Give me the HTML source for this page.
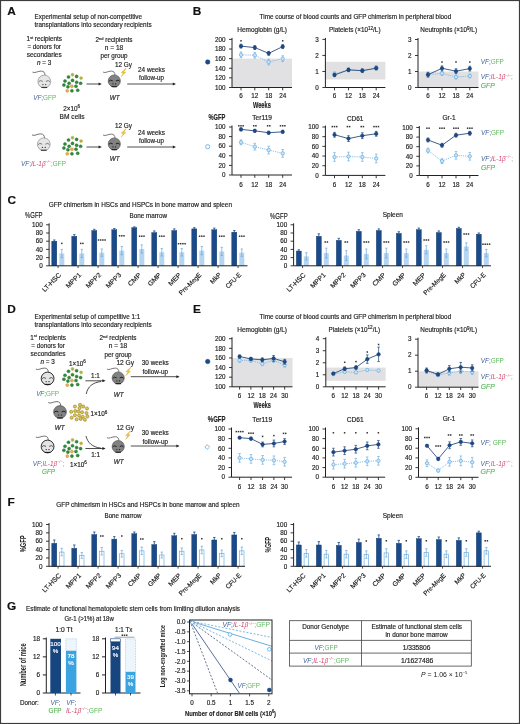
<!DOCTYPE html>
<html><head><meta charset="utf-8"><title>Figure</title>
<style>
html,body{margin:0;padding:0;background:#fff;}
body{width:520px;height:724px;overflow:hidden;}
svg{display:block;will-change:transform;}
text{font-family:"Liberation Sans", sans-serif;paint-order:stroke;stroke-width:0.16px;stroke-linejoin:round;}
</style></head>
<body>
<svg width="520" height="724" viewBox="0 0 520 724" font-family='"Liberation Sans", sans-serif'>
<rect x="0" y="0" width="520" height="724" fill="#fff"/>
<text x="7.20" y="15.40" font-size="10.6" fill="#111" stroke="#111" font-weight="bold" transform="translate(7.20,15.40) scale(1.12,1) translate(-7.20,-15.40)" >A</text>
<text x="192.80" y="15.40" font-size="10.6" fill="#111" stroke="#111" font-weight="bold" transform="translate(192.80,15.40) scale(1.12,1) translate(-192.80,-15.40)" >B</text>
<text x="7.40" y="204.40" font-size="10.6" fill="#111" stroke="#111" font-weight="bold" transform="translate(7.40,204.40) scale(1.12,1) translate(-7.40,-204.40)" >C</text>
<text x="7.20" y="313.00" font-size="10.6" fill="#111" stroke="#111" font-weight="bold" transform="translate(7.20,313.00) scale(1.12,1) translate(-7.20,-313.00)" >D</text>
<text x="193.00" y="313.40" font-size="10.6" fill="#111" stroke="#111" font-weight="bold" transform="translate(193.00,313.40) scale(1.12,1) translate(-193.00,-313.40)" >E</text>
<text x="7.40" y="506.30" font-size="10.6" fill="#111" stroke="#111" font-weight="bold" transform="translate(7.40,506.30) scale(1.12,1) translate(-7.40,-506.30)" >F</text>
<text x="7.00" y="610.00" font-size="10.6" fill="#111" stroke="#111" font-weight="bold" transform="translate(7.00,610.00) scale(1.12,1) translate(-7.00,-610.00)" >G</text>
<text x="34.60" y="19.40" font-size="6.35" fill="#222" stroke="#222" textLength="107.40" lengthAdjust="spacingAndGlyphs" >Experimental setup of non-competitive</text>
<text x="34.60" y="27.30" font-size="6.35" fill="#222" stroke="#222" textLength="117.00" lengthAdjust="spacingAndGlyphs" >transplantations into secondary recipients</text>
<text x="44.20" y="41.40" font-size="6.35" fill="#222" stroke="#222" text-anchor="middle" >1<tspan font-size="4" dy="-2.2">st</tspan><tspan dy="2.2"> recipients</tspan></text>
<text x="44.20" y="49.40" font-size="6.35" fill="#222" stroke="#222" text-anchor="middle" textLength="33.50" lengthAdjust="spacingAndGlyphs" >= donors for</text>
<text x="44.20" y="57.40" font-size="6.35" fill="#222" stroke="#222" text-anchor="middle" textLength="35.00" lengthAdjust="spacingAndGlyphs" >secondaries</text>
<text x="44.20" y="65.40" font-size="6.35" fill="#222" stroke="#222" text-anchor="middle" ><tspan font-style="italic">n</tspan> = 3</text>
<text x="114.00" y="42.00" font-size="6.35" fill="#222" stroke="#222" text-anchor="middle" >2<tspan font-size="4" dy="-2.2">nd</tspan><tspan dy="2.2"> recipients</tspan></text>
<text x="114.00" y="50.00" font-size="6.35" fill="#222" stroke="#222" text-anchor="middle" textLength="18.60" lengthAdjust="spacingAndGlyphs" >n = 18</text>
<text x="114.00" y="58.00" font-size="6.35" fill="#222" stroke="#222" text-anchor="middle" textLength="27.00" lengthAdjust="spacingAndGlyphs" >per group</text>
<text x="115.00" y="67.30" font-size="6.35" fill="#222" stroke="#222" textLength="17.00" lengthAdjust="spacingAndGlyphs" >12 Gy</text>
<text x="151.50" y="71.50" font-size="6.35" fill="#222" stroke="#222" text-anchor="middle" textLength="27.00" lengthAdjust="spacingAndGlyphs" >24 weeks</text>
<text x="151.50" y="80.00" font-size="6.35" fill="#222" stroke="#222" text-anchor="middle" textLength="25.00" lengthAdjust="spacingAndGlyphs" >follow-up</text>
<line x1="86.50" y1="84.00" x2="99.30" y2="84.00" stroke="#222" stroke-width="0.8" />
<path d="M101.80,84.00 L98.60,82.50 L98.60,85.50 Z" fill="#222"/>
<line x1="127.20" y1="84.00" x2="173.50" y2="84.00" stroke="#222" stroke-width="0.8" />
<path d="M176.00,84.00 L172.80,82.50 L172.80,85.50 Z" fill="#222"/>
<path d="M125.80,68.30 l-4.6,4.4 l2.2,0.2 l-2.2,3.8 l4.6,-4.6 l-2.1,-0.2 l2.6,-3.6 z" fill="#f3c53a" stroke="#c9961c" stroke-width="0.3"/>
<g transform="translate(114.30,81.00) scale(0.95)"><path d="M-11.8,-9.4 C-9.5,-7.8 -6.5,-10.6 -3,-10.4 C-0.6,-10.3 0.6,-9 0.7,-6.4" fill="none" stroke="#444" stroke-width="0.75"/><circle cx="0" cy="0" r="6.4" fill="#828282" stroke="#3c3c3c" stroke-width="0.6"/><path d="M-5.7,0.3 Q-4.3,-1.9 -1.6,-0.1 M5.7,0.3 Q4.3,-1.9 1.6,-0.1" fill="none" stroke="#1e1e1e" stroke-width="1.0"/><circle cx="-1.4" cy="3.1" r="0.65" fill="#1e1e1e"/><circle cx="1.4" cy="3.1" r="0.65" fill="#1e1e1e"/><path d="M-2.9,5.9 L2.9,5.9" stroke="#1e1e1e" stroke-width="1.1"/></g>
<text x="114.60" y="99.60" font-size="6.35" fill="#222" stroke="#222" text-anchor="middle" font-style="italic" >WT</text>
<circle cx="72.50" cy="74.70" r="1.45" fill="#9bb84a" stroke="#d2aa3c" stroke-width="0.6"/><circle cx="68.50" cy="77.00" r="1.55" fill="#2f8a3a" stroke="#256e2e" stroke-width="0.4"/><circle cx="76.60" cy="76.40" r="1.55" fill="#2f8a3a" stroke="#256e2e" stroke-width="0.4"/><circle cx="81.10" cy="78.10" r="1.45" fill="#9bb84a" stroke="#d2aa3c" stroke-width="0.6"/><circle cx="65.00" cy="81.00" r="1.55" fill="#2f8a3a" stroke="#256e2e" stroke-width="0.4"/><circle cx="72.50" cy="80.40" r="1.55" fill="#2f8a3a" stroke="#256e2e" stroke-width="0.4"/><circle cx="76.60" cy="82.20" r="1.55" fill="#2f8a3a" stroke="#256e2e" stroke-width="0.4"/><circle cx="80.60" cy="83.30" r="1.55" fill="#2f8a3a" stroke="#256e2e" stroke-width="0.4"/><circle cx="69.10" cy="83.30" r="1.55" fill="#2f8a3a" stroke="#256e2e" stroke-width="0.4"/><circle cx="63.90" cy="85.00" r="1.55" fill="#2f8a3a" stroke="#256e2e" stroke-width="0.4"/><circle cx="71.90" cy="86.20" r="1.55" fill="#e3ad55" stroke="#c98d2e" stroke-width="0.4"/><circle cx="67.90" cy="86.80" r="1.55" fill="#2f8a3a" stroke="#256e2e" stroke-width="0.4"/><circle cx="76.00" cy="86.20" r="1.55" fill="#2f8a3a" stroke="#256e2e" stroke-width="0.4"/><circle cx="67.30" cy="90.80" r="1.55" fill="#e3ad55" stroke="#c98d2e" stroke-width="0.4"/><circle cx="71.90" cy="90.80" r="1.55" fill="#2f8a3a" stroke="#256e2e" stroke-width="0.4"/><circle cx="77.70" cy="90.20" r="1.55" fill="#2f8a3a" stroke="#256e2e" stroke-width="0.4"/>
<text x="115.00" y="127.50" font-size="6.35" fill="#222" stroke="#222" textLength="17.00" lengthAdjust="spacingAndGlyphs" >12 Gy</text>
<text x="151.50" y="134.50" font-size="6.35" fill="#222" stroke="#222" text-anchor="middle" textLength="27.00" lengthAdjust="spacingAndGlyphs" >24 weeks</text>
<text x="151.50" y="143.00" font-size="6.35" fill="#222" stroke="#222" text-anchor="middle" textLength="25.00" lengthAdjust="spacingAndGlyphs" >follow-up</text>
<line x1="86.50" y1="147.00" x2="99.30" y2="147.00" stroke="#222" stroke-width="0.8" />
<path d="M101.80,147.00 L98.60,145.50 L98.60,148.50 Z" fill="#222"/>
<line x1="127.20" y1="147.00" x2="173.50" y2="147.00" stroke="#222" stroke-width="0.8" />
<path d="M176.00,147.00 L172.80,145.50 L172.80,148.50 Z" fill="#222"/>
<path d="M125.80,128.80 l-4.6,4.4 l2.2,0.2 l-2.2,3.8 l4.6,-4.6 l-2.1,-0.2 l2.6,-3.6 z" fill="#f3c53a" stroke="#c9961c" stroke-width="0.3"/>
<g transform="translate(114.30,144.00) scale(0.95)"><path d="M-11.8,-9.4 C-9.5,-7.8 -6.5,-10.6 -3,-10.4 C-0.6,-10.3 0.6,-9 0.7,-6.4" fill="none" stroke="#444" stroke-width="0.75"/><circle cx="0" cy="0" r="6.4" fill="#828282" stroke="#3c3c3c" stroke-width="0.6"/><path d="M-5.7,0.3 Q-4.3,-1.9 -1.6,-0.1 M5.7,0.3 Q4.3,-1.9 1.6,-0.1" fill="none" stroke="#1e1e1e" stroke-width="1.0"/><circle cx="-1.4" cy="3.1" r="0.65" fill="#1e1e1e"/><circle cx="1.4" cy="3.1" r="0.65" fill="#1e1e1e"/><path d="M-2.9,5.9 L2.9,5.9" stroke="#1e1e1e" stroke-width="1.1"/></g>
<text x="114.60" y="160.60" font-size="6.35" fill="#222" stroke="#222" text-anchor="middle" font-style="italic" >WT</text>
<circle cx="72.50" cy="137.70" r="1.45" fill="#9bb84a" stroke="#d2aa3c" stroke-width="0.6"/><circle cx="68.50" cy="140.00" r="1.55" fill="#2f8a3a" stroke="#256e2e" stroke-width="0.4"/><circle cx="76.60" cy="139.40" r="1.55" fill="#2f8a3a" stroke="#256e2e" stroke-width="0.4"/><circle cx="81.10" cy="141.10" r="1.45" fill="#9bb84a" stroke="#d2aa3c" stroke-width="0.6"/><circle cx="65.00" cy="144.00" r="1.55" fill="#2f8a3a" stroke="#256e2e" stroke-width="0.4"/><circle cx="72.50" cy="143.40" r="1.55" fill="#2f8a3a" stroke="#256e2e" stroke-width="0.4"/><circle cx="76.60" cy="145.20" r="1.55" fill="#2f8a3a" stroke="#256e2e" stroke-width="0.4"/><circle cx="80.60" cy="146.30" r="1.55" fill="#2f8a3a" stroke="#256e2e" stroke-width="0.4"/><circle cx="69.10" cy="146.30" r="1.55" fill="#2f8a3a" stroke="#256e2e" stroke-width="0.4"/><circle cx="63.90" cy="148.00" r="1.55" fill="#2f8a3a" stroke="#256e2e" stroke-width="0.4"/><circle cx="71.90" cy="149.20" r="1.55" fill="#e3ad55" stroke="#c98d2e" stroke-width="0.4"/><circle cx="67.90" cy="149.80" r="1.55" fill="#2f8a3a" stroke="#256e2e" stroke-width="0.4"/><circle cx="76.00" cy="149.20" r="1.55" fill="#2f8a3a" stroke="#256e2e" stroke-width="0.4"/><circle cx="67.30" cy="153.80" r="1.55" fill="#e3ad55" stroke="#c98d2e" stroke-width="0.4"/><circle cx="71.90" cy="153.80" r="1.55" fill="#2f8a3a" stroke="#256e2e" stroke-width="0.4"/><circle cx="77.70" cy="153.20" r="1.55" fill="#2f8a3a" stroke="#256e2e" stroke-width="0.4"/>
<g transform="translate(44.30,81.50) scale(1.0)"><path d="M-11.8,-9.4 C-9.5,-7.8 -6.5,-10.6 -3,-10.4 C-0.6,-10.3 0.6,-9 0.7,-6.4" fill="none" stroke="#444" stroke-width="0.75"/><circle cx="0" cy="0" r="6.4" fill="#e6e6e6" stroke="#7a7a7a" stroke-width="0.6"/><path d="M-5.7,0.3 Q-4.3,-1.9 -1.6,-0.1 M5.7,0.3 Q4.3,-1.9 1.6,-0.1" fill="none" stroke="#7a7a7a" stroke-width="1.0"/><circle cx="-1.4" cy="3.1" r="0.65" fill="#333"/><circle cx="1.4" cy="3.1" r="0.65" fill="#333"/><path d="M-2.9,5.9 L2.9,5.9" stroke="#333" stroke-width="1.1"/></g>
<g transform="translate(43.80,144.30) scale(1.0)"><path d="M-11.8,-9.4 C-9.5,-7.8 -6.5,-10.6 -3,-10.4 C-0.6,-10.3 0.6,-9 0.7,-6.4" fill="none" stroke="#444" stroke-width="0.75"/><circle cx="0" cy="0" r="6.4" fill="#e6e6e6" stroke="#7a7a7a" stroke-width="0.6"/><path d="M-5.7,0.3 Q-4.3,-1.9 -1.6,-0.1 M5.7,0.3 Q4.3,-1.9 1.6,-0.1" fill="none" stroke="#7a7a7a" stroke-width="1.0"/><circle cx="-1.4" cy="3.1" r="0.65" fill="#333"/><circle cx="1.4" cy="3.1" r="0.65" fill="#333"/><path d="M-2.9,5.9 L2.9,5.9" stroke="#333" stroke-width="1.1"/></g>
<text x="44.70" y="99.50" font-size="6.35" text-anchor="middle"><tspan fill="#3e5f98" font-style="italic">VF</tspan><tspan fill="#3e5f98">;</tspan><tspan fill="#5cb85c">GFP</tspan></text>
<text x="71.60" y="111.00" font-size="6.35" fill="#222" stroke="#222" text-anchor="middle" >2×10<tspan font-size="4.6" dy="-2.6">6</tspan></text>
<text x="72.10" y="118.80" font-size="6.35" fill="#222" stroke="#222" text-anchor="middle" textLength="25.00" lengthAdjust="spacingAndGlyphs" >BM cells</text>
<text x="21.00" y="165.60" font-size="6.35" textLength="45.00" lengthAdjust="spacingAndGlyphs"><tspan fill="#3e5f98" font-style="italic">VF</tspan><tspan fill="#3e5f98">;</tspan><tspan fill="#d4466e" font-style="italic">IL-1β</tspan><tspan fill="#d4466e" font-style="italic"><tspan font-size="3.81" dy="-2.54">−/−</tspan></tspan><tspan fill="#5cb85c" dy="2.54">;GFP</tspan></text>
<text x="259.60" y="19.30" font-size="6.35" fill="#222" stroke="#222" textLength="191.60" lengthAdjust="spacingAndGlyphs" >Time course of blood counts and GFP chimerism in peripheral blood</text>
<text x="237.30" y="32.30" font-size="6.35" fill="#222" stroke="#222" textLength="49.70" lengthAdjust="spacingAndGlyphs" >Hemoglobin (g/L)</text>
<rect x="232.00" y="58.64" width="60.00" height="28.86" fill="#e1e1e3" stroke="none" stroke-width="0" />
<line x1="232.00" y1="37.90" x2="232.00" y2="87.50" stroke="#222" stroke-width="1.0" />
<line x1="232.00" y1="87.50" x2="292.00" y2="87.50" stroke="#222" stroke-width="1.0" />
<line x1="229.00" y1="87.50" x2="232.00" y2="87.50" stroke="#222" stroke-width="0.9" />
<text x="225.40" y="89.75" font-size="6.3" fill="#222" stroke="#222" text-anchor="end" >100</text>
<line x1="229.00" y1="77.88" x2="232.00" y2="77.88" stroke="#222" stroke-width="0.9" />
<text x="225.40" y="80.13" font-size="6.3" fill="#222" stroke="#222" text-anchor="end" >120</text>
<line x1="229.00" y1="68.26" x2="232.00" y2="68.26" stroke="#222" stroke-width="0.9" />
<text x="225.40" y="70.51" font-size="6.3" fill="#222" stroke="#222" text-anchor="end" >140</text>
<line x1="229.00" y1="58.64" x2="232.00" y2="58.64" stroke="#222" stroke-width="0.9" />
<text x="225.40" y="60.89" font-size="6.3" fill="#222" stroke="#222" text-anchor="end" >160</text>
<line x1="229.00" y1="49.02" x2="232.00" y2="49.02" stroke="#222" stroke-width="0.9" />
<text x="225.40" y="51.27" font-size="6.3" fill="#222" stroke="#222" text-anchor="end" >180</text>
<line x1="229.00" y1="39.40" x2="232.00" y2="39.40" stroke="#222" stroke-width="0.9" />
<text x="225.40" y="41.65" font-size="6.3" fill="#222" stroke="#222" text-anchor="end" >200</text>
<line x1="241.00" y1="87.50" x2="241.00" y2="90.30" stroke="#222" stroke-width="0.9" />
<line x1="254.80" y1="87.50" x2="254.80" y2="90.30" stroke="#222" stroke-width="0.9" />
<line x1="268.70" y1="87.50" x2="268.70" y2="90.30" stroke="#222" stroke-width="0.9" />
<line x1="282.70" y1="87.50" x2="282.70" y2="90.30" stroke="#222" stroke-width="0.9" />
<text x="241.00" y="98.40" font-size="6.3" fill="#222" stroke="#222" text-anchor="middle" >6</text>
<text x="254.80" y="98.40" font-size="6.3" fill="#222" stroke="#222" text-anchor="middle" >12</text>
<text x="268.70" y="98.40" font-size="6.3" fill="#222" stroke="#222" text-anchor="middle" >18</text>
<text x="282.70" y="98.40" font-size="6.3" fill="#222" stroke="#222" text-anchor="middle" >24</text>
<polyline points="241.00,54.79 254.80,55.27 268.70,62.01 282.70,58.64" fill="none" stroke="#6fb1e3" stroke-width="0.8" stroke-dasharray="1.2,1"/>
<line x1="241.00" y1="57.68" x2="241.00" y2="51.91" stroke="#6fb1e3" stroke-width="0.7" />
<line x1="239.70" y1="51.91" x2="242.30" y2="51.91" stroke="#6fb1e3" stroke-width="0.7" />
<line x1="239.70" y1="57.68" x2="242.30" y2="57.68" stroke="#6fb1e3" stroke-width="0.7" />
<circle cx="241.00" cy="54.79" r="1.7" fill="#cfe6f7" stroke="#6fb1e3" stroke-width="0.8"/>
<line x1="254.80" y1="58.16" x2="254.80" y2="52.39" stroke="#6fb1e3" stroke-width="0.7" />
<line x1="253.50" y1="52.39" x2="256.10" y2="52.39" stroke="#6fb1e3" stroke-width="0.7" />
<line x1="253.50" y1="58.16" x2="256.10" y2="58.16" stroke="#6fb1e3" stroke-width="0.7" />
<circle cx="254.80" cy="55.27" r="1.7" fill="#cfe6f7" stroke="#6fb1e3" stroke-width="0.8"/>
<line x1="268.70" y1="64.89" x2="268.70" y2="59.12" stroke="#6fb1e3" stroke-width="0.7" />
<line x1="267.40" y1="59.12" x2="270.00" y2="59.12" stroke="#6fb1e3" stroke-width="0.7" />
<line x1="267.40" y1="64.89" x2="270.00" y2="64.89" stroke="#6fb1e3" stroke-width="0.7" />
<circle cx="268.70" cy="62.01" r="1.7" fill="#cfe6f7" stroke="#6fb1e3" stroke-width="0.8"/>
<line x1="282.70" y1="61.53" x2="282.70" y2="55.75" stroke="#6fb1e3" stroke-width="0.7" />
<line x1="281.40" y1="55.75" x2="284.00" y2="55.75" stroke="#6fb1e3" stroke-width="0.7" />
<line x1="281.40" y1="61.53" x2="284.00" y2="61.53" stroke="#6fb1e3" stroke-width="0.7" />
<circle cx="282.70" cy="58.64" r="1.7" fill="#cfe6f7" stroke="#6fb1e3" stroke-width="0.8"/>
<polyline points="241.00,46.13 254.80,47.58 268.70,53.35 282.70,46.62" fill="none" stroke="#1f4275" stroke-width="0.85"/>
<line x1="241.00" y1="48.06" x2="241.00" y2="44.21" stroke="#1f4275" stroke-width="0.7" />
<line x1="239.70" y1="44.21" x2="242.30" y2="44.21" stroke="#1f4275" stroke-width="0.7" />
<line x1="239.70" y1="48.06" x2="242.30" y2="48.06" stroke="#1f4275" stroke-width="0.7" />
<circle cx="241.00" cy="46.13" r="1.8" fill="#1a4a88" stroke="#12386a" stroke-width="0.4"/>
<line x1="254.80" y1="49.50" x2="254.80" y2="45.65" stroke="#1f4275" stroke-width="0.7" />
<line x1="253.50" y1="45.65" x2="256.10" y2="45.65" stroke="#1f4275" stroke-width="0.7" />
<line x1="253.50" y1="49.50" x2="256.10" y2="49.50" stroke="#1f4275" stroke-width="0.7" />
<circle cx="254.80" cy="47.58" r="1.8" fill="#1a4a88" stroke="#12386a" stroke-width="0.4"/>
<line x1="268.70" y1="55.27" x2="268.70" y2="51.42" stroke="#1f4275" stroke-width="0.7" />
<line x1="267.40" y1="51.42" x2="270.00" y2="51.42" stroke="#1f4275" stroke-width="0.7" />
<line x1="267.40" y1="55.27" x2="270.00" y2="55.27" stroke="#1f4275" stroke-width="0.7" />
<circle cx="268.70" cy="53.35" r="1.8" fill="#1a4a88" stroke="#12386a" stroke-width="0.4"/>
<line x1="282.70" y1="48.54" x2="282.70" y2="44.69" stroke="#1f4275" stroke-width="0.7" />
<line x1="281.40" y1="44.69" x2="284.00" y2="44.69" stroke="#1f4275" stroke-width="0.7" />
<line x1="281.40" y1="48.54" x2="284.00" y2="48.54" stroke="#1f4275" stroke-width="0.7" />
<circle cx="282.70" cy="46.62" r="1.8" fill="#1a4a88" stroke="#12386a" stroke-width="0.4"/>
<rect x="240.25" y="40.05" width="1.5" height="1.5" fill="#333"/>
<rect x="281.95" y="40.05" width="1.5" height="1.5" fill="#333"/>
<text x="329.00" y="32.30" font-size="6.35" fill="#222" stroke="#222" >Platelets (×10<tspan font-size="4.6" dy="-2.5">12</tspan><tspan dy="2.5">/L)</tspan></text>
<rect x="325.40" y="61.85" width="60.00" height="17.64" fill="#e1e1e3" stroke="none" stroke-width="0" />
<line x1="325.40" y1="37.90" x2="325.40" y2="87.50" stroke="#222" stroke-width="1.0" />
<line x1="325.40" y1="87.50" x2="385.40" y2="87.50" stroke="#222" stroke-width="1.0" />
<line x1="322.40" y1="87.50" x2="325.40" y2="87.50" stroke="#222" stroke-width="0.9" />
<text x="318.80" y="89.75" font-size="6.3" fill="#222" stroke="#222" text-anchor="end" >0</text>
<line x1="322.40" y1="71.47" x2="325.40" y2="71.47" stroke="#222" stroke-width="0.9" />
<text x="318.80" y="73.72" font-size="6.3" fill="#222" stroke="#222" text-anchor="end" >1</text>
<line x1="322.40" y1="55.43" x2="325.40" y2="55.43" stroke="#222" stroke-width="0.9" />
<text x="318.80" y="57.68" font-size="6.3" fill="#222" stroke="#222" text-anchor="end" >2</text>
<line x1="322.40" y1="39.40" x2="325.40" y2="39.40" stroke="#222" stroke-width="0.9" />
<text x="318.80" y="41.65" font-size="6.3" fill="#222" stroke="#222" text-anchor="end" >3</text>
<line x1="334.50" y1="87.50" x2="334.50" y2="90.30" stroke="#222" stroke-width="0.9" />
<line x1="348.50" y1="87.50" x2="348.50" y2="90.30" stroke="#222" stroke-width="0.9" />
<line x1="362.30" y1="87.50" x2="362.30" y2="90.30" stroke="#222" stroke-width="0.9" />
<line x1="376.20" y1="87.50" x2="376.20" y2="90.30" stroke="#222" stroke-width="0.9" />
<text x="334.50" y="98.40" font-size="6.3" fill="#222" stroke="#222" text-anchor="middle" >6</text>
<text x="348.50" y="98.40" font-size="6.3" fill="#222" stroke="#222" text-anchor="middle" >12</text>
<text x="362.30" y="98.40" font-size="6.3" fill="#222" stroke="#222" text-anchor="middle" >18</text>
<text x="376.20" y="98.40" font-size="6.3" fill="#222" stroke="#222" text-anchor="middle" >24</text>
<polyline points="334.50,73.87 348.50,69.86 362.30,70.66 376.20,67.46" fill="none" stroke="#6fb1e3" stroke-width="0.8" stroke-dasharray="1.2,1"/>
<line x1="334.50" y1="75.80" x2="334.50" y2="71.95" stroke="#6fb1e3" stroke-width="0.7" />
<line x1="333.20" y1="71.95" x2="335.80" y2="71.95" stroke="#6fb1e3" stroke-width="0.7" />
<line x1="333.20" y1="75.80" x2="335.80" y2="75.80" stroke="#6fb1e3" stroke-width="0.7" />
<circle cx="334.50" cy="73.87" r="1.7" fill="#cfe6f7" stroke="#6fb1e3" stroke-width="0.8"/>
<line x1="348.50" y1="71.79" x2="348.50" y2="67.94" stroke="#6fb1e3" stroke-width="0.7" />
<line x1="347.20" y1="67.94" x2="349.80" y2="67.94" stroke="#6fb1e3" stroke-width="0.7" />
<line x1="347.20" y1="71.79" x2="349.80" y2="71.79" stroke="#6fb1e3" stroke-width="0.7" />
<circle cx="348.50" cy="69.86" r="1.7" fill="#cfe6f7" stroke="#6fb1e3" stroke-width="0.8"/>
<line x1="362.30" y1="72.59" x2="362.30" y2="68.74" stroke="#6fb1e3" stroke-width="0.7" />
<line x1="361.00" y1="68.74" x2="363.60" y2="68.74" stroke="#6fb1e3" stroke-width="0.7" />
<line x1="361.00" y1="72.59" x2="363.60" y2="72.59" stroke="#6fb1e3" stroke-width="0.7" />
<circle cx="362.30" cy="70.66" r="1.7" fill="#cfe6f7" stroke="#6fb1e3" stroke-width="0.8"/>
<line x1="376.20" y1="69.38" x2="376.20" y2="65.53" stroke="#6fb1e3" stroke-width="0.7" />
<line x1="374.90" y1="65.53" x2="377.50" y2="65.53" stroke="#6fb1e3" stroke-width="0.7" />
<line x1="374.90" y1="69.38" x2="377.50" y2="69.38" stroke="#6fb1e3" stroke-width="0.7" />
<circle cx="376.20" cy="67.46" r="1.7" fill="#cfe6f7" stroke="#6fb1e3" stroke-width="0.8"/>
<polyline points="334.50,74.99 348.50,69.86 362.30,70.66 376.20,68.26" fill="none" stroke="#1f4275" stroke-width="0.85"/>
<line x1="334.50" y1="76.60" x2="334.50" y2="73.39" stroke="#1f4275" stroke-width="0.7" />
<line x1="333.20" y1="73.39" x2="335.80" y2="73.39" stroke="#1f4275" stroke-width="0.7" />
<line x1="333.20" y1="76.60" x2="335.80" y2="76.60" stroke="#1f4275" stroke-width="0.7" />
<circle cx="334.50" cy="74.99" r="1.8" fill="#1a4a88" stroke="#12386a" stroke-width="0.4"/>
<line x1="348.50" y1="71.47" x2="348.50" y2="68.26" stroke="#1f4275" stroke-width="0.7" />
<line x1="347.20" y1="68.26" x2="349.80" y2="68.26" stroke="#1f4275" stroke-width="0.7" />
<line x1="347.20" y1="71.47" x2="349.80" y2="71.47" stroke="#1f4275" stroke-width="0.7" />
<circle cx="348.50" cy="69.86" r="1.8" fill="#1a4a88" stroke="#12386a" stroke-width="0.4"/>
<line x1="362.30" y1="72.27" x2="362.30" y2="69.06" stroke="#1f4275" stroke-width="0.7" />
<line x1="361.00" y1="69.06" x2="363.60" y2="69.06" stroke="#1f4275" stroke-width="0.7" />
<line x1="361.00" y1="72.27" x2="363.60" y2="72.27" stroke="#1f4275" stroke-width="0.7" />
<circle cx="362.30" cy="70.66" r="1.8" fill="#1a4a88" stroke="#12386a" stroke-width="0.4"/>
<line x1="376.20" y1="69.86" x2="376.20" y2="66.66" stroke="#1f4275" stroke-width="0.7" />
<line x1="374.90" y1="66.66" x2="377.50" y2="66.66" stroke="#1f4275" stroke-width="0.7" />
<line x1="374.90" y1="69.86" x2="377.50" y2="69.86" stroke="#1f4275" stroke-width="0.7" />
<circle cx="376.20" cy="68.26" r="1.8" fill="#1a4a88" stroke="#12386a" stroke-width="0.4"/>
<text x="420.30" y="32.30" font-size="6.35" fill="#222" stroke="#222" >Neutrophils (×10<tspan font-size="4.6" dy="-2.5">9</tspan><tspan dy="2.5">/L)</tspan></text>
<rect x="418.00" y="71.50" width="60.50" height="16.00" fill="#e1e1e3" stroke="none" stroke-width="0" />
<line x1="418.00" y1="38.00" x2="418.00" y2="87.50" stroke="#222" stroke-width="1.0" />
<line x1="418.00" y1="87.50" x2="478.50" y2="87.50" stroke="#222" stroke-width="1.0" />
<line x1="415.00" y1="87.50" x2="418.00" y2="87.50" stroke="#222" stroke-width="0.9" />
<text x="411.40" y="89.75" font-size="6.3" fill="#222" stroke="#222" text-anchor="end" >0</text>
<line x1="415.00" y1="71.50" x2="418.00" y2="71.50" stroke="#222" stroke-width="0.9" />
<text x="411.40" y="73.75" font-size="6.3" fill="#222" stroke="#222" text-anchor="end" >1</text>
<line x1="415.00" y1="55.50" x2="418.00" y2="55.50" stroke="#222" stroke-width="0.9" />
<text x="411.40" y="57.75" font-size="6.3" fill="#222" stroke="#222" text-anchor="end" >2</text>
<line x1="415.00" y1="39.50" x2="418.00" y2="39.50" stroke="#222" stroke-width="0.9" />
<text x="411.40" y="41.75" font-size="6.3" fill="#222" stroke="#222" text-anchor="end" >3</text>
<line x1="428.00" y1="87.50" x2="428.00" y2="90.30" stroke="#222" stroke-width="0.9" />
<line x1="442.00" y1="87.50" x2="442.00" y2="90.30" stroke="#222" stroke-width="0.9" />
<line x1="456.00" y1="87.50" x2="456.00" y2="90.30" stroke="#222" stroke-width="0.9" />
<line x1="469.80" y1="87.50" x2="469.80" y2="90.30" stroke="#222" stroke-width="0.9" />
<text x="428.00" y="98.40" font-size="6.3" fill="#222" stroke="#222" text-anchor="middle" >6</text>
<text x="442.00" y="98.40" font-size="6.3" fill="#222" stroke="#222" text-anchor="middle" >12</text>
<text x="456.00" y="98.40" font-size="6.3" fill="#222" stroke="#222" text-anchor="middle" >18</text>
<text x="469.80" y="98.40" font-size="6.3" fill="#222" stroke="#222" text-anchor="middle" >24</text>
<polyline points="428.00,74.70 442.00,73.42 456.00,77.10 469.80,75.98" fill="none" stroke="#6fb1e3" stroke-width="0.8" stroke-dasharray="1.2,1"/>
<line x1="428.00" y1="76.62" x2="428.00" y2="72.78" stroke="#6fb1e3" stroke-width="0.7" />
<line x1="426.70" y1="72.78" x2="429.30" y2="72.78" stroke="#6fb1e3" stroke-width="0.7" />
<line x1="426.70" y1="76.62" x2="429.30" y2="76.62" stroke="#6fb1e3" stroke-width="0.7" />
<circle cx="428.00" cy="74.70" r="1.7" fill="#cfe6f7" stroke="#6fb1e3" stroke-width="0.8"/>
<line x1="442.00" y1="75.34" x2="442.00" y2="71.50" stroke="#6fb1e3" stroke-width="0.7" />
<line x1="440.70" y1="71.50" x2="443.30" y2="71.50" stroke="#6fb1e3" stroke-width="0.7" />
<line x1="440.70" y1="75.34" x2="443.30" y2="75.34" stroke="#6fb1e3" stroke-width="0.7" />
<circle cx="442.00" cy="73.42" r="1.7" fill="#cfe6f7" stroke="#6fb1e3" stroke-width="0.8"/>
<line x1="456.00" y1="79.02" x2="456.00" y2="75.18" stroke="#6fb1e3" stroke-width="0.7" />
<line x1="454.70" y1="75.18" x2="457.30" y2="75.18" stroke="#6fb1e3" stroke-width="0.7" />
<line x1="454.70" y1="79.02" x2="457.30" y2="79.02" stroke="#6fb1e3" stroke-width="0.7" />
<circle cx="456.00" cy="77.10" r="1.7" fill="#cfe6f7" stroke="#6fb1e3" stroke-width="0.8"/>
<line x1="469.80" y1="77.90" x2="469.80" y2="74.06" stroke="#6fb1e3" stroke-width="0.7" />
<line x1="468.50" y1="74.06" x2="471.10" y2="74.06" stroke="#6fb1e3" stroke-width="0.7" />
<line x1="468.50" y1="77.90" x2="471.10" y2="77.90" stroke="#6fb1e3" stroke-width="0.7" />
<circle cx="469.80" cy="75.98" r="1.7" fill="#cfe6f7" stroke="#6fb1e3" stroke-width="0.8"/>
<polyline points="428.00,74.70 442.00,68.30 456.00,71.18 469.80,68.62" fill="none" stroke="#1f4275" stroke-width="0.85"/>
<line x1="428.00" y1="77.10" x2="428.00" y2="72.30" stroke="#1f4275" stroke-width="0.7" />
<line x1="426.70" y1="72.30" x2="429.30" y2="72.30" stroke="#1f4275" stroke-width="0.7" />
<line x1="426.70" y1="77.10" x2="429.30" y2="77.10" stroke="#1f4275" stroke-width="0.7" />
<circle cx="428.00" cy="74.70" r="1.8" fill="#1a4a88" stroke="#12386a" stroke-width="0.4"/>
<line x1="442.00" y1="70.70" x2="442.00" y2="65.90" stroke="#1f4275" stroke-width="0.7" />
<line x1="440.70" y1="65.90" x2="443.30" y2="65.90" stroke="#1f4275" stroke-width="0.7" />
<line x1="440.70" y1="70.70" x2="443.30" y2="70.70" stroke="#1f4275" stroke-width="0.7" />
<circle cx="442.00" cy="68.30" r="1.8" fill="#1a4a88" stroke="#12386a" stroke-width="0.4"/>
<line x1="456.00" y1="73.58" x2="456.00" y2="68.78" stroke="#1f4275" stroke-width="0.7" />
<line x1="454.70" y1="68.78" x2="457.30" y2="68.78" stroke="#1f4275" stroke-width="0.7" />
<line x1="454.70" y1="73.58" x2="457.30" y2="73.58" stroke="#1f4275" stroke-width="0.7" />
<circle cx="456.00" cy="71.18" r="1.8" fill="#1a4a88" stroke="#12386a" stroke-width="0.4"/>
<line x1="469.80" y1="71.02" x2="469.80" y2="66.22" stroke="#1f4275" stroke-width="0.7" />
<line x1="468.50" y1="66.22" x2="471.10" y2="66.22" stroke="#1f4275" stroke-width="0.7" />
<line x1="468.50" y1="71.02" x2="471.10" y2="71.02" stroke="#1f4275" stroke-width="0.7" />
<circle cx="469.80" cy="68.62" r="1.8" fill="#1a4a88" stroke="#12386a" stroke-width="0.4"/>
<rect x="441.25" y="61.25" width="1.5" height="1.5" fill="#333"/>
<rect x="455.25" y="61.25" width="1.5" height="1.5" fill="#333"/>
<rect x="469.05" y="61.25" width="1.5" height="1.5" fill="#333"/>
<text x="480.80" y="64.20" font-size="6.7" textLength="23.00" lengthAdjust="spacingAndGlyphs"><tspan fill="#3e5f98" font-style="italic">VF</tspan><tspan fill="#3e5f98">;</tspan><tspan fill="#5cb85c">GFP</tspan></text>
<text x="480.80" y="79.40" font-size="6.7" textLength="32.00" lengthAdjust="spacingAndGlyphs"><tspan fill="#3e5f98" font-style="italic">VF</tspan><tspan fill="#3e5f98">;</tspan><tspan fill="#d4466e" font-style="italic">IL-1β</tspan><tspan fill="#d4466e" font-style="italic"><tspan font-size="4.02" dy="-2.68">−/−</tspan></tspan><tspan fill="#5cb85c" dy="2.68">;</tspan></text>
<text x="480.80" y="88.20" font-size="6.7" fill="#5cb85c" stroke="#5cb85c" font-style="italic" textLength="14.00" lengthAdjust="spacingAndGlyphs" >GFP</text>
<circle cx="207.70" cy="62.00" r="2.3" fill="#1a4a88" stroke="#12386a" stroke-width="0.4"/>
<circle cx="207.70" cy="146.70" r="2.1" fill="#ffffff" stroke="#6fb1e3" stroke-width="0.9"/>
<text x="253.00" y="108.40" font-size="9.0" fill="#222" stroke="#222" font-weight="bold" textLength="17.80" lengthAdjust="spacingAndGlyphs" >Weeks</text>
<text x="208.50" y="119.90" font-size="9.0" fill="#222" stroke="#222" font-weight="bold" textLength="16.90" lengthAdjust="spacingAndGlyphs" >%GFP</text>
<text x="252.30" y="119.90" font-size="6.6" fill="#222" stroke="#222" textLength="19.70" lengthAdjust="spacingAndGlyphs" >Ter119</text>
<line x1="232.00" y1="125.50" x2="232.00" y2="175.00" stroke="#222" stroke-width="1.0" />
<line x1="232.00" y1="175.00" x2="292.00" y2="175.00" stroke="#222" stroke-width="1.0" />
<line x1="229.00" y1="175.00" x2="232.00" y2="175.00" stroke="#222" stroke-width="0.9" />
<text x="225.40" y="177.25" font-size="6.3" fill="#222" stroke="#222" text-anchor="end" >0</text>
<line x1="229.00" y1="165.40" x2="232.00" y2="165.40" stroke="#222" stroke-width="0.9" />
<text x="225.40" y="167.65" font-size="6.3" fill="#222" stroke="#222" text-anchor="end" >20</text>
<line x1="229.00" y1="155.80" x2="232.00" y2="155.80" stroke="#222" stroke-width="0.9" />
<text x="225.40" y="158.05" font-size="6.3" fill="#222" stroke="#222" text-anchor="end" >40</text>
<line x1="229.00" y1="146.20" x2="232.00" y2="146.20" stroke="#222" stroke-width="0.9" />
<text x="225.40" y="148.45" font-size="6.3" fill="#222" stroke="#222" text-anchor="end" >60</text>
<line x1="229.00" y1="136.60" x2="232.00" y2="136.60" stroke="#222" stroke-width="0.9" />
<text x="225.40" y="138.85" font-size="6.3" fill="#222" stroke="#222" text-anchor="end" >80</text>
<line x1="229.00" y1="127.00" x2="232.00" y2="127.00" stroke="#222" stroke-width="0.9" />
<text x="225.40" y="129.25" font-size="6.3" fill="#222" stroke="#222" text-anchor="end" >100</text>
<line x1="241.00" y1="175.00" x2="241.00" y2="177.80" stroke="#222" stroke-width="0.9" />
<line x1="254.80" y1="175.00" x2="254.80" y2="177.80" stroke="#222" stroke-width="0.9" />
<line x1="268.70" y1="175.00" x2="268.70" y2="177.80" stroke="#222" stroke-width="0.9" />
<line x1="282.70" y1="175.00" x2="282.70" y2="177.80" stroke="#222" stroke-width="0.9" />
<text x="241.00" y="186.70" font-size="6.3" fill="#222" stroke="#222" text-anchor="middle" >6</text>
<text x="254.80" y="186.70" font-size="6.3" fill="#222" stroke="#222" text-anchor="middle" >12</text>
<text x="268.70" y="186.70" font-size="6.3" fill="#222" stroke="#222" text-anchor="middle" >18</text>
<text x="282.70" y="186.70" font-size="6.3" fill="#222" stroke="#222" text-anchor="middle" >24</text>
<polyline points="241.00,142.36 254.80,146.68 268.70,150.04 282.70,153.40" fill="none" stroke="#6fb1e3" stroke-width="0.8" stroke-dasharray="1.2,1"/>
<line x1="241.00" y1="144.76" x2="241.00" y2="139.96" stroke="#6fb1e3" stroke-width="0.7" />
<line x1="239.70" y1="139.96" x2="242.30" y2="139.96" stroke="#6fb1e3" stroke-width="0.7" />
<line x1="239.70" y1="144.76" x2="242.30" y2="144.76" stroke="#6fb1e3" stroke-width="0.7" />
<circle cx="241.00" cy="142.36" r="1.7" fill="#cfe6f7" stroke="#6fb1e3" stroke-width="0.8"/>
<line x1="254.80" y1="150.04" x2="254.80" y2="143.32" stroke="#6fb1e3" stroke-width="0.7" />
<line x1="253.50" y1="143.32" x2="256.10" y2="143.32" stroke="#6fb1e3" stroke-width="0.7" />
<line x1="253.50" y1="150.04" x2="256.10" y2="150.04" stroke="#6fb1e3" stroke-width="0.7" />
<circle cx="254.80" cy="146.68" r="1.7" fill="#cfe6f7" stroke="#6fb1e3" stroke-width="0.8"/>
<line x1="268.70" y1="153.88" x2="268.70" y2="146.20" stroke="#6fb1e3" stroke-width="0.7" />
<line x1="267.40" y1="146.20" x2="270.00" y2="146.20" stroke="#6fb1e3" stroke-width="0.7" />
<line x1="267.40" y1="153.88" x2="270.00" y2="153.88" stroke="#6fb1e3" stroke-width="0.7" />
<circle cx="268.70" cy="150.04" r="1.7" fill="#cfe6f7" stroke="#6fb1e3" stroke-width="0.8"/>
<line x1="282.70" y1="157.24" x2="282.70" y2="149.56" stroke="#6fb1e3" stroke-width="0.7" />
<line x1="281.40" y1="149.56" x2="284.00" y2="149.56" stroke="#6fb1e3" stroke-width="0.7" />
<line x1="281.40" y1="157.24" x2="284.00" y2="157.24" stroke="#6fb1e3" stroke-width="0.7" />
<circle cx="282.70" cy="153.40" r="1.7" fill="#cfe6f7" stroke="#6fb1e3" stroke-width="0.8"/>
<polyline points="241.00,129.40 254.80,130.84 268.70,132.76 282.70,131.80" fill="none" stroke="#1f4275" stroke-width="0.85"/>
<line x1="241.00" y1="130.84" x2="241.00" y2="127.96" stroke="#1f4275" stroke-width="0.7" />
<line x1="239.70" y1="127.96" x2="242.30" y2="127.96" stroke="#1f4275" stroke-width="0.7" />
<line x1="239.70" y1="130.84" x2="242.30" y2="130.84" stroke="#1f4275" stroke-width="0.7" />
<circle cx="241.00" cy="129.40" r="1.8" fill="#1a4a88" stroke="#12386a" stroke-width="0.4"/>
<line x1="254.80" y1="132.28" x2="254.80" y2="129.40" stroke="#1f4275" stroke-width="0.7" />
<line x1="253.50" y1="129.40" x2="256.10" y2="129.40" stroke="#1f4275" stroke-width="0.7" />
<line x1="253.50" y1="132.28" x2="256.10" y2="132.28" stroke="#1f4275" stroke-width="0.7" />
<circle cx="254.80" cy="130.84" r="1.8" fill="#1a4a88" stroke="#12386a" stroke-width="0.4"/>
<line x1="268.70" y1="134.20" x2="268.70" y2="131.32" stroke="#1f4275" stroke-width="0.7" />
<line x1="267.40" y1="131.32" x2="270.00" y2="131.32" stroke="#1f4275" stroke-width="0.7" />
<line x1="267.40" y1="134.20" x2="270.00" y2="134.20" stroke="#1f4275" stroke-width="0.7" />
<circle cx="268.70" cy="132.76" r="1.8" fill="#1a4a88" stroke="#12386a" stroke-width="0.4"/>
<line x1="282.70" y1="133.24" x2="282.70" y2="130.36" stroke="#1f4275" stroke-width="0.7" />
<line x1="281.40" y1="130.36" x2="284.00" y2="130.36" stroke="#1f4275" stroke-width="0.7" />
<line x1="281.40" y1="133.24" x2="284.00" y2="133.24" stroke="#1f4275" stroke-width="0.7" />
<circle cx="282.70" cy="131.80" r="1.8" fill="#1a4a88" stroke="#12386a" stroke-width="0.4"/>
<rect x="238.05" y="125.05" width="1.5" height="1.5" fill="#333"/>
<rect x="240.25" y="125.05" width="1.5" height="1.5" fill="#333"/>
<rect x="242.45" y="125.05" width="1.5" height="1.5" fill="#333"/>
<rect x="252.95" y="125.05" width="1.5" height="1.5" fill="#333"/>
<rect x="255.15" y="125.05" width="1.5" height="1.5" fill="#333"/>
<rect x="266.85" y="125.05" width="1.5" height="1.5" fill="#333"/>
<rect x="269.05" y="125.05" width="1.5" height="1.5" fill="#333"/>
<rect x="279.75" y="125.05" width="1.5" height="1.5" fill="#333"/>
<rect x="281.95" y="125.05" width="1.5" height="1.5" fill="#333"/>
<rect x="284.15" y="125.05" width="1.5" height="1.5" fill="#333"/>
<text x="355.20" y="120.50" font-size="6.35" fill="#222" stroke="#222" text-anchor="middle" textLength="16.50" lengthAdjust="spacingAndGlyphs" >CD61</text>
<line x1="325.40" y1="125.50" x2="325.40" y2="175.40" stroke="#222" stroke-width="1.0" />
<line x1="325.40" y1="175.40" x2="385.40" y2="175.40" stroke="#222" stroke-width="1.0" />
<line x1="322.40" y1="175.40" x2="325.40" y2="175.40" stroke="#222" stroke-width="0.9" />
<text x="318.80" y="177.65" font-size="6.3" fill="#222" stroke="#222" text-anchor="end" >0</text>
<line x1="322.40" y1="165.72" x2="325.40" y2="165.72" stroke="#222" stroke-width="0.9" />
<text x="318.80" y="167.97" font-size="6.3" fill="#222" stroke="#222" text-anchor="end" >20</text>
<line x1="322.40" y1="156.04" x2="325.40" y2="156.04" stroke="#222" stroke-width="0.9" />
<text x="318.80" y="158.29" font-size="6.3" fill="#222" stroke="#222" text-anchor="end" >40</text>
<line x1="322.40" y1="146.36" x2="325.40" y2="146.36" stroke="#222" stroke-width="0.9" />
<text x="318.80" y="148.61" font-size="6.3" fill="#222" stroke="#222" text-anchor="end" >60</text>
<line x1="322.40" y1="136.68" x2="325.40" y2="136.68" stroke="#222" stroke-width="0.9" />
<text x="318.80" y="138.93" font-size="6.3" fill="#222" stroke="#222" text-anchor="end" >80</text>
<line x1="322.40" y1="127.00" x2="325.40" y2="127.00" stroke="#222" stroke-width="0.9" />
<text x="318.80" y="129.25" font-size="6.3" fill="#222" stroke="#222" text-anchor="end" >100</text>
<line x1="334.50" y1="175.40" x2="334.50" y2="178.20" stroke="#222" stroke-width="0.9" />
<line x1="348.50" y1="175.40" x2="348.50" y2="178.20" stroke="#222" stroke-width="0.9" />
<line x1="362.30" y1="175.40" x2="362.30" y2="178.20" stroke="#222" stroke-width="0.9" />
<line x1="376.20" y1="175.40" x2="376.20" y2="178.20" stroke="#222" stroke-width="0.9" />
<text x="334.50" y="186.70" font-size="6.3" fill="#222" stroke="#222" text-anchor="middle" >6</text>
<text x="348.50" y="186.70" font-size="6.3" fill="#222" stroke="#222" text-anchor="middle" >12</text>
<text x="362.30" y="186.70" font-size="6.3" fill="#222" stroke="#222" text-anchor="middle" >18</text>
<text x="376.20" y="186.70" font-size="6.3" fill="#222" stroke="#222" text-anchor="middle" >24</text>
<polyline points="334.50,157.01 348.50,156.52 362.30,157.01 376.20,158.46" fill="none" stroke="#6fb1e3" stroke-width="0.8" stroke-dasharray="1.2,1"/>
<line x1="334.50" y1="161.36" x2="334.50" y2="152.65" stroke="#6fb1e3" stroke-width="0.7" />
<line x1="333.20" y1="152.65" x2="335.80" y2="152.65" stroke="#6fb1e3" stroke-width="0.7" />
<line x1="333.20" y1="161.36" x2="335.80" y2="161.36" stroke="#6fb1e3" stroke-width="0.7" />
<circle cx="334.50" cy="157.01" r="1.7" fill="#cfe6f7" stroke="#6fb1e3" stroke-width="0.8"/>
<line x1="348.50" y1="160.88" x2="348.50" y2="152.17" stroke="#6fb1e3" stroke-width="0.7" />
<line x1="347.20" y1="152.17" x2="349.80" y2="152.17" stroke="#6fb1e3" stroke-width="0.7" />
<line x1="347.20" y1="160.88" x2="349.80" y2="160.88" stroke="#6fb1e3" stroke-width="0.7" />
<circle cx="348.50" cy="156.52" r="1.7" fill="#cfe6f7" stroke="#6fb1e3" stroke-width="0.8"/>
<line x1="362.30" y1="161.36" x2="362.30" y2="152.65" stroke="#6fb1e3" stroke-width="0.7" />
<line x1="361.00" y1="152.65" x2="363.60" y2="152.65" stroke="#6fb1e3" stroke-width="0.7" />
<line x1="361.00" y1="161.36" x2="363.60" y2="161.36" stroke="#6fb1e3" stroke-width="0.7" />
<circle cx="362.30" cy="157.01" r="1.7" fill="#cfe6f7" stroke="#6fb1e3" stroke-width="0.8"/>
<line x1="376.20" y1="162.82" x2="376.20" y2="154.10" stroke="#6fb1e3" stroke-width="0.7" />
<line x1="374.90" y1="154.10" x2="377.50" y2="154.10" stroke="#6fb1e3" stroke-width="0.7" />
<line x1="374.90" y1="162.82" x2="377.50" y2="162.82" stroke="#6fb1e3" stroke-width="0.7" />
<circle cx="376.20" cy="158.46" r="1.7" fill="#cfe6f7" stroke="#6fb1e3" stroke-width="0.8"/>
<polyline points="334.50,134.74 348.50,138.62 362.30,135.71 376.20,133.78" fill="none" stroke="#1f4275" stroke-width="0.85"/>
<line x1="334.50" y1="137.16" x2="334.50" y2="132.32" stroke="#1f4275" stroke-width="0.7" />
<line x1="333.20" y1="132.32" x2="335.80" y2="132.32" stroke="#1f4275" stroke-width="0.7" />
<line x1="333.20" y1="137.16" x2="335.80" y2="137.16" stroke="#1f4275" stroke-width="0.7" />
<circle cx="334.50" cy="134.74" r="1.8" fill="#1a4a88" stroke="#12386a" stroke-width="0.4"/>
<line x1="348.50" y1="141.52" x2="348.50" y2="135.71" stroke="#1f4275" stroke-width="0.7" />
<line x1="347.20" y1="135.71" x2="349.80" y2="135.71" stroke="#1f4275" stroke-width="0.7" />
<line x1="347.20" y1="141.52" x2="349.80" y2="141.52" stroke="#1f4275" stroke-width="0.7" />
<circle cx="348.50" cy="138.62" r="1.8" fill="#1a4a88" stroke="#12386a" stroke-width="0.4"/>
<line x1="362.30" y1="138.62" x2="362.30" y2="132.81" stroke="#1f4275" stroke-width="0.7" />
<line x1="361.00" y1="132.81" x2="363.60" y2="132.81" stroke="#1f4275" stroke-width="0.7" />
<line x1="361.00" y1="138.62" x2="363.60" y2="138.62" stroke="#1f4275" stroke-width="0.7" />
<circle cx="362.30" cy="135.71" r="1.8" fill="#1a4a88" stroke="#12386a" stroke-width="0.4"/>
<line x1="376.20" y1="136.20" x2="376.20" y2="131.36" stroke="#1f4275" stroke-width="0.7" />
<line x1="374.90" y1="131.36" x2="377.50" y2="131.36" stroke="#1f4275" stroke-width="0.7" />
<line x1="374.90" y1="136.20" x2="377.50" y2="136.20" stroke="#1f4275" stroke-width="0.7" />
<circle cx="376.20" cy="133.78" r="1.8" fill="#1a4a88" stroke="#12386a" stroke-width="0.4"/>
<rect x="331.55" y="125.85" width="1.5" height="1.5" fill="#333"/>
<rect x="333.75" y="125.85" width="1.5" height="1.5" fill="#333"/>
<rect x="335.95" y="125.85" width="1.5" height="1.5" fill="#333"/>
<rect x="346.65" y="125.85" width="1.5" height="1.5" fill="#333"/>
<rect x="348.85" y="125.85" width="1.5" height="1.5" fill="#333"/>
<rect x="360.45" y="125.85" width="1.5" height="1.5" fill="#333"/>
<rect x="362.65" y="125.85" width="1.5" height="1.5" fill="#333"/>
<rect x="373.25" y="125.85" width="1.5" height="1.5" fill="#333"/>
<rect x="375.45" y="125.85" width="1.5" height="1.5" fill="#333"/>
<rect x="377.65" y="125.85" width="1.5" height="1.5" fill="#333"/>
<text x="449.00" y="120.30" font-size="6.35" fill="#222" stroke="#222" text-anchor="middle" textLength="13.00" lengthAdjust="spacingAndGlyphs" >Gr-1</text>
<line x1="419.30" y1="126.00" x2="419.30" y2="175.50" stroke="#222" stroke-width="1.0" />
<line x1="419.30" y1="175.50" x2="478.50" y2="175.50" stroke="#222" stroke-width="1.0" />
<line x1="416.30" y1="175.50" x2="419.30" y2="175.50" stroke="#222" stroke-width="0.9" />
<text x="412.70" y="177.75" font-size="6.3" fill="#222" stroke="#222" text-anchor="end" >0</text>
<line x1="416.30" y1="165.90" x2="419.30" y2="165.90" stroke="#222" stroke-width="0.9" />
<text x="412.70" y="168.15" font-size="6.3" fill="#222" stroke="#222" text-anchor="end" >20</text>
<line x1="416.30" y1="156.30" x2="419.30" y2="156.30" stroke="#222" stroke-width="0.9" />
<text x="412.70" y="158.55" font-size="6.3" fill="#222" stroke="#222" text-anchor="end" >40</text>
<line x1="416.30" y1="146.70" x2="419.30" y2="146.70" stroke="#222" stroke-width="0.9" />
<text x="412.70" y="148.95" font-size="6.3" fill="#222" stroke="#222" text-anchor="end" >60</text>
<line x1="416.30" y1="137.10" x2="419.30" y2="137.10" stroke="#222" stroke-width="0.9" />
<text x="412.70" y="139.35" font-size="6.3" fill="#222" stroke="#222" text-anchor="end" >80</text>
<line x1="416.30" y1="127.50" x2="419.30" y2="127.50" stroke="#222" stroke-width="0.9" />
<text x="412.70" y="129.75" font-size="6.3" fill="#222" stroke="#222" text-anchor="end" >100</text>
<line x1="428.00" y1="175.50" x2="428.00" y2="178.30" stroke="#222" stroke-width="0.9" />
<line x1="442.00" y1="175.50" x2="442.00" y2="178.30" stroke="#222" stroke-width="0.9" />
<line x1="456.00" y1="175.50" x2="456.00" y2="178.30" stroke="#222" stroke-width="0.9" />
<line x1="469.80" y1="175.50" x2="469.80" y2="178.30" stroke="#222" stroke-width="0.9" />
<text x="428.00" y="186.70" font-size="6.3" fill="#222" stroke="#222" text-anchor="middle" >6</text>
<text x="442.00" y="186.70" font-size="6.3" fill="#222" stroke="#222" text-anchor="middle" >12</text>
<text x="456.00" y="186.70" font-size="6.3" fill="#222" stroke="#222" text-anchor="middle" >18</text>
<text x="469.80" y="186.70" font-size="6.3" fill="#222" stroke="#222" text-anchor="middle" >24</text>
<polyline points="428.00,150.54 442.00,161.10 456.00,155.34 469.80,156.30" fill="none" stroke="#6fb1e3" stroke-width="0.8" stroke-dasharray="1.2,1"/>
<line x1="428.00" y1="152.94" x2="428.00" y2="148.14" stroke="#6fb1e3" stroke-width="0.7" />
<line x1="426.70" y1="148.14" x2="429.30" y2="148.14" stroke="#6fb1e3" stroke-width="0.7" />
<line x1="426.70" y1="152.94" x2="429.30" y2="152.94" stroke="#6fb1e3" stroke-width="0.7" />
<circle cx="428.00" cy="150.54" r="1.7" fill="#cfe6f7" stroke="#6fb1e3" stroke-width="0.8"/>
<line x1="442.00" y1="163.50" x2="442.00" y2="158.70" stroke="#6fb1e3" stroke-width="0.7" />
<line x1="440.70" y1="158.70" x2="443.30" y2="158.70" stroke="#6fb1e3" stroke-width="0.7" />
<line x1="440.70" y1="163.50" x2="443.30" y2="163.50" stroke="#6fb1e3" stroke-width="0.7" />
<circle cx="442.00" cy="161.10" r="1.7" fill="#cfe6f7" stroke="#6fb1e3" stroke-width="0.8"/>
<line x1="456.00" y1="159.18" x2="456.00" y2="151.50" stroke="#6fb1e3" stroke-width="0.7" />
<line x1="454.70" y1="151.50" x2="457.30" y2="151.50" stroke="#6fb1e3" stroke-width="0.7" />
<line x1="454.70" y1="159.18" x2="457.30" y2="159.18" stroke="#6fb1e3" stroke-width="0.7" />
<circle cx="456.00" cy="155.34" r="1.7" fill="#cfe6f7" stroke="#6fb1e3" stroke-width="0.8"/>
<line x1="469.80" y1="160.14" x2="469.80" y2="152.46" stroke="#6fb1e3" stroke-width="0.7" />
<line x1="468.50" y1="152.46" x2="471.10" y2="152.46" stroke="#6fb1e3" stroke-width="0.7" />
<line x1="468.50" y1="160.14" x2="471.10" y2="160.14" stroke="#6fb1e3" stroke-width="0.7" />
<circle cx="469.80" cy="156.30" r="1.7" fill="#cfe6f7" stroke="#6fb1e3" stroke-width="0.8"/>
<polyline points="428.00,139.98 442.00,145.26 456.00,135.18 469.80,133.26" fill="none" stroke="#1f4275" stroke-width="0.85"/>
<line x1="428.00" y1="141.90" x2="428.00" y2="138.06" stroke="#1f4275" stroke-width="0.7" />
<line x1="426.70" y1="138.06" x2="429.30" y2="138.06" stroke="#1f4275" stroke-width="0.7" />
<line x1="426.70" y1="141.90" x2="429.30" y2="141.90" stroke="#1f4275" stroke-width="0.7" />
<circle cx="428.00" cy="139.98" r="1.8" fill="#1a4a88" stroke="#12386a" stroke-width="0.4"/>
<line x1="442.00" y1="147.18" x2="442.00" y2="143.34" stroke="#1f4275" stroke-width="0.7" />
<line x1="440.70" y1="143.34" x2="443.30" y2="143.34" stroke="#1f4275" stroke-width="0.7" />
<line x1="440.70" y1="147.18" x2="443.30" y2="147.18" stroke="#1f4275" stroke-width="0.7" />
<circle cx="442.00" cy="145.26" r="1.8" fill="#1a4a88" stroke="#12386a" stroke-width="0.4"/>
<line x1="456.00" y1="137.10" x2="456.00" y2="133.26" stroke="#1f4275" stroke-width="0.7" />
<line x1="454.70" y1="133.26" x2="457.30" y2="133.26" stroke="#1f4275" stroke-width="0.7" />
<line x1="454.70" y1="137.10" x2="457.30" y2="137.10" stroke="#1f4275" stroke-width="0.7" />
<circle cx="456.00" cy="135.18" r="1.8" fill="#1a4a88" stroke="#12386a" stroke-width="0.4"/>
<line x1="469.80" y1="135.18" x2="469.80" y2="131.34" stroke="#1f4275" stroke-width="0.7" />
<line x1="468.50" y1="131.34" x2="471.10" y2="131.34" stroke="#1f4275" stroke-width="0.7" />
<line x1="468.50" y1="135.18" x2="471.10" y2="135.18" stroke="#1f4275" stroke-width="0.7" />
<circle cx="469.80" cy="133.26" r="1.8" fill="#1a4a88" stroke="#12386a" stroke-width="0.4"/>
<rect x="426.15" y="127.45" width="1.5" height="1.5" fill="#333"/>
<rect x="428.35" y="127.45" width="1.5" height="1.5" fill="#333"/>
<rect x="439.05" y="127.45" width="1.5" height="1.5" fill="#333"/>
<rect x="441.25" y="127.45" width="1.5" height="1.5" fill="#333"/>
<rect x="443.45" y="127.45" width="1.5" height="1.5" fill="#333"/>
<rect x="453.05" y="127.45" width="1.5" height="1.5" fill="#333"/>
<rect x="455.25" y="127.45" width="1.5" height="1.5" fill="#333"/>
<rect x="457.45" y="127.45" width="1.5" height="1.5" fill="#333"/>
<rect x="466.85" y="127.45" width="1.5" height="1.5" fill="#333"/>
<rect x="469.05" y="127.45" width="1.5" height="1.5" fill="#333"/>
<rect x="471.25" y="127.45" width="1.5" height="1.5" fill="#333"/>
<text x="481.00" y="135.20" font-size="6.7" textLength="23.00" lengthAdjust="spacingAndGlyphs"><tspan fill="#3e5f98" font-style="italic">VF</tspan><tspan fill="#3e5f98">;</tspan><tspan fill="#5cb85c">GFP</tspan></text>
<text x="481.00" y="161.00" font-size="6.7" textLength="32.00" lengthAdjust="spacingAndGlyphs"><tspan fill="#3e5f98" font-style="italic">VF</tspan><tspan fill="#3e5f98">;</tspan><tspan fill="#d4466e" font-style="italic">IL-1β</tspan><tspan fill="#d4466e" font-style="italic"><tspan font-size="4.02" dy="-2.68">−/−</tspan></tspan><tspan fill="#5cb85c" dy="2.68">;</tspan></text>
<text x="481.00" y="169.60" font-size="6.7" fill="#5cb85c" stroke="#5cb85c" font-style="italic" textLength="14.00" lengthAdjust="spacingAndGlyphs" >GFP</text>
<text x="48.70" y="206.90" font-size="6.35" fill="#222" stroke="#222" textLength="183.30" lengthAdjust="spacingAndGlyphs" >GFP chimerism in HSCs and HSPCs in bone marrow and spleen</text>
<text x="25.00" y="217.60" font-size="8.2" fill="#222" stroke="#222" textLength="17.50" lengthAdjust="spacingAndGlyphs" >%GFP</text>
<text x="129.50" y="217.50" font-size="6.35" fill="#222" stroke="#222" textLength="37.50" lengthAdjust="spacingAndGlyphs" >Bone marrow</text>
<line x1="49.10" y1="223.30" x2="49.10" y2="265.80" stroke="#222" stroke-width="1.0" />
<line x1="46.10" y1="265.80" x2="49.10" y2="265.80" stroke="#222" stroke-width="0.9" />
<text x="42.70" y="268.05" font-size="6.35" fill="#222" stroke="#222" text-anchor="end" >0</text>
<line x1="46.10" y1="257.60" x2="49.10" y2="257.60" stroke="#222" stroke-width="0.9" />
<text x="42.70" y="259.85" font-size="6.35" fill="#222" stroke="#222" text-anchor="end" >20</text>
<line x1="46.10" y1="249.40" x2="49.10" y2="249.40" stroke="#222" stroke-width="0.9" />
<text x="42.70" y="251.65" font-size="6.35" fill="#222" stroke="#222" text-anchor="end" >40</text>
<line x1="46.10" y1="241.20" x2="49.10" y2="241.20" stroke="#222" stroke-width="0.9" />
<text x="42.70" y="243.45" font-size="6.35" fill="#222" stroke="#222" text-anchor="end" >60</text>
<line x1="46.10" y1="233.00" x2="49.10" y2="233.00" stroke="#222" stroke-width="0.9" />
<text x="42.70" y="235.25" font-size="6.35" fill="#222" stroke="#222" text-anchor="end" >80</text>
<line x1="46.10" y1="224.80" x2="49.10" y2="224.80" stroke="#222" stroke-width="0.9" />
<text x="42.70" y="227.05" font-size="6.35" fill="#222" stroke="#222" text-anchor="end" >100</text>
<line x1="54.30" y1="241.20" x2="54.30" y2="239.97" stroke="#1a4a88" stroke-width="0.8" />
<line x1="53.10" y1="239.97" x2="55.50" y2="239.97" stroke="#1a4a88" stroke-width="0.8" />
<rect x="51.80" y="241.20" width="5.00" height="24.60" fill="#1a4a88" stroke="#12386a" stroke-width="0.4" />
<rect x="59.30" y="253.50" width="5.00" height="12.30" fill="#b5d5f1" stroke="none" stroke-width="0" />
<line x1="61.80" y1="257.60" x2="61.80" y2="249.40" stroke="#6fa8d8" stroke-width="0.7" />
<line x1="60.60" y1="249.40" x2="63.00" y2="249.40" stroke="#6fa8d8" stroke-width="0.7" />
<line x1="60.60" y1="257.60" x2="63.00" y2="257.60" stroke="#6fa8d8" stroke-width="0.7" />
<rect x="61.05" y="242.65" width="1.5" height="1.5" fill="#333"/>
<line x1="58.05" y1="265.80" x2="58.05" y2="268.10" stroke="#222" stroke-width="0.8" />
<text x="61.65" y="275.40" font-size="6.6" fill="#222" stroke="#222" text-anchor="end" textLength="24.00" lengthAdjust="spacingAndGlyphs" transform="rotate(-45 61.65 275.40)" >LT-HSC</text>
<line x1="74.30" y1="236.28" x2="74.30" y2="234.64" stroke="#1a4a88" stroke-width="0.8" />
<line x1="73.10" y1="234.64" x2="75.50" y2="234.64" stroke="#1a4a88" stroke-width="0.8" />
<rect x="71.80" y="236.28" width="5.00" height="29.52" fill="#1a4a88" stroke="#12386a" stroke-width="0.4" />
<rect x="79.30" y="253.50" width="5.00" height="12.30" fill="#b5d5f1" stroke="none" stroke-width="0" />
<line x1="81.80" y1="257.60" x2="81.80" y2="249.40" stroke="#6fa8d8" stroke-width="0.7" />
<line x1="80.60" y1="249.40" x2="83.00" y2="249.40" stroke="#6fa8d8" stroke-width="0.7" />
<line x1="80.60" y1="257.60" x2="83.00" y2="257.60" stroke="#6fa8d8" stroke-width="0.7" />
<rect x="79.95" y="242.65" width="1.5" height="1.5" fill="#333"/>
<rect x="82.15" y="242.65" width="1.5" height="1.5" fill="#333"/>
<line x1="78.05" y1="265.80" x2="78.05" y2="268.10" stroke="#222" stroke-width="0.8" />
<text x="81.65" y="275.40" font-size="6.6" fill="#222" stroke="#222" text-anchor="end" textLength="18.60" lengthAdjust="spacingAndGlyphs" transform="rotate(-45 81.65 275.40)" >MPP1</text>
<line x1="94.30" y1="230.54" x2="94.30" y2="229.31" stroke="#1a4a88" stroke-width="0.8" />
<line x1="93.10" y1="229.31" x2="95.50" y2="229.31" stroke="#1a4a88" stroke-width="0.8" />
<rect x="91.80" y="230.54" width="5.00" height="35.26" fill="#1a4a88" stroke="#12386a" stroke-width="0.4" />
<rect x="99.30" y="252.68" width="5.00" height="13.12" fill="#b5d5f1" stroke="none" stroke-width="0" />
<line x1="101.80" y1="256.37" x2="101.80" y2="248.99" stroke="#6fa8d8" stroke-width="0.7" />
<line x1="100.60" y1="248.99" x2="103.00" y2="248.99" stroke="#6fa8d8" stroke-width="0.7" />
<line x1="100.60" y1="256.37" x2="103.00" y2="256.37" stroke="#6fa8d8" stroke-width="0.7" />
<rect x="97.75" y="239.25" width="1.5" height="1.5" fill="#333"/>
<rect x="99.95" y="239.25" width="1.5" height="1.5" fill="#333"/>
<rect x="102.15" y="239.25" width="1.5" height="1.5" fill="#333"/>
<rect x="104.35" y="239.25" width="1.5" height="1.5" fill="#333"/>
<line x1="98.05" y1="265.80" x2="98.05" y2="268.10" stroke="#222" stroke-width="0.8" />
<text x="101.65" y="275.40" font-size="6.6" fill="#222" stroke="#222" text-anchor="end" textLength="18.60" lengthAdjust="spacingAndGlyphs" transform="rotate(-45 101.65 275.40)" >MPP2</text>
<line x1="114.30" y1="229.72" x2="114.30" y2="228.49" stroke="#1a4a88" stroke-width="0.8" />
<line x1="113.10" y1="228.49" x2="115.50" y2="228.49" stroke="#1a4a88" stroke-width="0.8" />
<rect x="111.80" y="229.72" width="5.00" height="36.08" fill="#1a4a88" stroke="#12386a" stroke-width="0.4" />
<rect x="119.30" y="250.63" width="5.00" height="15.17" fill="#b5d5f1" stroke="none" stroke-width="0" />
<line x1="121.80" y1="254.73" x2="121.80" y2="246.53" stroke="#6fa8d8" stroke-width="0.7" />
<line x1="120.60" y1="246.53" x2="123.00" y2="246.53" stroke="#6fa8d8" stroke-width="0.7" />
<line x1="120.60" y1="254.73" x2="123.00" y2="254.73" stroke="#6fa8d8" stroke-width="0.7" />
<rect x="118.85" y="235.05" width="1.5" height="1.5" fill="#333"/>
<rect x="121.05" y="235.05" width="1.5" height="1.5" fill="#333"/>
<rect x="123.25" y="235.05" width="1.5" height="1.5" fill="#333"/>
<line x1="118.05" y1="265.80" x2="118.05" y2="268.10" stroke="#222" stroke-width="0.8" />
<text x="121.65" y="275.40" font-size="6.6" fill="#222" stroke="#222" text-anchor="end" textLength="18.60" lengthAdjust="spacingAndGlyphs" transform="rotate(-45 121.65 275.40)" >MPP3</text>
<line x1="134.30" y1="227.67" x2="134.30" y2="226.85" stroke="#1a4a88" stroke-width="0.8" />
<line x1="133.10" y1="226.85" x2="135.50" y2="226.85" stroke="#1a4a88" stroke-width="0.8" />
<rect x="131.80" y="227.67" width="5.00" height="38.13" fill="#1a4a88" stroke="#12386a" stroke-width="0.4" />
<rect x="139.30" y="248.99" width="5.00" height="16.81" fill="#b5d5f1" stroke="none" stroke-width="0" />
<line x1="141.80" y1="253.09" x2="141.80" y2="244.89" stroke="#6fa8d8" stroke-width="0.7" />
<line x1="140.60" y1="244.89" x2="143.00" y2="244.89" stroke="#6fa8d8" stroke-width="0.7" />
<line x1="140.60" y1="253.09" x2="143.00" y2="253.09" stroke="#6fa8d8" stroke-width="0.7" />
<rect x="138.85" y="235.45" width="1.5" height="1.5" fill="#333"/>
<rect x="141.05" y="235.45" width="1.5" height="1.5" fill="#333"/>
<rect x="143.25" y="235.45" width="1.5" height="1.5" fill="#333"/>
<line x1="138.05" y1="265.80" x2="138.05" y2="268.10" stroke="#222" stroke-width="0.8" />
<text x="141.65" y="275.40" font-size="6.6" fill="#222" stroke="#222" text-anchor="end" textLength="15.80" lengthAdjust="spacingAndGlyphs" transform="rotate(-45 141.65 275.40)" >CMP</text>
<line x1="154.30" y1="232.59" x2="154.30" y2="230.95" stroke="#1a4a88" stroke-width="0.8" />
<line x1="153.10" y1="230.95" x2="155.50" y2="230.95" stroke="#1a4a88" stroke-width="0.8" />
<rect x="151.80" y="232.59" width="5.00" height="33.21" fill="#1a4a88" stroke="#12386a" stroke-width="0.4" />
<rect x="159.30" y="252.27" width="5.00" height="13.53" fill="#b5d5f1" stroke="none" stroke-width="0" />
<line x1="161.80" y1="255.96" x2="161.80" y2="248.58" stroke="#6fa8d8" stroke-width="0.7" />
<line x1="160.60" y1="248.58" x2="163.00" y2="248.58" stroke="#6fa8d8" stroke-width="0.7" />
<line x1="160.60" y1="255.96" x2="163.00" y2="255.96" stroke="#6fa8d8" stroke-width="0.7" />
<rect x="158.85" y="235.45" width="1.5" height="1.5" fill="#333"/>
<rect x="161.05" y="235.45" width="1.5" height="1.5" fill="#333"/>
<rect x="163.25" y="235.45" width="1.5" height="1.5" fill="#333"/>
<line x1="158.05" y1="265.80" x2="158.05" y2="268.10" stroke="#222" stroke-width="0.8" />
<text x="161.65" y="275.40" font-size="6.6" fill="#222" stroke="#222" text-anchor="end" textLength="15.80" lengthAdjust="spacingAndGlyphs" transform="rotate(-45 161.65 275.40)" >GMP</text>
<line x1="174.30" y1="230.54" x2="174.30" y2="228.90" stroke="#1a4a88" stroke-width="0.8" />
<line x1="173.10" y1="228.90" x2="175.50" y2="228.90" stroke="#1a4a88" stroke-width="0.8" />
<rect x="171.80" y="230.54" width="5.00" height="35.26" fill="#1a4a88" stroke="#12386a" stroke-width="0.4" />
<rect x="179.30" y="252.27" width="5.00" height="13.53" fill="#b5d5f1" stroke="none" stroke-width="0" />
<line x1="181.80" y1="255.96" x2="181.80" y2="248.58" stroke="#6fa8d8" stroke-width="0.7" />
<line x1="180.60" y1="248.58" x2="183.00" y2="248.58" stroke="#6fa8d8" stroke-width="0.7" />
<line x1="180.60" y1="255.96" x2="183.00" y2="255.96" stroke="#6fa8d8" stroke-width="0.7" />
<rect x="177.75" y="242.95" width="1.5" height="1.5" fill="#333"/>
<rect x="179.95" y="242.95" width="1.5" height="1.5" fill="#333"/>
<rect x="182.15" y="242.95" width="1.5" height="1.5" fill="#333"/>
<rect x="184.35" y="242.95" width="1.5" height="1.5" fill="#333"/>
<line x1="178.05" y1="265.80" x2="178.05" y2="268.10" stroke="#222" stroke-width="0.8" />
<text x="181.65" y="275.40" font-size="6.6" fill="#222" stroke="#222" text-anchor="end" textLength="15.20" lengthAdjust="spacingAndGlyphs" transform="rotate(-45 181.65 275.40)" >MEP</text>
<line x1="194.30" y1="228.90" x2="194.30" y2="227.67" stroke="#1a4a88" stroke-width="0.8" />
<line x1="193.10" y1="227.67" x2="195.50" y2="227.67" stroke="#1a4a88" stroke-width="0.8" />
<rect x="191.80" y="228.90" width="5.00" height="36.90" fill="#1a4a88" stroke="#12386a" stroke-width="0.4" />
<rect x="199.30" y="250.63" width="5.00" height="15.17" fill="#b5d5f1" stroke="none" stroke-width="0" />
<line x1="201.80" y1="254.73" x2="201.80" y2="246.53" stroke="#6fa8d8" stroke-width="0.7" />
<line x1="200.60" y1="246.53" x2="203.00" y2="246.53" stroke="#6fa8d8" stroke-width="0.7" />
<line x1="200.60" y1="254.73" x2="203.00" y2="254.73" stroke="#6fa8d8" stroke-width="0.7" />
<rect x="198.85" y="235.45" width="1.5" height="1.5" fill="#333"/>
<rect x="201.05" y="235.45" width="1.5" height="1.5" fill="#333"/>
<rect x="203.25" y="235.45" width="1.5" height="1.5" fill="#333"/>
<line x1="198.05" y1="265.80" x2="198.05" y2="268.10" stroke="#222" stroke-width="0.8" />
<text x="201.65" y="275.40" font-size="6.6" fill="#222" stroke="#222" text-anchor="end" textLength="28.50" lengthAdjust="spacingAndGlyphs" transform="rotate(-45 201.65 275.40)" >Pre-MegE</text>
<line x1="214.30" y1="229.72" x2="214.30" y2="228.08" stroke="#1a4a88" stroke-width="0.8" />
<line x1="213.10" y1="228.08" x2="215.50" y2="228.08" stroke="#1a4a88" stroke-width="0.8" />
<rect x="211.80" y="229.72" width="5.00" height="36.08" fill="#1a4a88" stroke="#12386a" stroke-width="0.4" />
<rect x="219.30" y="251.45" width="5.00" height="14.35" fill="#b5d5f1" stroke="none" stroke-width="0" />
<line x1="221.80" y1="255.55" x2="221.80" y2="247.35" stroke="#6fa8d8" stroke-width="0.7" />
<line x1="220.60" y1="247.35" x2="223.00" y2="247.35" stroke="#6fa8d8" stroke-width="0.7" />
<line x1="220.60" y1="255.55" x2="223.00" y2="255.55" stroke="#6fa8d8" stroke-width="0.7" />
<rect x="218.85" y="235.45" width="1.5" height="1.5" fill="#333"/>
<rect x="221.05" y="235.45" width="1.5" height="1.5" fill="#333"/>
<rect x="223.25" y="235.45" width="1.5" height="1.5" fill="#333"/>
<line x1="218.05" y1="265.80" x2="218.05" y2="268.10" stroke="#222" stroke-width="0.8" />
<text x="221.65" y="275.40" font-size="6.6" fill="#222" stroke="#222" text-anchor="end" textLength="12.60" lengthAdjust="spacingAndGlyphs" transform="rotate(-45 221.65 275.40)" >MkP</text>
<line x1="234.30" y1="232.18" x2="234.30" y2="230.54" stroke="#1a4a88" stroke-width="0.8" />
<line x1="233.10" y1="230.54" x2="235.50" y2="230.54" stroke="#1a4a88" stroke-width="0.8" />
<rect x="231.80" y="232.18" width="5.00" height="33.62" fill="#1a4a88" stroke="#12386a" stroke-width="0.4" />
<rect x="239.30" y="252.68" width="5.00" height="13.12" fill="#b5d5f1" stroke="none" stroke-width="0" />
<line x1="241.80" y1="256.37" x2="241.80" y2="248.99" stroke="#6fa8d8" stroke-width="0.7" />
<line x1="240.60" y1="248.99" x2="243.00" y2="248.99" stroke="#6fa8d8" stroke-width="0.7" />
<line x1="240.60" y1="256.37" x2="243.00" y2="256.37" stroke="#6fa8d8" stroke-width="0.7" />
<rect x="238.85" y="235.45" width="1.5" height="1.5" fill="#333"/>
<rect x="241.05" y="235.45" width="1.5" height="1.5" fill="#333"/>
<rect x="243.25" y="235.45" width="1.5" height="1.5" fill="#333"/>
<line x1="238.05" y1="265.80" x2="238.05" y2="268.10" stroke="#222" stroke-width="0.8" />
<text x="241.65" y="275.40" font-size="6.6" fill="#222" stroke="#222" text-anchor="end" textLength="19.00" lengthAdjust="spacingAndGlyphs" transform="rotate(-45 241.65 275.40)" >CFU-E</text>
<line x1="49.10" y1="265.80" x2="247.50" y2="265.80" stroke="#222" stroke-width="1.0" />
<text x="270.00" y="218.60" font-size="8.2" fill="#222" stroke="#222" textLength="17.70" lengthAdjust="spacingAndGlyphs" >%GFP</text>
<text x="382.70" y="217.30" font-size="6.35" fill="#222" stroke="#222" textLength="20.30" lengthAdjust="spacingAndGlyphs" >Spleen</text>
<line x1="293.60" y1="223.30" x2="293.60" y2="265.80" stroke="#222" stroke-width="1.0" />
<line x1="290.60" y1="265.80" x2="293.60" y2="265.80" stroke="#222" stroke-width="0.9" />
<text x="287.20" y="268.05" font-size="6.35" fill="#222" stroke="#222" text-anchor="end" >0</text>
<line x1="290.60" y1="257.60" x2="293.60" y2="257.60" stroke="#222" stroke-width="0.9" />
<text x="287.20" y="259.85" font-size="6.35" fill="#222" stroke="#222" text-anchor="end" >20</text>
<line x1="290.60" y1="249.40" x2="293.60" y2="249.40" stroke="#222" stroke-width="0.9" />
<text x="287.20" y="251.65" font-size="6.35" fill="#222" stroke="#222" text-anchor="end" >40</text>
<line x1="290.60" y1="241.20" x2="293.60" y2="241.20" stroke="#222" stroke-width="0.9" />
<text x="287.20" y="243.45" font-size="6.35" fill="#222" stroke="#222" text-anchor="end" >60</text>
<line x1="290.60" y1="233.00" x2="293.60" y2="233.00" stroke="#222" stroke-width="0.9" />
<text x="287.20" y="235.25" font-size="6.35" fill="#222" stroke="#222" text-anchor="end" >80</text>
<line x1="290.60" y1="224.80" x2="293.60" y2="224.80" stroke="#222" stroke-width="0.9" />
<text x="287.20" y="227.05" font-size="6.35" fill="#222" stroke="#222" text-anchor="end" >100</text>
<line x1="298.80" y1="251.04" x2="298.80" y2="249.81" stroke="#1a4a88" stroke-width="0.8" />
<line x1="297.60" y1="249.81" x2="300.00" y2="249.81" stroke="#1a4a88" stroke-width="0.8" />
<rect x="296.30" y="251.04" width="5.00" height="14.76" fill="#1a4a88" stroke="#12386a" stroke-width="0.4" />
<rect x="303.80" y="256.37" width="5.00" height="9.43" fill="#b5d5f1" stroke="none" stroke-width="0" />
<line x1="306.30" y1="260.06" x2="306.30" y2="252.68" stroke="#6fa8d8" stroke-width="0.7" />
<line x1="305.10" y1="252.68" x2="307.50" y2="252.68" stroke="#6fa8d8" stroke-width="0.7" />
<line x1="305.10" y1="260.06" x2="307.50" y2="260.06" stroke="#6fa8d8" stroke-width="0.7" />
<line x1="302.55" y1="265.80" x2="302.55" y2="268.10" stroke="#222" stroke-width="0.8" />
<text x="306.15" y="275.40" font-size="6.6" fill="#222" stroke="#222" text-anchor="end" textLength="24.00" lengthAdjust="spacingAndGlyphs" transform="rotate(-45 306.15 275.40)" >LT-HSC</text>
<line x1="318.80" y1="236.28" x2="318.80" y2="233.82" stroke="#1a4a88" stroke-width="0.8" />
<line x1="317.60" y1="233.82" x2="320.00" y2="233.82" stroke="#1a4a88" stroke-width="0.8" />
<rect x="316.30" y="236.28" width="5.00" height="29.52" fill="#1a4a88" stroke="#12386a" stroke-width="0.4" />
<rect x="323.80" y="253.09" width="5.00" height="12.71" fill="#b5d5f1" stroke="none" stroke-width="0" />
<line x1="326.30" y1="258.01" x2="326.30" y2="248.17" stroke="#6fa8d8" stroke-width="0.7" />
<line x1="325.10" y1="248.17" x2="327.50" y2="248.17" stroke="#6fa8d8" stroke-width="0.7" />
<line x1="325.10" y1="258.01" x2="327.50" y2="258.01" stroke="#6fa8d8" stroke-width="0.7" />
<rect x="324.45" y="241.25" width="1.5" height="1.5" fill="#333"/>
<rect x="326.65" y="241.25" width="1.5" height="1.5" fill="#333"/>
<line x1="322.55" y1="265.80" x2="322.55" y2="268.10" stroke="#222" stroke-width="0.8" />
<text x="326.15" y="275.40" font-size="6.6" fill="#222" stroke="#222" text-anchor="end" textLength="18.60" lengthAdjust="spacingAndGlyphs" transform="rotate(-45 326.15 275.40)" >MPP1</text>
<line x1="338.80" y1="240.38" x2="338.80" y2="238.33" stroke="#1a4a88" stroke-width="0.8" />
<line x1="337.60" y1="238.33" x2="340.00" y2="238.33" stroke="#1a4a88" stroke-width="0.8" />
<rect x="336.30" y="240.38" width="5.00" height="25.42" fill="#1a4a88" stroke="#12386a" stroke-width="0.4" />
<rect x="343.80" y="255.55" width="5.00" height="10.25" fill="#b5d5f1" stroke="none" stroke-width="0" />
<line x1="346.30" y1="260.47" x2="346.30" y2="250.63" stroke="#6fa8d8" stroke-width="0.7" />
<line x1="345.10" y1="250.63" x2="347.50" y2="250.63" stroke="#6fa8d8" stroke-width="0.7" />
<line x1="345.10" y1="260.47" x2="347.50" y2="260.47" stroke="#6fa8d8" stroke-width="0.7" />
<rect x="344.45" y="241.25" width="1.5" height="1.5" fill="#333"/>
<rect x="346.65" y="241.25" width="1.5" height="1.5" fill="#333"/>
<line x1="342.55" y1="265.80" x2="342.55" y2="268.10" stroke="#222" stroke-width="0.8" />
<text x="346.15" y="275.40" font-size="6.6" fill="#222" stroke="#222" text-anchor="end" textLength="18.60" lengthAdjust="spacingAndGlyphs" transform="rotate(-45 346.15 275.40)" >MPP2</text>
<line x1="358.80" y1="231.36" x2="358.80" y2="229.72" stroke="#1a4a88" stroke-width="0.8" />
<line x1="357.60" y1="229.72" x2="360.00" y2="229.72" stroke="#1a4a88" stroke-width="0.8" />
<rect x="356.30" y="231.36" width="5.00" height="34.44" fill="#1a4a88" stroke="#12386a" stroke-width="0.4" />
<rect x="363.80" y="253.91" width="5.00" height="11.89" fill="#b5d5f1" stroke="none" stroke-width="0" />
<line x1="366.30" y1="258.83" x2="366.30" y2="248.99" stroke="#6fa8d8" stroke-width="0.7" />
<line x1="365.10" y1="248.99" x2="367.50" y2="248.99" stroke="#6fa8d8" stroke-width="0.7" />
<line x1="365.10" y1="258.83" x2="367.50" y2="258.83" stroke="#6fa8d8" stroke-width="0.7" />
<rect x="363.35" y="241.25" width="1.5" height="1.5" fill="#333"/>
<rect x="365.55" y="241.25" width="1.5" height="1.5" fill="#333"/>
<rect x="367.75" y="241.25" width="1.5" height="1.5" fill="#333"/>
<line x1="362.55" y1="265.80" x2="362.55" y2="268.10" stroke="#222" stroke-width="0.8" />
<text x="366.15" y="275.40" font-size="6.6" fill="#222" stroke="#222" text-anchor="end" textLength="18.60" lengthAdjust="spacingAndGlyphs" transform="rotate(-45 366.15 275.40)" >MPP3</text>
<line x1="378.80" y1="230.54" x2="378.80" y2="228.90" stroke="#1a4a88" stroke-width="0.8" />
<line x1="377.60" y1="228.90" x2="380.00" y2="228.90" stroke="#1a4a88" stroke-width="0.8" />
<rect x="376.30" y="230.54" width="5.00" height="35.26" fill="#1a4a88" stroke="#12386a" stroke-width="0.4" />
<rect x="383.80" y="253.09" width="5.00" height="12.71" fill="#b5d5f1" stroke="none" stroke-width="0" />
<line x1="386.30" y1="258.01" x2="386.30" y2="248.17" stroke="#6fa8d8" stroke-width="0.7" />
<line x1="385.10" y1="248.17" x2="387.50" y2="248.17" stroke="#6fa8d8" stroke-width="0.7" />
<line x1="385.10" y1="258.01" x2="387.50" y2="258.01" stroke="#6fa8d8" stroke-width="0.7" />
<rect x="383.35" y="241.25" width="1.5" height="1.5" fill="#333"/>
<rect x="385.55" y="241.25" width="1.5" height="1.5" fill="#333"/>
<rect x="387.75" y="241.25" width="1.5" height="1.5" fill="#333"/>
<line x1="382.55" y1="265.80" x2="382.55" y2="268.10" stroke="#222" stroke-width="0.8" />
<text x="386.15" y="275.40" font-size="6.6" fill="#222" stroke="#222" text-anchor="end" textLength="15.80" lengthAdjust="spacingAndGlyphs" transform="rotate(-45 386.15 275.40)" >CMP</text>
<line x1="398.80" y1="233.41" x2="398.80" y2="231.77" stroke="#1a4a88" stroke-width="0.8" />
<line x1="397.60" y1="231.77" x2="400.00" y2="231.77" stroke="#1a4a88" stroke-width="0.8" />
<rect x="396.30" y="233.41" width="5.00" height="32.39" fill="#1a4a88" stroke="#12386a" stroke-width="0.4" />
<rect x="403.80" y="253.09" width="5.00" height="12.71" fill="#b5d5f1" stroke="none" stroke-width="0" />
<line x1="406.30" y1="257.19" x2="406.30" y2="248.99" stroke="#6fa8d8" stroke-width="0.7" />
<line x1="405.10" y1="248.99" x2="407.50" y2="248.99" stroke="#6fa8d8" stroke-width="0.7" />
<line x1="405.10" y1="257.19" x2="407.50" y2="257.19" stroke="#6fa8d8" stroke-width="0.7" />
<rect x="403.35" y="241.25" width="1.5" height="1.5" fill="#333"/>
<rect x="405.55" y="241.25" width="1.5" height="1.5" fill="#333"/>
<rect x="407.75" y="241.25" width="1.5" height="1.5" fill="#333"/>
<line x1="402.55" y1="265.80" x2="402.55" y2="268.10" stroke="#222" stroke-width="0.8" />
<text x="406.15" y="275.40" font-size="6.6" fill="#222" stroke="#222" text-anchor="end" textLength="15.80" lengthAdjust="spacingAndGlyphs" transform="rotate(-45 406.15 275.40)" >GMP</text>
<line x1="418.80" y1="229.72" x2="418.80" y2="228.08" stroke="#1a4a88" stroke-width="0.8" />
<line x1="417.60" y1="228.08" x2="420.00" y2="228.08" stroke="#1a4a88" stroke-width="0.8" />
<rect x="416.30" y="229.72" width="5.00" height="36.08" fill="#1a4a88" stroke="#12386a" stroke-width="0.4" />
<rect x="423.80" y="249.81" width="5.00" height="15.99" fill="#b5d5f1" stroke="none" stroke-width="0" />
<line x1="426.30" y1="253.91" x2="426.30" y2="245.71" stroke="#6fa8d8" stroke-width="0.7" />
<line x1="425.10" y1="245.71" x2="427.50" y2="245.71" stroke="#6fa8d8" stroke-width="0.7" />
<line x1="425.10" y1="253.91" x2="427.50" y2="253.91" stroke="#6fa8d8" stroke-width="0.7" />
<rect x="423.35" y="239.25" width="1.5" height="1.5" fill="#333"/>
<rect x="425.55" y="239.25" width="1.5" height="1.5" fill="#333"/>
<rect x="427.75" y="239.25" width="1.5" height="1.5" fill="#333"/>
<line x1="422.55" y1="265.80" x2="422.55" y2="268.10" stroke="#222" stroke-width="0.8" />
<text x="426.15" y="275.40" font-size="6.6" fill="#222" stroke="#222" text-anchor="end" textLength="15.20" lengthAdjust="spacingAndGlyphs" transform="rotate(-45 426.15 275.40)" >MEP</text>
<line x1="438.80" y1="232.59" x2="438.80" y2="230.95" stroke="#1a4a88" stroke-width="0.8" />
<line x1="437.60" y1="230.95" x2="440.00" y2="230.95" stroke="#1a4a88" stroke-width="0.8" />
<rect x="436.30" y="232.59" width="5.00" height="33.21" fill="#1a4a88" stroke="#12386a" stroke-width="0.4" />
<rect x="443.80" y="253.09" width="5.00" height="12.71" fill="#b5d5f1" stroke="none" stroke-width="0" />
<line x1="446.30" y1="257.19" x2="446.30" y2="248.99" stroke="#6fa8d8" stroke-width="0.7" />
<line x1="445.10" y1="248.99" x2="447.50" y2="248.99" stroke="#6fa8d8" stroke-width="0.7" />
<line x1="445.10" y1="257.19" x2="447.50" y2="257.19" stroke="#6fa8d8" stroke-width="0.7" />
<rect x="443.35" y="241.25" width="1.5" height="1.5" fill="#333"/>
<rect x="445.55" y="241.25" width="1.5" height="1.5" fill="#333"/>
<rect x="447.75" y="241.25" width="1.5" height="1.5" fill="#333"/>
<line x1="442.55" y1="265.80" x2="442.55" y2="268.10" stroke="#222" stroke-width="0.8" />
<text x="446.15" y="275.40" font-size="6.6" fill="#222" stroke="#222" text-anchor="end" textLength="28.50" lengthAdjust="spacingAndGlyphs" transform="rotate(-45 446.15 275.40)" >Pre-MegE</text>
<line x1="458.80" y1="228.49" x2="458.80" y2="227.26" stroke="#1a4a88" stroke-width="0.8" />
<line x1="457.60" y1="227.26" x2="460.00" y2="227.26" stroke="#1a4a88" stroke-width="0.8" />
<rect x="456.30" y="228.49" width="5.00" height="37.31" fill="#1a4a88" stroke="#12386a" stroke-width="0.4" />
<rect x="463.80" y="246.53" width="5.00" height="19.27" fill="#b5d5f1" stroke="none" stroke-width="0" />
<line x1="466.30" y1="250.22" x2="466.30" y2="242.84" stroke="#6fa8d8" stroke-width="0.7" />
<line x1="465.10" y1="242.84" x2="467.50" y2="242.84" stroke="#6fa8d8" stroke-width="0.7" />
<line x1="465.10" y1="250.22" x2="467.50" y2="250.22" stroke="#6fa8d8" stroke-width="0.7" />
<rect x="463.35" y="233.25" width="1.5" height="1.5" fill="#333"/>
<rect x="465.55" y="233.25" width="1.5" height="1.5" fill="#333"/>
<rect x="467.75" y="233.25" width="1.5" height="1.5" fill="#333"/>
<line x1="462.55" y1="265.80" x2="462.55" y2="268.10" stroke="#222" stroke-width="0.8" />
<text x="466.15" y="275.40" font-size="6.6" fill="#222" stroke="#222" text-anchor="end" textLength="12.60" lengthAdjust="spacingAndGlyphs" transform="rotate(-45 466.15 275.40)" >MkP</text>
<line x1="478.80" y1="234.23" x2="478.80" y2="233.00" stroke="#1a4a88" stroke-width="0.8" />
<line x1="477.60" y1="233.00" x2="480.00" y2="233.00" stroke="#1a4a88" stroke-width="0.8" />
<rect x="476.30" y="234.23" width="5.00" height="31.57" fill="#1a4a88" stroke="#12386a" stroke-width="0.4" />
<rect x="483.80" y="253.09" width="5.00" height="12.71" fill="#b5d5f1" stroke="none" stroke-width="0" />
<line x1="486.30" y1="256.78" x2="486.30" y2="249.40" stroke="#6fa8d8" stroke-width="0.7" />
<line x1="485.10" y1="249.40" x2="487.50" y2="249.40" stroke="#6fa8d8" stroke-width="0.7" />
<line x1="485.10" y1="256.78" x2="487.50" y2="256.78" stroke="#6fa8d8" stroke-width="0.7" />
<rect x="482.25" y="243.45" width="1.5" height="1.5" fill="#333"/>
<rect x="484.45" y="243.45" width="1.5" height="1.5" fill="#333"/>
<rect x="486.65" y="243.45" width="1.5" height="1.5" fill="#333"/>
<rect x="488.85" y="243.45" width="1.5" height="1.5" fill="#333"/>
<line x1="482.55" y1="265.80" x2="482.55" y2="268.10" stroke="#222" stroke-width="0.8" />
<text x="486.15" y="275.40" font-size="6.6" fill="#222" stroke="#222" text-anchor="end" textLength="19.00" lengthAdjust="spacingAndGlyphs" transform="rotate(-45 486.15 275.40)" >CFU-E</text>
<line x1="293.60" y1="265.80" x2="491.00" y2="265.80" stroke="#222" stroke-width="1.0" />
<text x="34.60" y="319.40" font-size="6.35" fill="#222" stroke="#222" textLength="105.70" lengthAdjust="spacingAndGlyphs" >Experimental setup of competitive 1:1</text>
<text x="34.60" y="327.20" font-size="6.35" fill="#222" stroke="#222" textLength="117.00" lengthAdjust="spacingAndGlyphs" >transplantations into secondary recipients</text>
<text x="48.10" y="339.60" font-size="6.35" fill="#222" stroke="#222" text-anchor="middle" >1<tspan font-size="4" dy="-2.2">st</tspan><tspan dy="2.2"> recipients</tspan></text>
<text x="48.10" y="347.70" font-size="6.35" fill="#222" stroke="#222" text-anchor="middle" textLength="33.50" lengthAdjust="spacingAndGlyphs" >= donors for</text>
<text x="48.10" y="355.90" font-size="6.35" fill="#222" stroke="#222" text-anchor="middle" textLength="35.00" lengthAdjust="spacingAndGlyphs" >secondaries</text>
<text x="47.60" y="363.70" font-size="6.35" fill="#222" stroke="#222" text-anchor="middle" ><tspan font-style="italic">n</tspan> = 3</text>
<text x="118.00" y="340.00" font-size="6.35" fill="#222" stroke="#222" text-anchor="middle" >2<tspan font-size="4" dy="-2.2">nd</tspan><tspan dy="2.2"> recipients</tspan></text>
<text x="118.00" y="348.00" font-size="6.35" fill="#222" stroke="#222" text-anchor="middle" textLength="18.60" lengthAdjust="spacingAndGlyphs" >n = 18</text>
<text x="118.00" y="356.60" font-size="6.35" fill="#222" stroke="#222" text-anchor="middle" textLength="27.00" lengthAdjust="spacingAndGlyphs" >per group</text>
<text x="77.40" y="366.00" font-size="6.35" fill="#222" stroke="#222" text-anchor="middle" >1×10<tspan font-size="4.6" dy="-2.6">6</tspan></text>
<text x="99.00" y="416.20" font-size="6.35" fill="#222" stroke="#222" text-anchor="middle" >1×10<tspan font-size="4.6" dy="-2.6">6</tspan></text>
<text x="78.40" y="466.60" font-size="6.35" fill="#222" stroke="#222" text-anchor="middle" >1×10<tspan font-size="4.6" dy="-2.6">6</tspan></text>
<text x="116.40" y="365.00" font-size="6.35" fill="#222" stroke="#222" textLength="17.60" lengthAdjust="spacingAndGlyphs" >12 Gy</text>
<text x="155.30" y="365.00" font-size="6.35" fill="#222" stroke="#222" text-anchor="middle" textLength="27.00" lengthAdjust="spacingAndGlyphs" >30 weeks</text>
<text x="155.30" y="373.60" font-size="6.35" fill="#222" stroke="#222" text-anchor="middle" textLength="25.50" lengthAdjust="spacingAndGlyphs" >follow-up</text>
<line x1="130.80" y1="376.70" x2="177.10" y2="376.70" stroke="#222" stroke-width="0.8" />
<path d="M179.60,376.70 L176.40,375.20 L176.40,378.20 Z" fill="#222"/>
<text x="116.40" y="429.70" font-size="6.35" fill="#222" stroke="#222" textLength="17.60" lengthAdjust="spacingAndGlyphs" >12 Gy</text>
<text x="155.30" y="434.60" font-size="6.35" fill="#222" stroke="#222" text-anchor="middle" textLength="27.00" lengthAdjust="spacingAndGlyphs" >30 weeks</text>
<text x="155.30" y="443.50" font-size="6.35" fill="#222" stroke="#222" text-anchor="middle" textLength="25.50" lengthAdjust="spacingAndGlyphs" >follow-up</text>
<line x1="130.80" y1="446.00" x2="177.10" y2="446.00" stroke="#222" stroke-width="0.8" />
<path d="M179.60,446.00 L176.40,444.50 L176.40,447.50 Z" fill="#222"/>
<path d="M130.40,367.40 l-4.6,4.4 l2.2,0.2 l-2.2,3.8 l4.6,-4.6 l-2.1,-0.2 l2.6,-3.6 z" fill="#f3c53a" stroke="#c9961c" stroke-width="0.3"/>
<path d="M130.20,431.00 l-4.6,4.4 l2.2,0.2 l-2.2,3.8 l4.6,-4.6 l-2.1,-0.2 l2.6,-3.6 z" fill="#f3c53a" stroke="#c9961c" stroke-width="0.3"/>
<g transform="translate(118.20,378.00) scale(0.95)"><path d="M-11.8,-9.4 C-9.5,-7.8 -6.5,-10.6 -3,-10.4 C-0.6,-10.3 0.6,-9 0.7,-6.4" fill="none" stroke="#444" stroke-width="0.75"/><circle cx="0" cy="0" r="6.4" fill="#828282" stroke="#3c3c3c" stroke-width="0.6"/><path d="M-5.7,0.3 Q-4.3,-1.9 -1.6,-0.1 M5.7,0.3 Q4.3,-1.9 1.6,-0.1" fill="none" stroke="#1e1e1e" stroke-width="1.0"/><circle cx="-1.4" cy="3.1" r="0.65" fill="#1e1e1e"/><circle cx="1.4" cy="3.1" r="0.65" fill="#1e1e1e"/><path d="M-2.9,5.9 L2.9,5.9" stroke="#1e1e1e" stroke-width="1.1"/></g>
<g transform="translate(118.20,446.60) scale(0.95)"><path d="M-11.8,-9.4 C-9.5,-7.8 -6.5,-10.6 -3,-10.4 C-0.6,-10.3 0.6,-9 0.7,-6.4" fill="none" stroke="#444" stroke-width="0.75"/><circle cx="0" cy="0" r="6.4" fill="#828282" stroke="#3c3c3c" stroke-width="0.6"/><path d="M-5.7,0.3 Q-4.3,-1.9 -1.6,-0.1 M5.7,0.3 Q4.3,-1.9 1.6,-0.1" fill="none" stroke="#1e1e1e" stroke-width="1.0"/><circle cx="-1.4" cy="3.1" r="0.65" fill="#1e1e1e"/><circle cx="1.4" cy="3.1" r="0.65" fill="#1e1e1e"/><path d="M-2.9,5.9 L2.9,5.9" stroke="#1e1e1e" stroke-width="1.1"/></g>
<text x="118.60" y="396.80" font-size="6.35" fill="#222" stroke="#222" text-anchor="middle" font-style="italic" >WT</text>
<text x="118.60" y="464.20" font-size="6.35" fill="#222" stroke="#222" text-anchor="middle" font-style="italic" >WT</text>
<g transform="translate(47.60,378.50) scale(1.0)"><path d="M-11.8,-9.4 C-9.5,-7.8 -6.5,-10.6 -3,-10.4 C-0.6,-10.3 0.6,-9 0.7,-6.4" fill="none" stroke="#444" stroke-width="0.75"/><circle cx="0" cy="0" r="6.4" fill="#e4e4e4" stroke="#1a1a1a" stroke-width="0.9"/><path d="M-5.7,0.3 Q-4.3,-1.9 -1.6,-0.1 M5.7,0.3 Q4.3,-1.9 1.6,-0.1" fill="none" stroke="#555" stroke-width="1.0"/><circle cx="-1.4" cy="3.1" r="0.65" fill="#1a1a1a"/><circle cx="1.4" cy="3.1" r="0.65" fill="#1a1a1a"/><path d="M-2.9,5.9 L2.9,5.9" stroke="#1a1a1a" stroke-width="1.1"/></g>
<g transform="translate(60.00,412.00) scale(1.0)"><path d="M-11.8,-9.4 C-9.5,-7.8 -6.5,-10.6 -3,-10.4 C-0.6,-10.3 0.6,-9 0.7,-6.4" fill="none" stroke="#444" stroke-width="0.75"/><circle cx="0" cy="0" r="6.4" fill="#828282" stroke="#3c3c3c" stroke-width="0.6"/><path d="M-5.7,0.3 Q-4.3,-1.9 -1.6,-0.1 M5.7,0.3 Q4.3,-1.9 1.6,-0.1" fill="none" stroke="#1e1e1e" stroke-width="1.0"/><circle cx="-1.4" cy="3.1" r="0.65" fill="#1e1e1e"/><circle cx="1.4" cy="3.1" r="0.65" fill="#1e1e1e"/><path d="M-2.9,5.9 L2.9,5.9" stroke="#1e1e1e" stroke-width="1.1"/></g>
<g transform="translate(47.60,446.50) scale(1.0)"><path d="M-11.8,-9.4 C-9.5,-7.8 -6.5,-10.6 -3,-10.4 C-0.6,-10.3 0.6,-9 0.7,-6.4" fill="none" stroke="#444" stroke-width="0.75"/><circle cx="0" cy="0" r="6.4" fill="#e4e4e4" stroke="#1a1a1a" stroke-width="0.9"/><path d="M-5.7,0.3 Q-4.3,-1.9 -1.6,-0.1 M5.7,0.3 Q4.3,-1.9 1.6,-0.1" fill="none" stroke="#555" stroke-width="1.0"/><circle cx="-1.4" cy="3.1" r="0.65" fill="#1a1a1a"/><circle cx="1.4" cy="3.1" r="0.65" fill="#1a1a1a"/><path d="M-2.9,5.9 L2.9,5.9" stroke="#1a1a1a" stroke-width="1.1"/></g>
<circle cx="72.50" cy="369.00" r="1.45" fill="#9bb84a" stroke="#d2aa3c" stroke-width="0.6"/><circle cx="68.50" cy="371.30" r="1.55" fill="#2f8a3a" stroke="#256e2e" stroke-width="0.4"/><circle cx="76.60" cy="370.70" r="1.55" fill="#2f8a3a" stroke="#256e2e" stroke-width="0.4"/><circle cx="81.10" cy="372.40" r="1.45" fill="#9bb84a" stroke="#d2aa3c" stroke-width="0.6"/><circle cx="65.00" cy="375.30" r="1.55" fill="#2f8a3a" stroke="#256e2e" stroke-width="0.4"/><circle cx="72.50" cy="374.70" r="1.55" fill="#2f8a3a" stroke="#256e2e" stroke-width="0.4"/><circle cx="76.60" cy="376.50" r="1.55" fill="#2f8a3a" stroke="#256e2e" stroke-width="0.4"/><circle cx="80.60" cy="377.60" r="1.55" fill="#2f8a3a" stroke="#256e2e" stroke-width="0.4"/><circle cx="69.10" cy="377.60" r="1.55" fill="#2f8a3a" stroke="#256e2e" stroke-width="0.4"/><circle cx="63.90" cy="379.30" r="1.55" fill="#2f8a3a" stroke="#256e2e" stroke-width="0.4"/><circle cx="71.90" cy="380.50" r="1.55" fill="#e3ad55" stroke="#c98d2e" stroke-width="0.4"/><circle cx="67.90" cy="381.10" r="1.55" fill="#2f8a3a" stroke="#256e2e" stroke-width="0.4"/><circle cx="76.00" cy="380.50" r="1.55" fill="#2f8a3a" stroke="#256e2e" stroke-width="0.4"/><circle cx="67.30" cy="385.10" r="1.55" fill="#e3ad55" stroke="#c98d2e" stroke-width="0.4"/><circle cx="71.90" cy="385.10" r="1.55" fill="#2f8a3a" stroke="#256e2e" stroke-width="0.4"/><circle cx="77.70" cy="384.50" r="1.55" fill="#2f8a3a" stroke="#256e2e" stroke-width="0.4"/>
<circle cx="74.90" cy="406.50" r="1.55" fill="#dcc658" stroke="#9a8220" stroke-width="0.65"/><circle cx="79.50" cy="408.10" r="1.55" fill="#dcc658" stroke="#9a8220" stroke-width="0.65"/><circle cx="83.20" cy="406.50" r="1.55" fill="#dcc658" stroke="#9a8220" stroke-width="0.65"/><circle cx="87.00" cy="408.50" r="1.55" fill="#dcc658" stroke="#9a8220" stroke-width="0.65"/><circle cx="71.20" cy="411.80" r="1.55" fill="#dcc658" stroke="#9a8220" stroke-width="0.65"/><circle cx="75.30" cy="411.00" r="1.55" fill="#dcc658" stroke="#9a8220" stroke-width="0.65"/><circle cx="82.00" cy="412.30" r="1.55" fill="#dcc658" stroke="#9a8220" stroke-width="0.65"/><circle cx="86.50" cy="413.10" r="1.55" fill="#dcc658" stroke="#9a8220" stroke-width="0.65"/><circle cx="74.90" cy="415.20" r="1.55" fill="#dcc658" stroke="#9a8220" stroke-width="0.65"/><circle cx="79.10" cy="415.60" r="1.55" fill="#dcc658" stroke="#9a8220" stroke-width="0.65"/><circle cx="82.80" cy="416.80" r="1.55" fill="#dcc658" stroke="#9a8220" stroke-width="0.65"/><circle cx="87.40" cy="416.40" r="1.55" fill="#dcc658" stroke="#9a8220" stroke-width="0.65"/><circle cx="71.60" cy="417.70" r="1.55" fill="#dcc658" stroke="#9a8220" stroke-width="0.65"/><circle cx="76.60" cy="419.30" r="1.55" fill="#dcc658" stroke="#9a8220" stroke-width="0.65"/><circle cx="80.70" cy="418.90" r="1.55" fill="#dcc658" stroke="#9a8220" stroke-width="0.65"/><circle cx="84.90" cy="419.70" r="1.55" fill="#dcc658" stroke="#9a8220" stroke-width="0.65"/><circle cx="78.60" cy="411.60" r="1.55" fill="#dcc658" stroke="#9a8220" stroke-width="0.65"/><circle cx="80.00" cy="404.80" r="1.55" fill="#dcc658" stroke="#9a8220" stroke-width="0.65"/>
<circle cx="72.50" cy="440.00" r="1.45" fill="#9bb84a" stroke="#d2aa3c" stroke-width="0.6"/><circle cx="68.50" cy="442.30" r="1.55" fill="#2f8a3a" stroke="#256e2e" stroke-width="0.4"/><circle cx="76.60" cy="441.70" r="1.55" fill="#2f8a3a" stroke="#256e2e" stroke-width="0.4"/><circle cx="81.10" cy="443.40" r="1.45" fill="#9bb84a" stroke="#d2aa3c" stroke-width="0.6"/><circle cx="65.00" cy="446.30" r="1.55" fill="#2f8a3a" stroke="#256e2e" stroke-width="0.4"/><circle cx="72.50" cy="445.70" r="1.55" fill="#2f8a3a" stroke="#256e2e" stroke-width="0.4"/><circle cx="76.60" cy="447.50" r="1.55" fill="#2f8a3a" stroke="#256e2e" stroke-width="0.4"/><circle cx="80.60" cy="448.60" r="1.55" fill="#2f8a3a" stroke="#256e2e" stroke-width="0.4"/><circle cx="69.10" cy="448.60" r="1.55" fill="#2f8a3a" stroke="#256e2e" stroke-width="0.4"/><circle cx="63.90" cy="450.30" r="1.55" fill="#2f8a3a" stroke="#256e2e" stroke-width="0.4"/><circle cx="71.90" cy="451.50" r="1.55" fill="#e3ad55" stroke="#c98d2e" stroke-width="0.4"/><circle cx="67.90" cy="452.10" r="1.55" fill="#2f8a3a" stroke="#256e2e" stroke-width="0.4"/><circle cx="76.00" cy="451.50" r="1.55" fill="#2f8a3a" stroke="#256e2e" stroke-width="0.4"/><circle cx="67.30" cy="456.10" r="1.55" fill="#e3ad55" stroke="#c98d2e" stroke-width="0.4"/><circle cx="71.90" cy="456.10" r="1.55" fill="#2f8a3a" stroke="#256e2e" stroke-width="0.4"/><circle cx="77.70" cy="455.50" r="1.55" fill="#2f8a3a" stroke="#256e2e" stroke-width="0.4"/>
<text x="47.60" y="396.30" font-size="6.35" text-anchor="middle"><tspan fill="#3e5f98" font-style="italic">VF</tspan><tspan fill="#3e5f98">;</tspan><tspan fill="#5cb85c">GFP</tspan></text>
<text x="59.60" y="430.00" font-size="6.35" fill="#222" stroke="#222" text-anchor="middle" font-style="italic" >WT</text>
<text x="32.70" y="466.00" font-size="6.35" textLength="31.70" lengthAdjust="spacingAndGlyphs"><tspan fill="#3e5f98" font-style="italic">VF</tspan><tspan fill="#3e5f98">;</tspan><tspan fill="#d4466e" font-style="italic">IL-1β</tspan><tspan fill="#d4466e" font-style="italic"><tspan font-size="3.81" dy="-2.54">−/−</tspan></tspan><tspan fill="#5cb85c" dy="2.54">;</tspan></text>
<text x="48.50" y="473.80" font-size="6.35" fill="#5cb85c" stroke="#5cb85c" text-anchor="middle" font-style="italic" >GFP</text>
<text x="95.30" y="377.80" font-size="6.35" fill="#222" stroke="#222" text-anchor="middle" >1:1</text>
<text x="95.60" y="457.00" font-size="6.35" fill="#222" stroke="#222" text-anchor="middle" >1:1</text>
<line x1="85.40" y1="380.80" x2="103.10" y2="380.80" stroke="#222" stroke-width="0.8" />
<path d="M105.60,380.80 L102.40,379.30 L102.40,382.30 Z" fill="#222"/>
<line x1="85.40" y1="448.50" x2="103.10" y2="448.50" stroke="#222" stroke-width="0.8" />
<path d="M105.60,448.50 L102.40,447.00 L102.40,450.00 Z" fill="#222"/>
<path d="M86.3,394.0 C87.5,386.5 93,382.5 101,381.5" fill="none" stroke="#222" stroke-width="0.8"/>
<path d="M86.0,436.0 C87.5,442.5 92,447 101,448.2" fill="none" stroke="#222" stroke-width="0.8"/>
<text x="259.60" y="319.00" font-size="6.35" fill="#222" stroke="#222" textLength="191.60" lengthAdjust="spacingAndGlyphs" >Time course of blood counts and GFP chimerism in peripheral blood</text>
<text x="237.30" y="332.10" font-size="6.35" fill="#222" stroke="#222" textLength="49.70" lengthAdjust="spacingAndGlyphs" >Hemoglobin (g/L)</text>
<rect x="232.00" y="357.94" width="60.50" height="28.86" fill="#e1e1e3" stroke="none" stroke-width="0" />
<line x1="232.00" y1="337.20" x2="232.00" y2="386.80" stroke="#222" stroke-width="1.0" />
<line x1="232.00" y1="386.80" x2="292.50" y2="386.80" stroke="#222" stroke-width="1.0" />
<line x1="229.00" y1="386.80" x2="232.00" y2="386.80" stroke="#222" stroke-width="0.9" />
<text x="225.40" y="389.05" font-size="6.3" fill="#222" stroke="#222" text-anchor="end" >100</text>
<line x1="229.00" y1="377.18" x2="232.00" y2="377.18" stroke="#222" stroke-width="0.9" />
<text x="225.40" y="379.43" font-size="6.3" fill="#222" stroke="#222" text-anchor="end" >120</text>
<line x1="229.00" y1="367.56" x2="232.00" y2="367.56" stroke="#222" stroke-width="0.9" />
<text x="225.40" y="369.81" font-size="6.3" fill="#222" stroke="#222" text-anchor="end" >140</text>
<line x1="229.00" y1="357.94" x2="232.00" y2="357.94" stroke="#222" stroke-width="0.9" />
<text x="225.40" y="360.19" font-size="6.3" fill="#222" stroke="#222" text-anchor="end" >160</text>
<line x1="229.00" y1="348.32" x2="232.00" y2="348.32" stroke="#222" stroke-width="0.9" />
<text x="225.40" y="350.57" font-size="6.3" fill="#222" stroke="#222" text-anchor="end" >180</text>
<line x1="229.00" y1="338.70" x2="232.00" y2="338.70" stroke="#222" stroke-width="0.9" />
<text x="225.40" y="340.95" font-size="6.3" fill="#222" stroke="#222" text-anchor="end" >200</text>
<line x1="239.60" y1="386.80" x2="239.60" y2="389.60" stroke="#222" stroke-width="0.9" />
<line x1="250.90" y1="386.80" x2="250.90" y2="389.60" stroke="#222" stroke-width="0.9" />
<line x1="262.30" y1="386.80" x2="262.30" y2="389.60" stroke="#222" stroke-width="0.9" />
<line x1="273.60" y1="386.80" x2="273.60" y2="389.60" stroke="#222" stroke-width="0.9" />
<line x1="284.70" y1="386.80" x2="284.70" y2="389.60" stroke="#222" stroke-width="0.9" />
<text x="239.60" y="398.30" font-size="6.3" fill="#222" stroke="#222" text-anchor="middle" >6</text>
<text x="250.90" y="398.30" font-size="6.3" fill="#222" stroke="#222" text-anchor="middle" >12</text>
<text x="262.30" y="398.30" font-size="6.3" fill="#222" stroke="#222" text-anchor="middle" >18</text>
<text x="273.60" y="398.30" font-size="6.3" fill="#222" stroke="#222" text-anchor="middle" >24</text>
<text x="284.70" y="398.30" font-size="6.3" fill="#222" stroke="#222" text-anchor="middle" >30</text>
<polyline points="239.60,360.34 250.90,360.34 262.30,363.71 273.60,360.34 284.70,365.15" fill="none" stroke="#6fb1e3" stroke-width="0.8" stroke-dasharray="1.2,1"/>
<line x1="239.60" y1="362.27" x2="239.60" y2="358.42" stroke="#6fb1e3" stroke-width="0.7" />
<line x1="238.30" y1="358.42" x2="240.90" y2="358.42" stroke="#6fb1e3" stroke-width="0.7" />
<line x1="238.30" y1="362.27" x2="240.90" y2="362.27" stroke="#6fb1e3" stroke-width="0.7" />
<circle cx="239.60" cy="360.34" r="1.7" fill="#cfe6f7" stroke="#6fb1e3" stroke-width="0.8"/>
<line x1="250.90" y1="362.27" x2="250.90" y2="358.42" stroke="#6fb1e3" stroke-width="0.7" />
<line x1="249.60" y1="358.42" x2="252.20" y2="358.42" stroke="#6fb1e3" stroke-width="0.7" />
<line x1="249.60" y1="362.27" x2="252.20" y2="362.27" stroke="#6fb1e3" stroke-width="0.7" />
<circle cx="250.90" cy="360.34" r="1.7" fill="#cfe6f7" stroke="#6fb1e3" stroke-width="0.8"/>
<line x1="262.30" y1="365.64" x2="262.30" y2="361.79" stroke="#6fb1e3" stroke-width="0.7" />
<line x1="261.00" y1="361.79" x2="263.60" y2="361.79" stroke="#6fb1e3" stroke-width="0.7" />
<line x1="261.00" y1="365.64" x2="263.60" y2="365.64" stroke="#6fb1e3" stroke-width="0.7" />
<circle cx="262.30" cy="363.71" r="1.7" fill="#cfe6f7" stroke="#6fb1e3" stroke-width="0.8"/>
<line x1="273.60" y1="362.27" x2="273.60" y2="358.42" stroke="#6fb1e3" stroke-width="0.7" />
<line x1="272.30" y1="358.42" x2="274.90" y2="358.42" stroke="#6fb1e3" stroke-width="0.7" />
<line x1="272.30" y1="362.27" x2="274.90" y2="362.27" stroke="#6fb1e3" stroke-width="0.7" />
<circle cx="273.60" cy="360.34" r="1.7" fill="#cfe6f7" stroke="#6fb1e3" stroke-width="0.8"/>
<line x1="284.70" y1="367.08" x2="284.70" y2="363.23" stroke="#6fb1e3" stroke-width="0.7" />
<line x1="283.40" y1="363.23" x2="286.00" y2="363.23" stroke="#6fb1e3" stroke-width="0.7" />
<line x1="283.40" y1="367.08" x2="286.00" y2="367.08" stroke="#6fb1e3" stroke-width="0.7" />
<circle cx="284.70" cy="365.15" r="1.7" fill="#cfe6f7" stroke="#6fb1e3" stroke-width="0.8"/>
<polyline points="239.60,356.50 250.90,358.90 262.30,359.86 273.60,358.42 284.70,361.79" fill="none" stroke="#1f4275" stroke-width="0.85"/>
<line x1="239.60" y1="357.94" x2="239.60" y2="355.05" stroke="#1f4275" stroke-width="0.7" />
<line x1="238.30" y1="355.05" x2="240.90" y2="355.05" stroke="#1f4275" stroke-width="0.7" />
<line x1="238.30" y1="357.94" x2="240.90" y2="357.94" stroke="#1f4275" stroke-width="0.7" />
<circle cx="239.60" cy="356.50" r="1.8" fill="#1a4a88" stroke="#12386a" stroke-width="0.4"/>
<line x1="250.90" y1="360.34" x2="250.90" y2="357.46" stroke="#1f4275" stroke-width="0.7" />
<line x1="249.60" y1="357.46" x2="252.20" y2="357.46" stroke="#1f4275" stroke-width="0.7" />
<line x1="249.60" y1="360.34" x2="252.20" y2="360.34" stroke="#1f4275" stroke-width="0.7" />
<circle cx="250.90" cy="358.90" r="1.8" fill="#1a4a88" stroke="#12386a" stroke-width="0.4"/>
<line x1="262.30" y1="361.79" x2="262.30" y2="357.94" stroke="#1f4275" stroke-width="0.7" />
<line x1="261.00" y1="357.94" x2="263.60" y2="357.94" stroke="#1f4275" stroke-width="0.7" />
<line x1="261.00" y1="361.79" x2="263.60" y2="361.79" stroke="#1f4275" stroke-width="0.7" />
<circle cx="262.30" cy="359.86" r="1.8" fill="#1a4a88" stroke="#12386a" stroke-width="0.4"/>
<line x1="273.60" y1="361.31" x2="273.60" y2="355.53" stroke="#1f4275" stroke-width="0.7" />
<line x1="272.30" y1="355.53" x2="274.90" y2="355.53" stroke="#1f4275" stroke-width="0.7" />
<line x1="272.30" y1="361.31" x2="274.90" y2="361.31" stroke="#1f4275" stroke-width="0.7" />
<circle cx="273.60" cy="358.42" r="1.8" fill="#1a4a88" stroke="#12386a" stroke-width="0.4"/>
<line x1="284.70" y1="364.19" x2="284.70" y2="359.38" stroke="#1f4275" stroke-width="0.7" />
<line x1="283.40" y1="359.38" x2="286.00" y2="359.38" stroke="#1f4275" stroke-width="0.7" />
<line x1="283.40" y1="364.19" x2="286.00" y2="364.19" stroke="#1f4275" stroke-width="0.7" />
<circle cx="284.70" cy="361.79" r="1.8" fill="#1a4a88" stroke="#12386a" stroke-width="0.4"/>
<text x="328.60" y="331.80" font-size="6.35" fill="#222" stroke="#222" >Platelets (×10<tspan font-size="4.6" dy="-2.5">12</tspan><tspan dy="2.5">/L)</tspan></text>
<rect x="325.80" y="367.56" width="59.90" height="13.23" fill="#e1e1e3" stroke="none" stroke-width="0" />
<line x1="325.80" y1="337.20" x2="325.80" y2="386.80" stroke="#222" stroke-width="1.0" />
<line x1="325.80" y1="386.80" x2="385.70" y2="386.80" stroke="#222" stroke-width="1.0" />
<line x1="322.80" y1="386.80" x2="325.80" y2="386.80" stroke="#222" stroke-width="0.9" />
<text x="319.20" y="389.05" font-size="6.3" fill="#222" stroke="#222" text-anchor="end" >0</text>
<line x1="322.80" y1="374.77" x2="325.80" y2="374.77" stroke="#222" stroke-width="0.9" />
<text x="319.20" y="377.02" font-size="6.3" fill="#222" stroke="#222" text-anchor="end" >1</text>
<line x1="322.80" y1="362.75" x2="325.80" y2="362.75" stroke="#222" stroke-width="0.9" />
<text x="319.20" y="365.00" font-size="6.3" fill="#222" stroke="#222" text-anchor="end" >2</text>
<line x1="322.80" y1="350.73" x2="325.80" y2="350.73" stroke="#222" stroke-width="0.9" />
<text x="319.20" y="352.98" font-size="6.3" fill="#222" stroke="#222" text-anchor="end" >3</text>
<line x1="322.80" y1="338.70" x2="325.80" y2="338.70" stroke="#222" stroke-width="0.9" />
<text x="319.20" y="340.95" font-size="6.3" fill="#222" stroke="#222" text-anchor="end" >4</text>
<line x1="333.30" y1="386.80" x2="333.30" y2="389.60" stroke="#222" stroke-width="0.9" />
<line x1="344.70" y1="386.80" x2="344.70" y2="389.60" stroke="#222" stroke-width="0.9" />
<line x1="356.00" y1="386.80" x2="356.00" y2="389.60" stroke="#222" stroke-width="0.9" />
<line x1="367.30" y1="386.80" x2="367.30" y2="389.60" stroke="#222" stroke-width="0.9" />
<line x1="378.60" y1="386.80" x2="378.60" y2="389.60" stroke="#222" stroke-width="0.9" />
<text x="333.30" y="398.30" font-size="6.3" fill="#222" stroke="#222" text-anchor="middle" >6</text>
<text x="344.70" y="398.30" font-size="6.3" fill="#222" stroke="#222" text-anchor="middle" >12</text>
<text x="356.00" y="398.30" font-size="6.3" fill="#222" stroke="#222" text-anchor="middle" >18</text>
<text x="367.30" y="398.30" font-size="6.3" fill="#222" stroke="#222" text-anchor="middle" >24</text>
<text x="378.60" y="398.30" font-size="6.3" fill="#222" stroke="#222" text-anchor="middle" >30</text>
<polyline points="333.30,374.17 344.70,371.77 356.00,372.37 367.30,369.97 378.60,370.57" fill="none" stroke="#6fb1e3" stroke-width="0.8" stroke-dasharray="1.2,1"/>
<line x1="333.30" y1="375.38" x2="333.30" y2="372.97" stroke="#6fb1e3" stroke-width="0.7" />
<line x1="332.00" y1="372.97" x2="334.60" y2="372.97" stroke="#6fb1e3" stroke-width="0.7" />
<line x1="332.00" y1="375.38" x2="334.60" y2="375.38" stroke="#6fb1e3" stroke-width="0.7" />
<circle cx="333.30" cy="374.17" r="1.7" fill="#cfe6f7" stroke="#6fb1e3" stroke-width="0.8"/>
<line x1="344.70" y1="372.97" x2="344.70" y2="370.57" stroke="#6fb1e3" stroke-width="0.7" />
<line x1="343.40" y1="370.57" x2="346.00" y2="370.57" stroke="#6fb1e3" stroke-width="0.7" />
<line x1="343.40" y1="372.97" x2="346.00" y2="372.97" stroke="#6fb1e3" stroke-width="0.7" />
<circle cx="344.70" cy="371.77" r="1.7" fill="#cfe6f7" stroke="#6fb1e3" stroke-width="0.8"/>
<line x1="356.00" y1="373.57" x2="356.00" y2="371.17" stroke="#6fb1e3" stroke-width="0.7" />
<line x1="354.70" y1="371.17" x2="357.30" y2="371.17" stroke="#6fb1e3" stroke-width="0.7" />
<line x1="354.70" y1="373.57" x2="357.30" y2="373.57" stroke="#6fb1e3" stroke-width="0.7" />
<circle cx="356.00" cy="372.37" r="1.7" fill="#cfe6f7" stroke="#6fb1e3" stroke-width="0.8"/>
<line x1="367.30" y1="371.17" x2="367.30" y2="368.76" stroke="#6fb1e3" stroke-width="0.7" />
<line x1="366.00" y1="368.76" x2="368.60" y2="368.76" stroke="#6fb1e3" stroke-width="0.7" />
<line x1="366.00" y1="371.17" x2="368.60" y2="371.17" stroke="#6fb1e3" stroke-width="0.7" />
<circle cx="367.30" cy="369.97" r="1.7" fill="#cfe6f7" stroke="#6fb1e3" stroke-width="0.8"/>
<line x1="378.60" y1="371.77" x2="378.60" y2="369.36" stroke="#6fb1e3" stroke-width="0.7" />
<line x1="377.30" y1="369.36" x2="379.90" y2="369.36" stroke="#6fb1e3" stroke-width="0.7" />
<line x1="377.30" y1="371.77" x2="379.90" y2="371.77" stroke="#6fb1e3" stroke-width="0.7" />
<circle cx="378.60" cy="370.57" r="1.7" fill="#cfe6f7" stroke="#6fb1e3" stroke-width="0.8"/>
<polyline points="333.30,373.57 344.70,368.76 356.00,367.56 367.30,359.14 378.60,354.33" fill="none" stroke="#1f4275" stroke-width="0.85"/>
<line x1="333.30" y1="374.77" x2="333.30" y2="372.37" stroke="#1f4275" stroke-width="0.7" />
<line x1="332.00" y1="372.37" x2="334.60" y2="372.37" stroke="#1f4275" stroke-width="0.7" />
<line x1="332.00" y1="374.77" x2="334.60" y2="374.77" stroke="#1f4275" stroke-width="0.7" />
<circle cx="333.30" cy="373.57" r="1.8" fill="#1a4a88" stroke="#12386a" stroke-width="0.4"/>
<line x1="344.70" y1="370.57" x2="344.70" y2="366.96" stroke="#1f4275" stroke-width="0.7" />
<line x1="343.40" y1="366.96" x2="346.00" y2="366.96" stroke="#1f4275" stroke-width="0.7" />
<line x1="343.40" y1="370.57" x2="346.00" y2="370.57" stroke="#1f4275" stroke-width="0.7" />
<circle cx="344.70" cy="368.76" r="1.8" fill="#1a4a88" stroke="#12386a" stroke-width="0.4"/>
<line x1="356.00" y1="369.36" x2="356.00" y2="365.76" stroke="#1f4275" stroke-width="0.7" />
<line x1="354.70" y1="365.76" x2="357.30" y2="365.76" stroke="#1f4275" stroke-width="0.7" />
<line x1="354.70" y1="369.36" x2="357.30" y2="369.36" stroke="#1f4275" stroke-width="0.7" />
<circle cx="356.00" cy="367.56" r="1.8" fill="#1a4a88" stroke="#12386a" stroke-width="0.4"/>
<line x1="367.30" y1="363.35" x2="367.30" y2="354.93" stroke="#1f4275" stroke-width="0.7" />
<line x1="366.00" y1="354.93" x2="368.60" y2="354.93" stroke="#1f4275" stroke-width="0.7" />
<line x1="366.00" y1="363.35" x2="368.60" y2="363.35" stroke="#1f4275" stroke-width="0.7" />
<circle cx="367.30" cy="359.14" r="1.8" fill="#1a4a88" stroke="#12386a" stroke-width="0.4"/>
<line x1="378.60" y1="361.55" x2="378.60" y2="347.12" stroke="#1f4275" stroke-width="0.7" />
<line x1="377.30" y1="347.12" x2="379.90" y2="347.12" stroke="#1f4275" stroke-width="0.7" />
<line x1="377.30" y1="361.55" x2="379.90" y2="361.55" stroke="#1f4275" stroke-width="0.7" />
<circle cx="378.60" cy="354.33" r="1.8" fill="#1a4a88" stroke="#12386a" stroke-width="0.4"/>
<rect x="343.95" y="361.55" width="1.5" height="1.5" fill="#333"/>
<rect x="355.25" y="360.85" width="1.5" height="1.5" fill="#333"/>
<rect x="366.55" y="351.25" width="1.5" height="1.5" fill="#333"/>
<rect x="377.85" y="343.75" width="1.5" height="1.5" fill="#333"/>
<text x="420.30" y="332.20" font-size="6.35" fill="#222" stroke="#222" >Neutrophils (×10<tspan font-size="4.6" dy="-2.5">9</tspan><tspan dy="2.5">/L)</tspan></text>
<rect x="418.00" y="371.20" width="60.50" height="16.00" fill="#e1e1e3" stroke="none" stroke-width="0" />
<line x1="418.00" y1="337.70" x2="418.00" y2="387.20" stroke="#222" stroke-width="1.0" />
<line x1="418.00" y1="387.20" x2="478.50" y2="387.20" stroke="#222" stroke-width="1.0" />
<line x1="415.00" y1="387.20" x2="418.00" y2="387.20" stroke="#222" stroke-width="0.9" />
<text x="411.40" y="389.45" font-size="6.3" fill="#222" stroke="#222" text-anchor="end" >0</text>
<line x1="415.00" y1="371.20" x2="418.00" y2="371.20" stroke="#222" stroke-width="0.9" />
<text x="411.40" y="373.45" font-size="6.3" fill="#222" stroke="#222" text-anchor="end" >1</text>
<line x1="415.00" y1="355.20" x2="418.00" y2="355.20" stroke="#222" stroke-width="0.9" />
<text x="411.40" y="357.45" font-size="6.3" fill="#222" stroke="#222" text-anchor="end" >2</text>
<line x1="415.00" y1="339.20" x2="418.00" y2="339.20" stroke="#222" stroke-width="0.9" />
<text x="411.40" y="341.45" font-size="6.3" fill="#222" stroke="#222" text-anchor="end" >3</text>
<line x1="426.60" y1="387.20" x2="426.60" y2="390.00" stroke="#222" stroke-width="0.9" />
<line x1="438.00" y1="387.20" x2="438.00" y2="390.00" stroke="#222" stroke-width="0.9" />
<line x1="449.30" y1="387.20" x2="449.30" y2="390.00" stroke="#222" stroke-width="0.9" />
<line x1="460.70" y1="387.20" x2="460.70" y2="390.00" stroke="#222" stroke-width="0.9" />
<line x1="472.20" y1="387.20" x2="472.20" y2="390.00" stroke="#222" stroke-width="0.9" />
<text x="426.60" y="398.30" font-size="6.3" fill="#222" stroke="#222" text-anchor="middle" >6</text>
<text x="438.00" y="398.30" font-size="6.3" fill="#222" stroke="#222" text-anchor="middle" >12</text>
<text x="449.30" y="398.30" font-size="6.3" fill="#222" stroke="#222" text-anchor="middle" >18</text>
<text x="460.70" y="398.30" font-size="6.3" fill="#222" stroke="#222" text-anchor="middle" >24</text>
<text x="472.20" y="398.30" font-size="6.3" fill="#222" stroke="#222" text-anchor="middle" >30</text>
<polyline points="426.60,371.20 438.00,375.20 449.30,372.80 460.70,371.20 472.20,372.00" fill="none" stroke="#6fb1e3" stroke-width="0.8" stroke-dasharray="1.2,1"/>
<line x1="426.60" y1="373.12" x2="426.60" y2="369.28" stroke="#6fb1e3" stroke-width="0.7" />
<line x1="425.30" y1="369.28" x2="427.90" y2="369.28" stroke="#6fb1e3" stroke-width="0.7" />
<line x1="425.30" y1="373.12" x2="427.90" y2="373.12" stroke="#6fb1e3" stroke-width="0.7" />
<circle cx="426.60" cy="371.20" r="1.7" fill="#cfe6f7" stroke="#6fb1e3" stroke-width="0.8"/>
<line x1="438.00" y1="376.48" x2="438.00" y2="373.92" stroke="#6fb1e3" stroke-width="0.7" />
<line x1="436.70" y1="373.92" x2="439.30" y2="373.92" stroke="#6fb1e3" stroke-width="0.7" />
<line x1="436.70" y1="376.48" x2="439.30" y2="376.48" stroke="#6fb1e3" stroke-width="0.7" />
<circle cx="438.00" cy="375.20" r="1.7" fill="#cfe6f7" stroke="#6fb1e3" stroke-width="0.8"/>
<line x1="449.30" y1="375.20" x2="449.30" y2="370.40" stroke="#6fb1e3" stroke-width="0.7" />
<line x1="448.00" y1="370.40" x2="450.60" y2="370.40" stroke="#6fb1e3" stroke-width="0.7" />
<line x1="448.00" y1="375.20" x2="450.60" y2="375.20" stroke="#6fb1e3" stroke-width="0.7" />
<circle cx="449.30" cy="372.80" r="1.7" fill="#cfe6f7" stroke="#6fb1e3" stroke-width="0.8"/>
<line x1="460.70" y1="373.60" x2="460.70" y2="368.80" stroke="#6fb1e3" stroke-width="0.7" />
<line x1="459.40" y1="368.80" x2="462.00" y2="368.80" stroke="#6fb1e3" stroke-width="0.7" />
<line x1="459.40" y1="373.60" x2="462.00" y2="373.60" stroke="#6fb1e3" stroke-width="0.7" />
<circle cx="460.70" cy="371.20" r="1.7" fill="#cfe6f7" stroke="#6fb1e3" stroke-width="0.8"/>
<line x1="472.20" y1="374.40" x2="472.20" y2="369.60" stroke="#6fb1e3" stroke-width="0.7" />
<line x1="470.90" y1="369.60" x2="473.50" y2="369.60" stroke="#6fb1e3" stroke-width="0.7" />
<line x1="470.90" y1="374.40" x2="473.50" y2="374.40" stroke="#6fb1e3" stroke-width="0.7" />
<circle cx="472.20" cy="372.00" r="1.7" fill="#cfe6f7" stroke="#6fb1e3" stroke-width="0.8"/>
<polyline points="426.60,370.40 438.00,374.40 449.30,368.80 460.70,367.20 472.20,368.00" fill="none" stroke="#1f4275" stroke-width="0.85"/>
<line x1="426.60" y1="372.80" x2="426.60" y2="368.00" stroke="#1f4275" stroke-width="0.7" />
<line x1="425.30" y1="368.00" x2="427.90" y2="368.00" stroke="#1f4275" stroke-width="0.7" />
<line x1="425.30" y1="372.80" x2="427.90" y2="372.80" stroke="#1f4275" stroke-width="0.7" />
<circle cx="426.60" cy="370.40" r="1.8" fill="#1a4a88" stroke="#12386a" stroke-width="0.4"/>
<line x1="438.00" y1="375.68" x2="438.00" y2="373.12" stroke="#1f4275" stroke-width="0.7" />
<line x1="436.70" y1="373.12" x2="439.30" y2="373.12" stroke="#1f4275" stroke-width="0.7" />
<line x1="436.70" y1="375.68" x2="439.30" y2="375.68" stroke="#1f4275" stroke-width="0.7" />
<circle cx="438.00" cy="374.40" r="1.8" fill="#1a4a88" stroke="#12386a" stroke-width="0.4"/>
<line x1="449.30" y1="372.00" x2="449.30" y2="365.60" stroke="#1f4275" stroke-width="0.7" />
<line x1="448.00" y1="365.60" x2="450.60" y2="365.60" stroke="#1f4275" stroke-width="0.7" />
<line x1="448.00" y1="372.00" x2="450.60" y2="372.00" stroke="#1f4275" stroke-width="0.7" />
<circle cx="449.30" cy="368.80" r="1.8" fill="#1a4a88" stroke="#12386a" stroke-width="0.4"/>
<line x1="460.70" y1="372.00" x2="460.70" y2="362.40" stroke="#1f4275" stroke-width="0.7" />
<line x1="459.40" y1="362.40" x2="462.00" y2="362.40" stroke="#1f4275" stroke-width="0.7" />
<line x1="459.40" y1="372.00" x2="462.00" y2="372.00" stroke="#1f4275" stroke-width="0.7" />
<circle cx="460.70" cy="367.20" r="1.8" fill="#1a4a88" stroke="#12386a" stroke-width="0.4"/>
<line x1="472.20" y1="371.20" x2="472.20" y2="364.80" stroke="#1f4275" stroke-width="0.7" />
<line x1="470.90" y1="364.80" x2="473.50" y2="364.80" stroke="#1f4275" stroke-width="0.7" />
<line x1="470.90" y1="371.20" x2="473.50" y2="371.20" stroke="#1f4275" stroke-width="0.7" />
<circle cx="472.20" cy="368.00" r="1.8" fill="#1a4a88" stroke="#12386a" stroke-width="0.4"/>
<text x="480.80" y="363.40" font-size="6.7" textLength="23.00" lengthAdjust="spacingAndGlyphs"><tspan fill="#3e5f98" font-style="italic">VF</tspan><tspan fill="#3e5f98">;</tspan><tspan fill="#5cb85c">GFP</tspan></text>
<text x="480.80" y="379.40" font-size="6.7" textLength="32.00" lengthAdjust="spacingAndGlyphs"><tspan fill="#3e5f98" font-style="italic">VF</tspan><tspan fill="#3e5f98">;</tspan><tspan fill="#d4466e" font-style="italic">IL-1β</tspan><tspan fill="#d4466e" font-style="italic"><tspan font-size="4.02" dy="-2.68">−/−</tspan></tspan><tspan fill="#5cb85c" dy="2.68">;</tspan></text>
<text x="480.80" y="388.60" font-size="6.7" fill="#5cb85c" stroke="#5cb85c" font-style="italic" textLength="14.00" lengthAdjust="spacingAndGlyphs" >GFP</text>
<circle cx="207.70" cy="361.50" r="2.3" fill="#1a4a88" stroke="#12386a" stroke-width="0.4"/>
<path d="M207.2,444.6 L209.6,447 L207.2,449.4 L204.8,447 Z" fill="#fff" stroke="#6fb1e3" stroke-width="0.9"/>
<text x="253.50" y="408.00" font-size="9.0" fill="#222" stroke="#222" font-weight="bold" textLength="17.30" lengthAdjust="spacingAndGlyphs" >Weeks</text>
<text x="207.80" y="422.00" font-size="9.0" fill="#222" stroke="#222" font-weight="bold" textLength="17.80" lengthAdjust="spacingAndGlyphs" >%GFP</text>
<text x="252.30" y="422.10" font-size="6.6" fill="#222" stroke="#222" textLength="19.90" lengthAdjust="spacingAndGlyphs" >Ter119</text>
<line x1="231.50" y1="427.50" x2="231.50" y2="477.20" stroke="#222" stroke-width="1.0" />
<line x1="231.50" y1="477.20" x2="292.00" y2="477.20" stroke="#222" stroke-width="1.0" />
<line x1="228.50" y1="477.20" x2="231.50" y2="477.20" stroke="#222" stroke-width="0.9" />
<text x="224.90" y="479.45" font-size="6.3" fill="#222" stroke="#222" text-anchor="end" >0</text>
<line x1="228.50" y1="467.56" x2="231.50" y2="467.56" stroke="#222" stroke-width="0.9" />
<text x="224.90" y="469.81" font-size="6.3" fill="#222" stroke="#222" text-anchor="end" >20</text>
<line x1="228.50" y1="457.92" x2="231.50" y2="457.92" stroke="#222" stroke-width="0.9" />
<text x="224.90" y="460.17" font-size="6.3" fill="#222" stroke="#222" text-anchor="end" >40</text>
<line x1="228.50" y1="448.28" x2="231.50" y2="448.28" stroke="#222" stroke-width="0.9" />
<text x="224.90" y="450.53" font-size="6.3" fill="#222" stroke="#222" text-anchor="end" >60</text>
<line x1="228.50" y1="438.64" x2="231.50" y2="438.64" stroke="#222" stroke-width="0.9" />
<text x="224.90" y="440.89" font-size="6.3" fill="#222" stroke="#222" text-anchor="end" >80</text>
<line x1="228.50" y1="429.00" x2="231.50" y2="429.00" stroke="#222" stroke-width="0.9" />
<text x="224.90" y="431.25" font-size="6.3" fill="#222" stroke="#222" text-anchor="end" >100</text>
<line x1="239.60" y1="477.20" x2="239.60" y2="480.00" stroke="#222" stroke-width="0.9" />
<line x1="251.00" y1="477.20" x2="251.00" y2="480.00" stroke="#222" stroke-width="0.9" />
<line x1="262.60" y1="477.20" x2="262.60" y2="480.00" stroke="#222" stroke-width="0.9" />
<line x1="273.90" y1="477.20" x2="273.90" y2="480.00" stroke="#222" stroke-width="0.9" />
<line x1="284.60" y1="477.20" x2="284.60" y2="480.00" stroke="#222" stroke-width="0.9" />
<text x="239.60" y="488.80" font-size="6.3" fill="#222" stroke="#222" text-anchor="middle" >6</text>
<text x="251.00" y="488.80" font-size="6.3" fill="#222" stroke="#222" text-anchor="middle" >12</text>
<text x="262.60" y="488.80" font-size="6.3" fill="#222" stroke="#222" text-anchor="middle" >18</text>
<text x="273.90" y="488.80" font-size="6.3" fill="#222" stroke="#222" text-anchor="middle" >24</text>
<text x="284.60" y="488.80" font-size="6.3" fill="#222" stroke="#222" text-anchor="middle" >30</text>
<polyline points="239.60,457.92 251.00,458.88 262.60,459.85 273.90,460.33 284.60,461.78" fill="none" stroke="#6fb1e3" stroke-width="0.8" stroke-dasharray="1.2,1"/>
<line x1="239.60" y1="462.26" x2="239.60" y2="453.58" stroke="#6fb1e3" stroke-width="0.7" />
<line x1="238.30" y1="453.58" x2="240.90" y2="453.58" stroke="#6fb1e3" stroke-width="0.7" />
<line x1="238.30" y1="462.26" x2="240.90" y2="462.26" stroke="#6fb1e3" stroke-width="0.7" />
<circle cx="239.60" cy="457.92" r="1.7" fill="#cfe6f7" stroke="#6fb1e3" stroke-width="0.8"/>
<line x1="251.00" y1="463.22" x2="251.00" y2="454.55" stroke="#6fb1e3" stroke-width="0.7" />
<line x1="249.70" y1="454.55" x2="252.30" y2="454.55" stroke="#6fb1e3" stroke-width="0.7" />
<line x1="249.70" y1="463.22" x2="252.30" y2="463.22" stroke="#6fb1e3" stroke-width="0.7" />
<circle cx="251.00" cy="458.88" r="1.7" fill="#cfe6f7" stroke="#6fb1e3" stroke-width="0.8"/>
<line x1="262.60" y1="464.19" x2="262.60" y2="455.51" stroke="#6fb1e3" stroke-width="0.7" />
<line x1="261.30" y1="455.51" x2="263.90" y2="455.51" stroke="#6fb1e3" stroke-width="0.7" />
<line x1="261.30" y1="464.19" x2="263.90" y2="464.19" stroke="#6fb1e3" stroke-width="0.7" />
<circle cx="262.60" cy="459.85" r="1.7" fill="#cfe6f7" stroke="#6fb1e3" stroke-width="0.8"/>
<line x1="273.90" y1="464.67" x2="273.90" y2="455.99" stroke="#6fb1e3" stroke-width="0.7" />
<line x1="272.60" y1="455.99" x2="275.20" y2="455.99" stroke="#6fb1e3" stroke-width="0.7" />
<line x1="272.60" y1="464.67" x2="275.20" y2="464.67" stroke="#6fb1e3" stroke-width="0.7" />
<circle cx="273.90" cy="460.33" r="1.7" fill="#cfe6f7" stroke="#6fb1e3" stroke-width="0.8"/>
<line x1="284.60" y1="466.11" x2="284.60" y2="457.44" stroke="#6fb1e3" stroke-width="0.7" />
<line x1="283.30" y1="457.44" x2="285.90" y2="457.44" stroke="#6fb1e3" stroke-width="0.7" />
<line x1="283.30" y1="466.11" x2="285.90" y2="466.11" stroke="#6fb1e3" stroke-width="0.7" />
<circle cx="284.60" cy="461.78" r="1.7" fill="#cfe6f7" stroke="#6fb1e3" stroke-width="0.8"/>
<polyline points="239.60,437.68 251.00,438.64 262.60,444.42 273.90,443.46 284.60,441.53" fill="none" stroke="#1f4275" stroke-width="0.85"/>
<line x1="239.60" y1="438.64" x2="239.60" y2="436.71" stroke="#1f4275" stroke-width="0.7" />
<line x1="238.30" y1="436.71" x2="240.90" y2="436.71" stroke="#1f4275" stroke-width="0.7" />
<line x1="238.30" y1="438.64" x2="240.90" y2="438.64" stroke="#1f4275" stroke-width="0.7" />
<circle cx="239.60" cy="437.68" r="1.8" fill="#1a4a88" stroke="#12386a" stroke-width="0.4"/>
<line x1="251.00" y1="440.09" x2="251.00" y2="437.19" stroke="#1f4275" stroke-width="0.7" />
<line x1="249.70" y1="437.19" x2="252.30" y2="437.19" stroke="#1f4275" stroke-width="0.7" />
<line x1="249.70" y1="440.09" x2="252.30" y2="440.09" stroke="#1f4275" stroke-width="0.7" />
<circle cx="251.00" cy="438.64" r="1.8" fill="#1a4a88" stroke="#12386a" stroke-width="0.4"/>
<line x1="262.60" y1="446.83" x2="262.60" y2="442.01" stroke="#1f4275" stroke-width="0.7" />
<line x1="261.30" y1="442.01" x2="263.90" y2="442.01" stroke="#1f4275" stroke-width="0.7" />
<line x1="261.30" y1="446.83" x2="263.90" y2="446.83" stroke="#1f4275" stroke-width="0.7" />
<circle cx="262.60" cy="444.42" r="1.8" fill="#1a4a88" stroke="#12386a" stroke-width="0.4"/>
<line x1="273.90" y1="446.83" x2="273.90" y2="440.09" stroke="#1f4275" stroke-width="0.7" />
<line x1="272.60" y1="440.09" x2="275.20" y2="440.09" stroke="#1f4275" stroke-width="0.7" />
<line x1="272.60" y1="446.83" x2="275.20" y2="446.83" stroke="#1f4275" stroke-width="0.7" />
<circle cx="273.90" cy="443.46" r="1.8" fill="#1a4a88" stroke="#12386a" stroke-width="0.4"/>
<line x1="284.60" y1="444.42" x2="284.60" y2="438.64" stroke="#1f4275" stroke-width="0.7" />
<line x1="283.30" y1="438.64" x2="285.90" y2="438.64" stroke="#1f4275" stroke-width="0.7" />
<line x1="283.30" y1="444.42" x2="285.90" y2="444.42" stroke="#1f4275" stroke-width="0.7" />
<circle cx="284.60" cy="441.53" r="1.8" fill="#1a4a88" stroke="#12386a" stroke-width="0.4"/>
<rect x="235.55" y="430.85" width="1.5" height="1.5" fill="#333"/>
<rect x="237.75" y="430.85" width="1.5" height="1.5" fill="#333"/>
<rect x="239.95" y="430.85" width="1.5" height="1.5" fill="#333"/>
<rect x="242.15" y="430.85" width="1.5" height="1.5" fill="#333"/>
<rect x="248.05" y="432.45" width="1.5" height="1.5" fill="#333"/>
<rect x="250.25" y="432.45" width="1.5" height="1.5" fill="#333"/>
<rect x="252.45" y="432.45" width="1.5" height="1.5" fill="#333"/>
<rect x="261.85" y="435.65" width="1.5" height="1.5" fill="#333"/>
<rect x="273.15" y="434.85" width="1.5" height="1.5" fill="#333"/>
<rect x="282.75" y="432.65" width="1.5" height="1.5" fill="#333"/>
<rect x="284.95" y="432.65" width="1.5" height="1.5" fill="#333"/>
<text x="355.20" y="421.80" font-size="6.35" fill="#222" stroke="#222" text-anchor="middle" textLength="16.90" lengthAdjust="spacingAndGlyphs" >CD61</text>
<line x1="325.50" y1="427.50" x2="325.50" y2="477.20" stroke="#222" stroke-width="1.0" />
<line x1="325.50" y1="477.20" x2="385.20" y2="477.20" stroke="#222" stroke-width="1.0" />
<line x1="322.50" y1="477.20" x2="325.50" y2="477.20" stroke="#222" stroke-width="0.9" />
<text x="318.90" y="479.45" font-size="6.3" fill="#222" stroke="#222" text-anchor="end" >0</text>
<line x1="322.50" y1="467.56" x2="325.50" y2="467.56" stroke="#222" stroke-width="0.9" />
<text x="318.90" y="469.81" font-size="6.3" fill="#222" stroke="#222" text-anchor="end" >20</text>
<line x1="322.50" y1="457.92" x2="325.50" y2="457.92" stroke="#222" stroke-width="0.9" />
<text x="318.90" y="460.17" font-size="6.3" fill="#222" stroke="#222" text-anchor="end" >40</text>
<line x1="322.50" y1="448.28" x2="325.50" y2="448.28" stroke="#222" stroke-width="0.9" />
<text x="318.90" y="450.53" font-size="6.3" fill="#222" stroke="#222" text-anchor="end" >60</text>
<line x1="322.50" y1="438.64" x2="325.50" y2="438.64" stroke="#222" stroke-width="0.9" />
<text x="318.90" y="440.89" font-size="6.3" fill="#222" stroke="#222" text-anchor="end" >80</text>
<line x1="322.50" y1="429.00" x2="325.50" y2="429.00" stroke="#222" stroke-width="0.9" />
<text x="318.90" y="431.25" font-size="6.3" fill="#222" stroke="#222" text-anchor="end" >100</text>
<line x1="333.40" y1="477.20" x2="333.40" y2="480.00" stroke="#222" stroke-width="0.9" />
<line x1="344.60" y1="477.20" x2="344.60" y2="480.00" stroke="#222" stroke-width="0.9" />
<line x1="355.80" y1="477.20" x2="355.80" y2="480.00" stroke="#222" stroke-width="0.9" />
<line x1="367.20" y1="477.20" x2="367.20" y2="480.00" stroke="#222" stroke-width="0.9" />
<line x1="378.40" y1="477.20" x2="378.40" y2="480.00" stroke="#222" stroke-width="0.9" />
<text x="333.40" y="488.80" font-size="6.3" fill="#222" stroke="#222" text-anchor="middle" >6</text>
<text x="344.60" y="488.80" font-size="6.3" fill="#222" stroke="#222" text-anchor="middle" >12</text>
<text x="355.80" y="488.80" font-size="6.3" fill="#222" stroke="#222" text-anchor="middle" >18</text>
<text x="367.20" y="488.80" font-size="6.3" fill="#222" stroke="#222" text-anchor="middle" >24</text>
<text x="378.40" y="488.80" font-size="6.3" fill="#222" stroke="#222" text-anchor="middle" >30</text>
<polyline points="333.40,464.67 344.60,463.70 355.80,462.74 367.20,461.29 378.40,460.81" fill="none" stroke="#6fb1e3" stroke-width="0.8" stroke-dasharray="1.2,1"/>
<line x1="333.40" y1="469.01" x2="333.40" y2="460.33" stroke="#6fb1e3" stroke-width="0.7" />
<line x1="332.10" y1="460.33" x2="334.70" y2="460.33" stroke="#6fb1e3" stroke-width="0.7" />
<line x1="332.10" y1="469.01" x2="334.70" y2="469.01" stroke="#6fb1e3" stroke-width="0.7" />
<circle cx="333.40" cy="464.67" r="1.7" fill="#cfe6f7" stroke="#6fb1e3" stroke-width="0.8"/>
<line x1="344.60" y1="468.04" x2="344.60" y2="459.37" stroke="#6fb1e3" stroke-width="0.7" />
<line x1="343.30" y1="459.37" x2="345.90" y2="459.37" stroke="#6fb1e3" stroke-width="0.7" />
<line x1="343.30" y1="468.04" x2="345.90" y2="468.04" stroke="#6fb1e3" stroke-width="0.7" />
<circle cx="344.60" cy="463.70" r="1.7" fill="#cfe6f7" stroke="#6fb1e3" stroke-width="0.8"/>
<line x1="355.80" y1="467.08" x2="355.80" y2="458.40" stroke="#6fb1e3" stroke-width="0.7" />
<line x1="354.50" y1="458.40" x2="357.10" y2="458.40" stroke="#6fb1e3" stroke-width="0.7" />
<line x1="354.50" y1="467.08" x2="357.10" y2="467.08" stroke="#6fb1e3" stroke-width="0.7" />
<circle cx="355.80" cy="462.74" r="1.7" fill="#cfe6f7" stroke="#6fb1e3" stroke-width="0.8"/>
<line x1="367.20" y1="465.63" x2="367.20" y2="456.96" stroke="#6fb1e3" stroke-width="0.7" />
<line x1="365.90" y1="456.96" x2="368.50" y2="456.96" stroke="#6fb1e3" stroke-width="0.7" />
<line x1="365.90" y1="465.63" x2="368.50" y2="465.63" stroke="#6fb1e3" stroke-width="0.7" />
<circle cx="367.20" cy="461.29" r="1.7" fill="#cfe6f7" stroke="#6fb1e3" stroke-width="0.8"/>
<line x1="378.40" y1="465.15" x2="378.40" y2="456.47" stroke="#6fb1e3" stroke-width="0.7" />
<line x1="377.10" y1="456.47" x2="379.70" y2="456.47" stroke="#6fb1e3" stroke-width="0.7" />
<line x1="377.10" y1="465.15" x2="379.70" y2="465.15" stroke="#6fb1e3" stroke-width="0.7" />
<circle cx="378.40" cy="460.81" r="1.7" fill="#cfe6f7" stroke="#6fb1e3" stroke-width="0.8"/>
<polyline points="333.40,452.14 344.60,450.69 355.80,449.24 367.20,445.87 378.40,444.42" fill="none" stroke="#1f4275" stroke-width="0.85"/>
<line x1="333.40" y1="455.99" x2="333.40" y2="448.28" stroke="#1f4275" stroke-width="0.7" />
<line x1="332.10" y1="448.28" x2="334.70" y2="448.28" stroke="#1f4275" stroke-width="0.7" />
<line x1="332.10" y1="455.99" x2="334.70" y2="455.99" stroke="#1f4275" stroke-width="0.7" />
<circle cx="333.40" cy="452.14" r="1.8" fill="#1a4a88" stroke="#12386a" stroke-width="0.4"/>
<line x1="344.60" y1="454.55" x2="344.60" y2="446.83" stroke="#1f4275" stroke-width="0.7" />
<line x1="343.30" y1="446.83" x2="345.90" y2="446.83" stroke="#1f4275" stroke-width="0.7" />
<line x1="343.30" y1="454.55" x2="345.90" y2="454.55" stroke="#1f4275" stroke-width="0.7" />
<circle cx="344.60" cy="450.69" r="1.8" fill="#1a4a88" stroke="#12386a" stroke-width="0.4"/>
<line x1="355.80" y1="453.10" x2="355.80" y2="445.39" stroke="#1f4275" stroke-width="0.7" />
<line x1="354.50" y1="445.39" x2="357.10" y2="445.39" stroke="#1f4275" stroke-width="0.7" />
<line x1="354.50" y1="453.10" x2="357.10" y2="453.10" stroke="#1f4275" stroke-width="0.7" />
<circle cx="355.80" cy="449.24" r="1.8" fill="#1a4a88" stroke="#12386a" stroke-width="0.4"/>
<line x1="367.20" y1="449.73" x2="367.20" y2="442.01" stroke="#1f4275" stroke-width="0.7" />
<line x1="365.90" y1="442.01" x2="368.50" y2="442.01" stroke="#1f4275" stroke-width="0.7" />
<line x1="365.90" y1="449.73" x2="368.50" y2="449.73" stroke="#1f4275" stroke-width="0.7" />
<circle cx="367.20" cy="445.87" r="1.8" fill="#1a4a88" stroke="#12386a" stroke-width="0.4"/>
<line x1="378.40" y1="448.28" x2="378.40" y2="440.57" stroke="#1f4275" stroke-width="0.7" />
<line x1="377.10" y1="440.57" x2="379.70" y2="440.57" stroke="#1f4275" stroke-width="0.7" />
<line x1="377.10" y1="448.28" x2="379.70" y2="448.28" stroke="#1f4275" stroke-width="0.7" />
<circle cx="378.40" cy="444.42" r="1.8" fill="#1a4a88" stroke="#12386a" stroke-width="0.4"/>
<rect x="332.65" y="432.05" width="1.5" height="1.5" fill="#333"/>
<rect x="343.85" y="432.05" width="1.5" height="1.5" fill="#333"/>
<rect x="355.05" y="432.05" width="1.5" height="1.5" fill="#333"/>
<rect x="366.45" y="432.05" width="1.5" height="1.5" fill="#333"/>
<rect x="377.65" y="432.05" width="1.5" height="1.5" fill="#333"/>
<text x="449.00" y="421.00" font-size="6.35" fill="#222" stroke="#222" text-anchor="middle" textLength="12.70" lengthAdjust="spacingAndGlyphs" >Gr-1</text>
<line x1="418.50" y1="427.30" x2="418.50" y2="477.30" stroke="#222" stroke-width="1.0" />
<line x1="418.50" y1="477.30" x2="478.50" y2="477.30" stroke="#222" stroke-width="1.0" />
<line x1="415.50" y1="477.30" x2="418.50" y2="477.30" stroke="#222" stroke-width="0.9" />
<text x="411.90" y="479.55" font-size="6.3" fill="#222" stroke="#222" text-anchor="end" >0</text>
<line x1="415.50" y1="467.60" x2="418.50" y2="467.60" stroke="#222" stroke-width="0.9" />
<text x="411.90" y="469.85" font-size="6.3" fill="#222" stroke="#222" text-anchor="end" >20</text>
<line x1="415.50" y1="457.90" x2="418.50" y2="457.90" stroke="#222" stroke-width="0.9" />
<text x="411.90" y="460.15" font-size="6.3" fill="#222" stroke="#222" text-anchor="end" >40</text>
<line x1="415.50" y1="448.20" x2="418.50" y2="448.20" stroke="#222" stroke-width="0.9" />
<text x="411.90" y="450.45" font-size="6.3" fill="#222" stroke="#222" text-anchor="end" >60</text>
<line x1="415.50" y1="438.50" x2="418.50" y2="438.50" stroke="#222" stroke-width="0.9" />
<text x="411.90" y="440.75" font-size="6.3" fill="#222" stroke="#222" text-anchor="end" >80</text>
<line x1="415.50" y1="428.80" x2="418.50" y2="428.80" stroke="#222" stroke-width="0.9" />
<text x="411.90" y="431.05" font-size="6.3" fill="#222" stroke="#222" text-anchor="end" >100</text>
<line x1="427.00" y1="477.30" x2="427.00" y2="480.10" stroke="#222" stroke-width="0.9" />
<line x1="438.20" y1="477.30" x2="438.20" y2="480.10" stroke="#222" stroke-width="0.9" />
<line x1="449.60" y1="477.30" x2="449.60" y2="480.10" stroke="#222" stroke-width="0.9" />
<line x1="460.80" y1="477.30" x2="460.80" y2="480.10" stroke="#222" stroke-width="0.9" />
<line x1="472.20" y1="477.30" x2="472.20" y2="480.10" stroke="#222" stroke-width="0.9" />
<text x="427.00" y="488.80" font-size="6.3" fill="#222" stroke="#222" text-anchor="middle" >6</text>
<text x="438.20" y="488.80" font-size="6.3" fill="#222" stroke="#222" text-anchor="middle" >12</text>
<text x="449.60" y="488.80" font-size="6.3" fill="#222" stroke="#222" text-anchor="middle" >18</text>
<text x="460.80" y="488.80" font-size="6.3" fill="#222" stroke="#222" text-anchor="middle" >24</text>
<text x="472.20" y="488.80" font-size="6.3" fill="#222" stroke="#222" text-anchor="middle" >30</text>
<polyline points="427.00,463.24 438.20,470.51 449.60,461.78 460.80,460.81 472.20,462.26" fill="none" stroke="#6fb1e3" stroke-width="0.8" stroke-dasharray="1.2,1"/>
<line x1="427.00" y1="466.63" x2="427.00" y2="459.84" stroke="#6fb1e3" stroke-width="0.7" />
<line x1="425.70" y1="459.84" x2="428.30" y2="459.84" stroke="#6fb1e3" stroke-width="0.7" />
<line x1="425.70" y1="466.63" x2="428.30" y2="466.63" stroke="#6fb1e3" stroke-width="0.7" />
<circle cx="427.00" cy="463.24" r="1.7" fill="#cfe6f7" stroke="#6fb1e3" stroke-width="0.8"/>
<line x1="438.20" y1="471.97" x2="438.20" y2="469.06" stroke="#6fb1e3" stroke-width="0.7" />
<line x1="436.90" y1="469.06" x2="439.50" y2="469.06" stroke="#6fb1e3" stroke-width="0.7" />
<line x1="436.90" y1="471.97" x2="439.50" y2="471.97" stroke="#6fb1e3" stroke-width="0.7" />
<circle cx="438.20" cy="470.51" r="1.7" fill="#cfe6f7" stroke="#6fb1e3" stroke-width="0.8"/>
<line x1="449.60" y1="466.14" x2="449.60" y2="457.42" stroke="#6fb1e3" stroke-width="0.7" />
<line x1="448.30" y1="457.42" x2="450.90" y2="457.42" stroke="#6fb1e3" stroke-width="0.7" />
<line x1="448.30" y1="466.14" x2="450.90" y2="466.14" stroke="#6fb1e3" stroke-width="0.7" />
<circle cx="449.60" cy="461.78" r="1.7" fill="#cfe6f7" stroke="#6fb1e3" stroke-width="0.8"/>
<line x1="460.80" y1="465.66" x2="460.80" y2="455.96" stroke="#6fb1e3" stroke-width="0.7" />
<line x1="459.50" y1="455.96" x2="462.10" y2="455.96" stroke="#6fb1e3" stroke-width="0.7" />
<line x1="459.50" y1="465.66" x2="462.10" y2="465.66" stroke="#6fb1e3" stroke-width="0.7" />
<circle cx="460.80" cy="460.81" r="1.7" fill="#cfe6f7" stroke="#6fb1e3" stroke-width="0.8"/>
<line x1="472.20" y1="467.12" x2="472.20" y2="457.42" stroke="#6fb1e3" stroke-width="0.7" />
<line x1="470.90" y1="457.42" x2="473.50" y2="457.42" stroke="#6fb1e3" stroke-width="0.7" />
<line x1="470.90" y1="467.12" x2="473.50" y2="467.12" stroke="#6fb1e3" stroke-width="0.7" />
<circle cx="472.20" cy="462.26" r="1.7" fill="#cfe6f7" stroke="#6fb1e3" stroke-width="0.8"/>
<polyline points="427.00,445.78 438.20,458.87 449.60,445.29 460.80,441.89 472.20,443.35" fill="none" stroke="#1f4275" stroke-width="0.85"/>
<line x1="427.00" y1="446.75" x2="427.00" y2="444.81" stroke="#1f4275" stroke-width="0.7" />
<line x1="425.70" y1="444.81" x2="428.30" y2="444.81" stroke="#1f4275" stroke-width="0.7" />
<line x1="425.70" y1="446.75" x2="428.30" y2="446.75" stroke="#1f4275" stroke-width="0.7" />
<circle cx="427.00" cy="445.78" r="1.8" fill="#1a4a88" stroke="#12386a" stroke-width="0.4"/>
<line x1="438.20" y1="460.32" x2="438.20" y2="457.42" stroke="#1f4275" stroke-width="0.7" />
<line x1="436.90" y1="457.42" x2="439.50" y2="457.42" stroke="#1f4275" stroke-width="0.7" />
<line x1="436.90" y1="460.32" x2="439.50" y2="460.32" stroke="#1f4275" stroke-width="0.7" />
<circle cx="438.20" cy="458.87" r="1.8" fill="#1a4a88" stroke="#12386a" stroke-width="0.4"/>
<line x1="449.60" y1="448.69" x2="449.60" y2="441.89" stroke="#1f4275" stroke-width="0.7" />
<line x1="448.30" y1="441.89" x2="450.90" y2="441.89" stroke="#1f4275" stroke-width="0.7" />
<line x1="448.30" y1="448.69" x2="450.90" y2="448.69" stroke="#1f4275" stroke-width="0.7" />
<circle cx="449.60" cy="445.29" r="1.8" fill="#1a4a88" stroke="#12386a" stroke-width="0.4"/>
<line x1="460.80" y1="445.29" x2="460.80" y2="438.50" stroke="#1f4275" stroke-width="0.7" />
<line x1="459.50" y1="438.50" x2="462.10" y2="438.50" stroke="#1f4275" stroke-width="0.7" />
<line x1="459.50" y1="445.29" x2="462.10" y2="445.29" stroke="#1f4275" stroke-width="0.7" />
<circle cx="460.80" cy="441.89" r="1.8" fill="#1a4a88" stroke="#12386a" stroke-width="0.4"/>
<line x1="472.20" y1="446.75" x2="472.20" y2="439.96" stroke="#1f4275" stroke-width="0.7" />
<line x1="470.90" y1="439.96" x2="473.50" y2="439.96" stroke="#1f4275" stroke-width="0.7" />
<line x1="470.90" y1="446.75" x2="473.50" y2="446.75" stroke="#1f4275" stroke-width="0.7" />
<circle cx="472.20" cy="443.35" r="1.8" fill="#1a4a88" stroke="#12386a" stroke-width="0.4"/>
<rect x="424.05" y="436.75" width="1.5" height="1.5" fill="#333"/>
<rect x="426.25" y="436.75" width="1.5" height="1.5" fill="#333"/>
<rect x="428.45" y="436.75" width="1.5" height="1.5" fill="#333"/>
<rect x="435.25" y="445.25" width="1.5" height="1.5" fill="#333"/>
<rect x="437.45" y="445.25" width="1.5" height="1.5" fill="#333"/>
<rect x="439.65" y="445.25" width="1.5" height="1.5" fill="#333"/>
<rect x="447.75" y="434.25" width="1.5" height="1.5" fill="#333"/>
<rect x="449.95" y="434.25" width="1.5" height="1.5" fill="#333"/>
<rect x="458.95" y="434.25" width="1.5" height="1.5" fill="#333"/>
<rect x="461.15" y="434.25" width="1.5" height="1.5" fill="#333"/>
<rect x="470.35" y="434.25" width="1.5" height="1.5" fill="#333"/>
<rect x="472.55" y="434.25" width="1.5" height="1.5" fill="#333"/>
<text x="480.6" y="445.0" font-size="6.7" textLength="25.6" lengthAdjust="spacingAndGlyphs"><tspan fill="#3e5f98" font-style="italic">VF</tspan><tspan fill="#3e5f98">; </tspan><tspan fill="#5cb85c">GFP</tspan></text>
<text x="480.60" y="465.60" font-size="6.7" textLength="32.30" lengthAdjust="spacingAndGlyphs"><tspan fill="#3e5f98" font-style="italic">VF</tspan><tspan fill="#3e5f98">;</tspan><tspan fill="#d4466e" font-style="italic">IL-1β</tspan><tspan fill="#d4466e" font-style="italic"><tspan font-size="4.02" dy="-2.68">−/−</tspan></tspan><tspan fill="#5cb85c" dy="2.68">;</tspan></text>
<text x="480.60" y="473.80" font-size="6.7" fill="#5cb85c" stroke="#5cb85c" font-style="italic" textLength="14.30" lengthAdjust="spacingAndGlyphs" >GFP</text>
<text x="56.30" y="507.00" font-size="6.35" fill="#222" stroke="#222" textLength="183.20" lengthAdjust="spacingAndGlyphs" >GFP chimerism in HSCs and HSPCs in bone marrow and spleen</text>
<text x="104.50" y="517.50" font-size="6.35" fill="#222" stroke="#222" textLength="37.00" lengthAdjust="spacingAndGlyphs" >Bone marrow</text>
<text x="0" y="0" font-size="8.6" fill="#222" text-anchor="middle" font-weight="bold" transform="translate(25.80,543.80) rotate(-90) scale(0.6713,1)">%GFP</text>
<line x1="49.00" y1="523.00" x2="49.00" y2="566.30" stroke="#222" stroke-width="1.0" />
<line x1="46.00" y1="566.30" x2="49.00" y2="566.30" stroke="#222" stroke-width="0.9" />
<text x="42.60" y="568.55" font-size="6.35" fill="#222" stroke="#222" text-anchor="end" >0</text>
<line x1="46.00" y1="557.94" x2="49.00" y2="557.94" stroke="#222" stroke-width="0.9" />
<text x="42.60" y="560.19" font-size="6.35" fill="#222" stroke="#222" text-anchor="end" >20</text>
<line x1="46.00" y1="549.58" x2="49.00" y2="549.58" stroke="#222" stroke-width="0.9" />
<text x="42.60" y="551.83" font-size="6.35" fill="#222" stroke="#222" text-anchor="end" >40</text>
<line x1="46.00" y1="541.22" x2="49.00" y2="541.22" stroke="#222" stroke-width="0.9" />
<text x="42.60" y="543.47" font-size="6.35" fill="#222" stroke="#222" text-anchor="end" >60</text>
<line x1="46.00" y1="532.86" x2="49.00" y2="532.86" stroke="#222" stroke-width="0.9" />
<text x="42.60" y="535.11" font-size="6.35" fill="#222" stroke="#222" text-anchor="end" >80</text>
<line x1="46.00" y1="524.50" x2="49.00" y2="524.50" stroke="#222" stroke-width="0.9" />
<text x="42.60" y="526.75" font-size="6.35" fill="#222" stroke="#222" text-anchor="end" >100</text>
<line x1="54.30" y1="543.31" x2="54.30" y2="539.97" stroke="#1a4a88" stroke-width="0.8" />
<line x1="53.10" y1="539.97" x2="55.50" y2="539.97" stroke="#1a4a88" stroke-width="0.8" />
<rect x="51.80" y="543.31" width="5.00" height="22.99" fill="#1a4a88" stroke="#12386a" stroke-width="0.4" />
<rect x="59.60" y="552.09" width="4.40" height="14.21" fill="#ffffff" stroke="#6fb1e3" stroke-width="0.7" />
<line x1="61.80" y1="555.85" x2="61.80" y2="548.33" stroke="#6fa8d8" stroke-width="0.7" />
<line x1="60.60" y1="548.33" x2="63.00" y2="548.33" stroke="#6fa8d8" stroke-width="0.7" />
<line x1="60.60" y1="555.85" x2="63.00" y2="555.85" stroke="#6fa8d8" stroke-width="0.7" />
<line x1="58.05" y1="566.30" x2="58.05" y2="568.60" stroke="#222" stroke-width="0.8" />
<text x="61.65" y="575.90" font-size="6.6" fill="#222" stroke="#222" text-anchor="end" textLength="24.00" lengthAdjust="spacingAndGlyphs" transform="rotate(-45 61.65 575.90)" >LT-HSC</text>
<line x1="74.30" y1="548.33" x2="74.30" y2="544.98" stroke="#1a4a88" stroke-width="0.8" />
<line x1="73.10" y1="544.98" x2="75.50" y2="544.98" stroke="#1a4a88" stroke-width="0.8" />
<rect x="71.80" y="548.33" width="5.00" height="17.97" fill="#1a4a88" stroke="#12386a" stroke-width="0.4" />
<rect x="79.60" y="555.43" width="4.40" height="10.87" fill="#ffffff" stroke="#6fb1e3" stroke-width="0.7" />
<line x1="81.80" y1="558.36" x2="81.80" y2="552.51" stroke="#6fa8d8" stroke-width="0.7" />
<line x1="80.60" y1="552.51" x2="83.00" y2="552.51" stroke="#6fa8d8" stroke-width="0.7" />
<line x1="80.60" y1="558.36" x2="83.00" y2="558.36" stroke="#6fa8d8" stroke-width="0.7" />
<line x1="78.05" y1="566.30" x2="78.05" y2="568.60" stroke="#222" stroke-width="0.8" />
<text x="81.65" y="575.90" font-size="6.6" fill="#222" stroke="#222" text-anchor="end" textLength="18.60" lengthAdjust="spacingAndGlyphs" transform="rotate(-45 81.65 575.90)" >MPP1</text>
<line x1="94.30" y1="534.53" x2="94.30" y2="532.02" stroke="#1a4a88" stroke-width="0.8" />
<line x1="93.10" y1="532.02" x2="95.50" y2="532.02" stroke="#1a4a88" stroke-width="0.8" />
<rect x="91.80" y="534.53" width="5.00" height="31.77" fill="#1a4a88" stroke="#12386a" stroke-width="0.4" />
<rect x="99.60" y="551.25" width="4.40" height="15.05" fill="#ffffff" stroke="#6fb1e3" stroke-width="0.7" />
<line x1="101.80" y1="555.01" x2="101.80" y2="547.49" stroke="#6fa8d8" stroke-width="0.7" />
<line x1="100.60" y1="547.49" x2="103.00" y2="547.49" stroke="#6fa8d8" stroke-width="0.7" />
<line x1="100.60" y1="555.01" x2="103.00" y2="555.01" stroke="#6fa8d8" stroke-width="0.7" />
<rect x="99.95" y="535.25" width="1.5" height="1.5" fill="#333"/>
<rect x="102.15" y="535.25" width="1.5" height="1.5" fill="#333"/>
<line x1="98.05" y1="566.30" x2="98.05" y2="568.60" stroke="#222" stroke-width="0.8" />
<text x="101.65" y="575.90" font-size="6.6" fill="#222" stroke="#222" text-anchor="end" textLength="18.60" lengthAdjust="spacingAndGlyphs" transform="rotate(-45 101.65 575.90)" >MPP2</text>
<line x1="114.30" y1="539.13" x2="114.30" y2="536.62" stroke="#1a4a88" stroke-width="0.8" />
<line x1="113.10" y1="536.62" x2="115.50" y2="536.62" stroke="#1a4a88" stroke-width="0.8" />
<rect x="111.80" y="539.13" width="5.00" height="27.17" fill="#1a4a88" stroke="#12386a" stroke-width="0.4" />
<rect x="119.60" y="553.76" width="4.40" height="12.54" fill="#ffffff" stroke="#6fb1e3" stroke-width="0.7" />
<line x1="121.80" y1="557.10" x2="121.80" y2="550.42" stroke="#6fa8d8" stroke-width="0.7" />
<line x1="120.60" y1="550.42" x2="123.00" y2="550.42" stroke="#6fa8d8" stroke-width="0.7" />
<line x1="120.60" y1="557.10" x2="123.00" y2="557.10" stroke="#6fa8d8" stroke-width="0.7" />
<rect x="121.05" y="535.25" width="1.5" height="1.5" fill="#333"/>
<line x1="118.05" y1="566.30" x2="118.05" y2="568.60" stroke="#222" stroke-width="0.8" />
<text x="121.65" y="575.90" font-size="6.6" fill="#222" stroke="#222" text-anchor="end" textLength="18.60" lengthAdjust="spacingAndGlyphs" transform="rotate(-45 121.65 575.90)" >MPP3</text>
<line x1="134.30" y1="533.70" x2="134.30" y2="532.02" stroke="#1a4a88" stroke-width="0.8" />
<line x1="133.10" y1="532.02" x2="135.50" y2="532.02" stroke="#1a4a88" stroke-width="0.8" />
<rect x="131.80" y="533.70" width="5.00" height="32.60" fill="#1a4a88" stroke="#12386a" stroke-width="0.4" />
<rect x="139.60" y="550.83" width="4.40" height="15.47" fill="#ffffff" stroke="#6fb1e3" stroke-width="0.7" />
<line x1="141.80" y1="554.60" x2="141.80" y2="547.07" stroke="#6fa8d8" stroke-width="0.7" />
<line x1="140.60" y1="547.07" x2="143.00" y2="547.07" stroke="#6fa8d8" stroke-width="0.7" />
<line x1="140.60" y1="554.60" x2="143.00" y2="554.60" stroke="#6fa8d8" stroke-width="0.7" />
<rect x="139.95" y="538.25" width="1.5" height="1.5" fill="#333"/>
<rect x="142.15" y="538.25" width="1.5" height="1.5" fill="#333"/>
<line x1="138.05" y1="566.30" x2="138.05" y2="568.60" stroke="#222" stroke-width="0.8" />
<text x="141.65" y="575.90" font-size="6.6" fill="#222" stroke="#222" text-anchor="end" textLength="15.80" lengthAdjust="spacingAndGlyphs" transform="rotate(-45 141.65 575.90)" >CMP</text>
<line x1="154.30" y1="544.56" x2="154.30" y2="541.64" stroke="#1a4a88" stroke-width="0.8" />
<line x1="153.10" y1="541.64" x2="155.50" y2="541.64" stroke="#1a4a88" stroke-width="0.8" />
<rect x="151.80" y="544.56" width="5.00" height="21.74" fill="#1a4a88" stroke="#12386a" stroke-width="0.4" />
<rect x="159.60" y="555.01" width="4.40" height="11.29" fill="#ffffff" stroke="#6fb1e3" stroke-width="0.7" />
<line x1="161.80" y1="557.94" x2="161.80" y2="552.09" stroke="#6fa8d8" stroke-width="0.7" />
<line x1="160.60" y1="552.09" x2="163.00" y2="552.09" stroke="#6fa8d8" stroke-width="0.7" />
<line x1="160.60" y1="557.94" x2="163.00" y2="557.94" stroke="#6fa8d8" stroke-width="0.7" />
<line x1="158.05" y1="566.30" x2="158.05" y2="568.60" stroke="#222" stroke-width="0.8" />
<text x="161.65" y="575.90" font-size="6.6" fill="#222" stroke="#222" text-anchor="end" textLength="15.80" lengthAdjust="spacingAndGlyphs" transform="rotate(-45 161.65 575.90)" >GMP</text>
<line x1="174.30" y1="535.79" x2="174.30" y2="533.28" stroke="#1a4a88" stroke-width="0.8" />
<line x1="173.10" y1="533.28" x2="175.50" y2="533.28" stroke="#1a4a88" stroke-width="0.8" />
<rect x="171.80" y="535.79" width="5.00" height="30.51" fill="#1a4a88" stroke="#12386a" stroke-width="0.4" />
<rect x="179.60" y="551.25" width="4.40" height="15.05" fill="#ffffff" stroke="#6fb1e3" stroke-width="0.7" />
<line x1="181.80" y1="554.60" x2="181.80" y2="547.91" stroke="#6fa8d8" stroke-width="0.7" />
<line x1="180.60" y1="547.91" x2="183.00" y2="547.91" stroke="#6fa8d8" stroke-width="0.7" />
<line x1="180.60" y1="554.60" x2="183.00" y2="554.60" stroke="#6fa8d8" stroke-width="0.7" />
<rect x="181.05" y="537.95" width="1.5" height="1.5" fill="#333"/>
<line x1="178.05" y1="566.30" x2="178.05" y2="568.60" stroke="#222" stroke-width="0.8" />
<text x="181.65" y="575.90" font-size="6.6" fill="#222" stroke="#222" text-anchor="end" textLength="15.20" lengthAdjust="spacingAndGlyphs" transform="rotate(-45 181.65 575.90)" >MEP</text>
<line x1="194.30" y1="534.53" x2="194.30" y2="532.02" stroke="#1a4a88" stroke-width="0.8" />
<line x1="193.10" y1="532.02" x2="195.50" y2="532.02" stroke="#1a4a88" stroke-width="0.8" />
<rect x="191.80" y="534.53" width="5.00" height="31.77" fill="#1a4a88" stroke="#12386a" stroke-width="0.4" />
<rect x="199.60" y="550.00" width="4.40" height="16.30" fill="#ffffff" stroke="#6fb1e3" stroke-width="0.7" />
<line x1="201.80" y1="553.76" x2="201.80" y2="546.24" stroke="#6fa8d8" stroke-width="0.7" />
<line x1="200.60" y1="546.24" x2="203.00" y2="546.24" stroke="#6fa8d8" stroke-width="0.7" />
<line x1="200.60" y1="553.76" x2="203.00" y2="553.76" stroke="#6fa8d8" stroke-width="0.7" />
<rect x="201.05" y="537.95" width="1.5" height="1.5" fill="#333"/>
<line x1="198.05" y1="566.30" x2="198.05" y2="568.60" stroke="#222" stroke-width="0.8" />
<text x="201.65" y="575.90" font-size="6.6" fill="#222" stroke="#222" text-anchor="end" textLength="28.50" lengthAdjust="spacingAndGlyphs" transform="rotate(-45 201.65 575.90)" >Pre-MegE</text>
<line x1="214.30" y1="539.97" x2="214.30" y2="537.46" stroke="#1a4a88" stroke-width="0.8" />
<line x1="213.10" y1="537.46" x2="215.50" y2="537.46" stroke="#1a4a88" stroke-width="0.8" />
<rect x="211.80" y="539.97" width="5.00" height="26.33" fill="#1a4a88" stroke="#12386a" stroke-width="0.4" />
<rect x="219.60" y="553.34" width="4.40" height="12.96" fill="#ffffff" stroke="#6fb1e3" stroke-width="0.7" />
<line x1="221.80" y1="556.69" x2="221.80" y2="550.00" stroke="#6fa8d8" stroke-width="0.7" />
<line x1="220.60" y1="550.00" x2="223.00" y2="550.00" stroke="#6fa8d8" stroke-width="0.7" />
<line x1="220.60" y1="556.69" x2="223.00" y2="556.69" stroke="#6fa8d8" stroke-width="0.7" />
<rect x="221.05" y="537.95" width="1.5" height="1.5" fill="#333"/>
<line x1="218.05" y1="566.30" x2="218.05" y2="568.60" stroke="#222" stroke-width="0.8" />
<text x="221.65" y="575.90" font-size="6.6" fill="#222" stroke="#222" text-anchor="end" textLength="12.60" lengthAdjust="spacingAndGlyphs" transform="rotate(-45 221.65 575.90)" >MkP</text>
<line x1="234.30" y1="534.95" x2="234.30" y2="532.44" stroke="#1a4a88" stroke-width="0.8" />
<line x1="233.10" y1="532.44" x2="235.50" y2="532.44" stroke="#1a4a88" stroke-width="0.8" />
<rect x="231.80" y="534.95" width="5.00" height="31.35" fill="#1a4a88" stroke="#12386a" stroke-width="0.4" />
<rect x="239.60" y="550.83" width="4.40" height="15.47" fill="#ffffff" stroke="#6fb1e3" stroke-width="0.7" />
<line x1="241.80" y1="554.60" x2="241.80" y2="547.07" stroke="#6fa8d8" stroke-width="0.7" />
<line x1="240.60" y1="547.07" x2="243.00" y2="547.07" stroke="#6fa8d8" stroke-width="0.7" />
<line x1="240.60" y1="554.60" x2="243.00" y2="554.60" stroke="#6fa8d8" stroke-width="0.7" />
<rect x="241.05" y="537.95" width="1.5" height="1.5" fill="#333"/>
<line x1="238.05" y1="566.30" x2="238.05" y2="568.60" stroke="#222" stroke-width="0.8" />
<text x="241.65" y="575.90" font-size="6.6" fill="#222" stroke="#222" text-anchor="end" textLength="19.00" lengthAdjust="spacingAndGlyphs" transform="rotate(-45 241.65 575.90)" >CFU-E</text>
<line x1="49.00" y1="566.30" x2="245.00" y2="566.30" stroke="#222" stroke-width="1.0" />
<text x="0" y="0" font-size="8.2" fill="#222" text-anchor="middle" font-weight="bold" transform="translate(271.00,544.80) rotate(-90) scale(0.6460,1)">%GFP</text>
<text x="382.70" y="517.50" font-size="6.35" fill="#222" stroke="#222" textLength="20.30" lengthAdjust="spacingAndGlyphs" >Spleen</text>
<line x1="293.60" y1="523.00" x2="293.60" y2="566.30" stroke="#222" stroke-width="1.0" />
<line x1="290.60" y1="566.30" x2="293.60" y2="566.30" stroke="#222" stroke-width="0.9" />
<text x="287.20" y="568.55" font-size="6.35" fill="#222" stroke="#222" text-anchor="end" >0</text>
<line x1="290.60" y1="557.94" x2="293.60" y2="557.94" stroke="#222" stroke-width="0.9" />
<text x="287.20" y="560.19" font-size="6.35" fill="#222" stroke="#222" text-anchor="end" >20</text>
<line x1="290.60" y1="549.58" x2="293.60" y2="549.58" stroke="#222" stroke-width="0.9" />
<text x="287.20" y="551.83" font-size="6.35" fill="#222" stroke="#222" text-anchor="end" >40</text>
<line x1="290.60" y1="541.22" x2="293.60" y2="541.22" stroke="#222" stroke-width="0.9" />
<text x="287.20" y="543.47" font-size="6.35" fill="#222" stroke="#222" text-anchor="end" >60</text>
<line x1="290.60" y1="532.86" x2="293.60" y2="532.86" stroke="#222" stroke-width="0.9" />
<text x="287.20" y="535.11" font-size="6.35" fill="#222" stroke="#222" text-anchor="end" >80</text>
<line x1="290.60" y1="524.50" x2="293.60" y2="524.50" stroke="#222" stroke-width="0.9" />
<text x="287.20" y="526.75" font-size="6.35" fill="#222" stroke="#222" text-anchor="end" >100</text>
<line x1="298.80" y1="544.98" x2="298.80" y2="542.06" stroke="#1a4a88" stroke-width="0.8" />
<line x1="297.60" y1="542.06" x2="300.00" y2="542.06" stroke="#1a4a88" stroke-width="0.8" />
<rect x="296.30" y="544.98" width="5.00" height="21.32" fill="#1a4a88" stroke="#12386a" stroke-width="0.4" />
<rect x="304.10" y="553.34" width="4.40" height="12.96" fill="#ffffff" stroke="#6fb1e3" stroke-width="0.7" />
<line x1="306.30" y1="557.10" x2="306.30" y2="549.58" stroke="#6fa8d8" stroke-width="0.7" />
<line x1="305.10" y1="549.58" x2="307.50" y2="549.58" stroke="#6fa8d8" stroke-width="0.7" />
<line x1="305.10" y1="557.10" x2="307.50" y2="557.10" stroke="#6fa8d8" stroke-width="0.7" />
<line x1="302.55" y1="566.30" x2="302.55" y2="568.60" stroke="#222" stroke-width="0.8" />
<text x="306.15" y="575.90" font-size="6.6" fill="#222" stroke="#222" text-anchor="end" textLength="24.00" lengthAdjust="spacingAndGlyphs" transform="rotate(-45 306.15 575.90)" >LT-HSC</text>
<line x1="318.80" y1="544.98" x2="318.80" y2="541.64" stroke="#1a4a88" stroke-width="0.8" />
<line x1="317.60" y1="541.64" x2="320.00" y2="541.64" stroke="#1a4a88" stroke-width="0.8" />
<rect x="316.30" y="544.98" width="5.00" height="21.32" fill="#1a4a88" stroke="#12386a" stroke-width="0.4" />
<rect x="324.10" y="554.18" width="4.40" height="12.12" fill="#ffffff" stroke="#6fb1e3" stroke-width="0.7" />
<line x1="326.30" y1="557.94" x2="326.30" y2="550.42" stroke="#6fa8d8" stroke-width="0.7" />
<line x1="325.10" y1="550.42" x2="327.50" y2="550.42" stroke="#6fa8d8" stroke-width="0.7" />
<line x1="325.10" y1="557.94" x2="327.50" y2="557.94" stroke="#6fa8d8" stroke-width="0.7" />
<line x1="322.55" y1="566.30" x2="322.55" y2="568.60" stroke="#222" stroke-width="0.8" />
<text x="326.15" y="575.90" font-size="6.6" fill="#222" stroke="#222" text-anchor="end" textLength="18.60" lengthAdjust="spacingAndGlyphs" transform="rotate(-45 326.15 575.90)" >MPP1</text>
<line x1="338.80" y1="545.40" x2="338.80" y2="542.47" stroke="#1a4a88" stroke-width="0.8" />
<line x1="337.60" y1="542.47" x2="340.00" y2="542.47" stroke="#1a4a88" stroke-width="0.8" />
<rect x="336.30" y="545.40" width="5.00" height="20.90" fill="#1a4a88" stroke="#12386a" stroke-width="0.4" />
<rect x="344.10" y="554.18" width="4.40" height="12.12" fill="#ffffff" stroke="#6fb1e3" stroke-width="0.7" />
<line x1="346.30" y1="557.94" x2="346.30" y2="550.42" stroke="#6fa8d8" stroke-width="0.7" />
<line x1="345.10" y1="550.42" x2="347.50" y2="550.42" stroke="#6fa8d8" stroke-width="0.7" />
<line x1="345.10" y1="557.94" x2="347.50" y2="557.94" stroke="#6fa8d8" stroke-width="0.7" />
<line x1="342.55" y1="566.30" x2="342.55" y2="568.60" stroke="#222" stroke-width="0.8" />
<text x="346.15" y="575.90" font-size="6.6" fill="#222" stroke="#222" text-anchor="end" textLength="18.60" lengthAdjust="spacingAndGlyphs" transform="rotate(-45 346.15 575.90)" >MPP2</text>
<line x1="358.80" y1="542.47" x2="358.80" y2="539.13" stroke="#1a4a88" stroke-width="0.8" />
<line x1="357.60" y1="539.13" x2="360.00" y2="539.13" stroke="#1a4a88" stroke-width="0.8" />
<rect x="356.30" y="542.47" width="5.00" height="23.83" fill="#1a4a88" stroke="#12386a" stroke-width="0.4" />
<rect x="364.10" y="554.60" width="4.40" height="11.70" fill="#ffffff" stroke="#6fb1e3" stroke-width="0.7" />
<line x1="366.30" y1="558.36" x2="366.30" y2="550.83" stroke="#6fa8d8" stroke-width="0.7" />
<line x1="365.10" y1="550.83" x2="367.50" y2="550.83" stroke="#6fa8d8" stroke-width="0.7" />
<line x1="365.10" y1="558.36" x2="367.50" y2="558.36" stroke="#6fa8d8" stroke-width="0.7" />
<rect x="365.55" y="540.25" width="1.5" height="1.5" fill="#333"/>
<line x1="362.55" y1="566.30" x2="362.55" y2="568.60" stroke="#222" stroke-width="0.8" />
<text x="366.15" y="575.90" font-size="6.6" fill="#222" stroke="#222" text-anchor="end" textLength="18.60" lengthAdjust="spacingAndGlyphs" transform="rotate(-45 366.15 575.90)" >MPP3</text>
<line x1="378.80" y1="538.29" x2="378.80" y2="534.95" stroke="#1a4a88" stroke-width="0.8" />
<line x1="377.60" y1="534.95" x2="380.00" y2="534.95" stroke="#1a4a88" stroke-width="0.8" />
<rect x="376.30" y="538.29" width="5.00" height="28.01" fill="#1a4a88" stroke="#12386a" stroke-width="0.4" />
<rect x="384.10" y="552.92" width="4.40" height="13.38" fill="#ffffff" stroke="#6fb1e3" stroke-width="0.7" />
<line x1="386.30" y1="557.10" x2="386.30" y2="548.74" stroke="#6fa8d8" stroke-width="0.7" />
<line x1="385.10" y1="548.74" x2="387.50" y2="548.74" stroke="#6fa8d8" stroke-width="0.7" />
<line x1="385.10" y1="557.10" x2="387.50" y2="557.10" stroke="#6fa8d8" stroke-width="0.7" />
<rect x="385.55" y="540.05" width="1.5" height="1.5" fill="#333"/>
<line x1="382.55" y1="566.30" x2="382.55" y2="568.60" stroke="#222" stroke-width="0.8" />
<text x="386.15" y="575.90" font-size="6.6" fill="#222" stroke="#222" text-anchor="end" textLength="15.80" lengthAdjust="spacingAndGlyphs" transform="rotate(-45 386.15 575.90)" >CMP</text>
<line x1="398.80" y1="543.31" x2="398.80" y2="540.38" stroke="#1a4a88" stroke-width="0.8" />
<line x1="397.60" y1="540.38" x2="400.00" y2="540.38" stroke="#1a4a88" stroke-width="0.8" />
<rect x="396.30" y="543.31" width="5.00" height="22.99" fill="#1a4a88" stroke="#12386a" stroke-width="0.4" />
<rect x="404.10" y="554.60" width="4.40" height="11.70" fill="#ffffff" stroke="#6fb1e3" stroke-width="0.7" />
<line x1="406.30" y1="558.36" x2="406.30" y2="550.83" stroke="#6fa8d8" stroke-width="0.7" />
<line x1="405.10" y1="550.83" x2="407.50" y2="550.83" stroke="#6fa8d8" stroke-width="0.7" />
<line x1="405.10" y1="558.36" x2="407.50" y2="558.36" stroke="#6fa8d8" stroke-width="0.7" />
<rect x="405.55" y="540.05" width="1.5" height="1.5" fill="#333"/>
<line x1="402.55" y1="566.30" x2="402.55" y2="568.60" stroke="#222" stroke-width="0.8" />
<text x="406.15" y="575.90" font-size="6.6" fill="#222" stroke="#222" text-anchor="end" textLength="15.80" lengthAdjust="spacingAndGlyphs" transform="rotate(-45 406.15 575.90)" >GMP</text>
<line x1="418.80" y1="538.71" x2="418.80" y2="536.62" stroke="#1a4a88" stroke-width="0.8" />
<line x1="417.60" y1="536.62" x2="420.00" y2="536.62" stroke="#1a4a88" stroke-width="0.8" />
<rect x="416.30" y="538.71" width="5.00" height="27.59" fill="#1a4a88" stroke="#12386a" stroke-width="0.4" />
<rect x="424.10" y="552.51" width="4.40" height="13.79" fill="#ffffff" stroke="#6fb1e3" stroke-width="0.7" />
<line x1="426.30" y1="556.27" x2="426.30" y2="548.74" stroke="#6fa8d8" stroke-width="0.7" />
<line x1="425.10" y1="548.74" x2="427.50" y2="548.74" stroke="#6fa8d8" stroke-width="0.7" />
<line x1="425.10" y1="556.27" x2="427.50" y2="556.27" stroke="#6fa8d8" stroke-width="0.7" />
<rect x="425.55" y="540.05" width="1.5" height="1.5" fill="#333"/>
<line x1="422.55" y1="566.30" x2="422.55" y2="568.60" stroke="#222" stroke-width="0.8" />
<text x="426.15" y="575.90" font-size="6.6" fill="#222" stroke="#222" text-anchor="end" textLength="15.20" lengthAdjust="spacingAndGlyphs" transform="rotate(-45 426.15 575.90)" >MEP</text>
<line x1="438.80" y1="539.55" x2="438.80" y2="537.04" stroke="#1a4a88" stroke-width="0.8" />
<line x1="437.60" y1="537.04" x2="440.00" y2="537.04" stroke="#1a4a88" stroke-width="0.8" />
<rect x="436.30" y="539.55" width="5.00" height="26.75" fill="#1a4a88" stroke="#12386a" stroke-width="0.4" />
<rect x="444.10" y="554.18" width="4.40" height="12.12" fill="#ffffff" stroke="#6fb1e3" stroke-width="0.7" />
<line x1="446.30" y1="557.52" x2="446.30" y2="550.83" stroke="#6fa8d8" stroke-width="0.7" />
<line x1="445.10" y1="550.83" x2="447.50" y2="550.83" stroke="#6fa8d8" stroke-width="0.7" />
<line x1="445.10" y1="557.52" x2="447.50" y2="557.52" stroke="#6fa8d8" stroke-width="0.7" />
<rect x="445.55" y="540.05" width="1.5" height="1.5" fill="#333"/>
<line x1="442.55" y1="566.30" x2="442.55" y2="568.60" stroke="#222" stroke-width="0.8" />
<text x="446.15" y="575.90" font-size="6.6" fill="#222" stroke="#222" text-anchor="end" textLength="28.50" lengthAdjust="spacingAndGlyphs" transform="rotate(-45 446.15 575.90)" >Pre-MegE</text>
<line x1="458.80" y1="540.38" x2="458.80" y2="537.88" stroke="#1a4a88" stroke-width="0.8" />
<line x1="457.60" y1="537.88" x2="460.00" y2="537.88" stroke="#1a4a88" stroke-width="0.8" />
<rect x="456.30" y="540.38" width="5.00" height="25.92" fill="#1a4a88" stroke="#12386a" stroke-width="0.4" />
<rect x="464.10" y="552.51" width="4.40" height="13.79" fill="#ffffff" stroke="#6fb1e3" stroke-width="0.7" />
<line x1="466.30" y1="556.27" x2="466.30" y2="548.74" stroke="#6fa8d8" stroke-width="0.7" />
<line x1="465.10" y1="548.74" x2="467.50" y2="548.74" stroke="#6fa8d8" stroke-width="0.7" />
<line x1="465.10" y1="556.27" x2="467.50" y2="556.27" stroke="#6fa8d8" stroke-width="0.7" />
<rect x="465.55" y="540.05" width="1.5" height="1.5" fill="#333"/>
<line x1="462.55" y1="566.30" x2="462.55" y2="568.60" stroke="#222" stroke-width="0.8" />
<text x="466.15" y="575.90" font-size="6.6" fill="#222" stroke="#222" text-anchor="end" textLength="12.60" lengthAdjust="spacingAndGlyphs" transform="rotate(-45 466.15 575.90)" >MkP</text>
<line x1="478.80" y1="532.86" x2="478.80" y2="531.19" stroke="#1a4a88" stroke-width="0.8" />
<line x1="477.60" y1="531.19" x2="480.00" y2="531.19" stroke="#1a4a88" stroke-width="0.8" />
<rect x="476.30" y="532.86" width="5.00" height="33.44" fill="#1a4a88" stroke="#12386a" stroke-width="0.4" />
<rect x="484.10" y="550.83" width="4.40" height="15.47" fill="#ffffff" stroke="#6fb1e3" stroke-width="0.7" />
<line x1="486.30" y1="554.18" x2="486.30" y2="547.49" stroke="#6fa8d8" stroke-width="0.7" />
<line x1="485.10" y1="547.49" x2="487.50" y2="547.49" stroke="#6fa8d8" stroke-width="0.7" />
<line x1="485.10" y1="554.18" x2="487.50" y2="554.18" stroke="#6fa8d8" stroke-width="0.7" />
<rect x="484.45" y="540.05" width="1.5" height="1.5" fill="#333"/>
<rect x="486.65" y="540.05" width="1.5" height="1.5" fill="#333"/>
<line x1="482.55" y1="566.30" x2="482.55" y2="568.60" stroke="#222" stroke-width="0.8" />
<text x="486.15" y="575.90" font-size="6.6" fill="#222" stroke="#222" text-anchor="end" textLength="19.00" lengthAdjust="spacingAndGlyphs" transform="rotate(-45 486.15 575.90)" >CFU-E</text>
<line x1="293.60" y1="566.30" x2="491.00" y2="566.30" stroke="#222" stroke-width="1.0" />
<text x="26.00" y="611.00" font-size="6.35" fill="#222" stroke="#222" textLength="214.00" lengthAdjust="spacingAndGlyphs" >Estimate of functional hematopoietic stem cells from limiting dilution analysis</text>
<text x="64.50" y="621.20" font-size="6.35" fill="#222" stroke="#222" textLength="49.30" lengthAdjust="spacingAndGlyphs" >Gr-1 (&gt;1%) at 18w</text>
<text x="64.00" y="632.20" font-size="6.35" fill="#222" stroke="#222" text-anchor="middle" textLength="17.00" lengthAdjust="spacingAndGlyphs" >1:0 Tt</text>
<text x="123.70" y="632.20" font-size="6.35" fill="#222" stroke="#222" text-anchor="middle" textLength="17.50" lengthAdjust="spacingAndGlyphs" >1:1 Tx</text>
<text x="0" y="0" font-size="8.2" fill="#222" text-anchor="middle" font-weight="bold" transform="translate(25.80,664.80) rotate(-90) scale(0.6939,1)">Number of mice</text>
<line x1="46.30" y1="637.50" x2="46.30" y2="693.00" stroke="#222" stroke-width="1.0" />
<line x1="46.30" y1="693.00" x2="80.50" y2="693.00" stroke="#222" stroke-width="1.0" />
<line x1="42.80" y1="693.00" x2="46.30" y2="693.00" stroke="#222" stroke-width="1.0" />
<text x="40.00" y="695.30" font-size="6.35" fill="#222" stroke="#222" text-anchor="end" >0</text>
<line x1="42.80" y1="674.93" x2="46.30" y2="674.93" stroke="#222" stroke-width="1.0" />
<text x="40.00" y="677.23" font-size="6.35" fill="#222" stroke="#222" text-anchor="end" >6</text>
<line x1="42.80" y1="656.87" x2="46.30" y2="656.87" stroke="#222" stroke-width="1.0" />
<text x="40.00" y="659.17" font-size="6.35" fill="#222" stroke="#222" text-anchor="end" >12</text>
<line x1="42.80" y1="638.80" x2="46.30" y2="638.80" stroke="#222" stroke-width="1.0" />
<text x="40.00" y="641.10" font-size="6.35" fill="#222" stroke="#222" text-anchor="end" >18</text>
<line x1="105.50" y1="637.50" x2="105.50" y2="693.00" stroke="#222" stroke-width="1.0" />
<line x1="105.50" y1="693.00" x2="140.50" y2="693.00" stroke="#222" stroke-width="1.0" />
<line x1="102.00" y1="693.00" x2="105.50" y2="693.00" stroke="#222" stroke-width="1.0" />
<text x="99.20" y="695.30" font-size="6.35" fill="#222" stroke="#222" text-anchor="end" >0</text>
<line x1="102.00" y1="674.93" x2="105.50" y2="674.93" stroke="#222" stroke-width="1.0" />
<text x="99.20" y="677.23" font-size="6.35" fill="#222" stroke="#222" text-anchor="end" >6</text>
<line x1="102.00" y1="656.87" x2="105.50" y2="656.87" stroke="#222" stroke-width="1.0" />
<text x="99.20" y="659.17" font-size="6.35" fill="#222" stroke="#222" text-anchor="end" >12</text>
<line x1="102.00" y1="638.80" x2="105.50" y2="638.80" stroke="#222" stroke-width="1.0" />
<text x="99.20" y="641.10" font-size="6.35" fill="#222" stroke="#222" text-anchor="end" >18</text>
<rect x="50.30" y="638.80" width="10.70" height="54.20" fill="#17457f" stroke="none" stroke-width="0" />
<rect x="65.90" y="638.80" width="10.50" height="12.04" fill="#eef6fd" stroke="#8fb8de" stroke-width="0.6" stroke-dasharray="0.8,0.8"/>
<rect x="65.90" y="650.84" width="10.50" height="42.16" fill="#3aa3e0" stroke="none" stroke-width="0" />
<text x="55.40" y="646.00" font-size="6.2" fill="#ffffff" stroke="#ffffff" text-anchor="middle" textLength="10.50" lengthAdjust="spacingAndGlyphs" >100</text>
<text x="55.40" y="653.00" font-size="6.2" fill="#ffffff" stroke="#ffffff" text-anchor="middle" >%</text>
<text x="71.00" y="657.60" font-size="6.2" fill="#ffffff" stroke="#ffffff" text-anchor="middle" >78</text>
<text x="71.00" y="664.60" font-size="6.2" fill="#ffffff" stroke="#ffffff" text-anchor="middle" >%</text>
<line x1="55.40" y1="693.00" x2="55.40" y2="695.50" stroke="#222" stroke-width="0.8" />
<line x1="71.00" y1="693.00" x2="71.00" y2="695.50" stroke="#222" stroke-width="0.8" />
<rect x="110.50" y="638.80" width="10.00" height="3.01" fill="#fff" stroke="#1a4a88" stroke-width="0.6" />
<rect x="110.50" y="641.81" width="10.00" height="51.19" fill="#17457f" stroke="none" stroke-width="0" />
<rect x="125.50" y="638.80" width="10.00" height="33.12" fill="#eef6fd" stroke="#8fb8de" stroke-width="0.6" stroke-dasharray="0.8,0.8"/>
<rect x="125.50" y="671.92" width="10.00" height="21.08" fill="#3aa3e0" stroke="none" stroke-width="0" />
<text x="115.50" y="649.60" font-size="6.2" fill="#ffffff" stroke="#ffffff" text-anchor="middle" >94</text>
<text x="115.50" y="656.60" font-size="6.2" fill="#ffffff" stroke="#ffffff" text-anchor="middle" >%</text>
<text x="130.50" y="679.00" font-size="6.2" fill="#ffffff" stroke="#ffffff" text-anchor="middle" >39</text>
<text x="130.50" y="686.00" font-size="6.2" fill="#ffffff" stroke="#ffffff" text-anchor="middle" >%</text>
<line x1="115.50" y1="693.00" x2="115.50" y2="695.50" stroke="#222" stroke-width="0.8" />
<line x1="130.50" y1="693.00" x2="130.50" y2="695.50" stroke="#222" stroke-width="0.8" />
<line x1="114.50" y1="637.20" x2="134.50" y2="637.20" stroke="#999" stroke-width="0.9" />
<rect x="121.55" y="634.45" width="1.5" height="1.5" fill="#333"/>
<rect x="123.75" y="634.45" width="1.5" height="1.5" fill="#333"/>
<rect x="125.95" y="634.45" width="1.5" height="1.5" fill="#333"/>
<text x="20.00" y="705.00" font-size="6.35" fill="#222" stroke="#222" textLength="18.80" lengthAdjust="spacingAndGlyphs" >Donor:</text>
<text x="55.6" y="705.0" font-size="6.5" text-anchor="middle"><tspan fill="#3e5f98" font-style="italic">VF</tspan><tspan fill="#3e5f98">;</tspan></text>
<text x="55.00" y="712.50" font-size="6.35" fill="#5cb85c" stroke="#5cb85c" text-anchor="middle" >GFP</text>
<text x="71.3" y="705.0" font-size="6.5" text-anchor="middle"><tspan fill="#3e5f98" font-style="italic">VF</tspan><tspan fill="#3e5f98">;</tspan></text>
<text x="66.0" y="712.5" font-size="6.5" textLength="36.5" lengthAdjust="spacingAndGlyphs"><tspan fill="#d4466e" font-style="italic">IL-1β</tspan><tspan fill="#d4466e"><tspan font-size="3.9" dy="-2.6">−/−</tspan></tspan><tspan fill="#5cb85c" dy="2.6">;GFP</tspan></text>
<line x1="190.00" y1="621.00" x2="217.50" y2="693.00" stroke="#3d4f7a" stroke-width="0.8" stroke-dasharray="2,1.6"/>
<line x1="190.00" y1="621.00" x2="272.00" y2="680.00" stroke="#3d4f7a" stroke-width="0.8" stroke-dasharray="2,1.6"/>
<line x1="190.00" y1="621.00" x2="239.30" y2="693.00" stroke="#2a4a80" stroke-width="0.8" />
<line x1="190.00" y1="621.00" x2="272.00" y2="661.00" stroke="#5aa6dd" stroke-width="0.8" stroke-dasharray="2,1.6"/>
<line x1="190.00" y1="621.00" x2="272.00" y2="637.50" stroke="#5aa6dd" stroke-width="0.8" stroke-dasharray="2,1.6"/>
<line x1="190.00" y1="621.00" x2="272.00" y2="646.30" stroke="#5aa6dd" stroke-width="0.9" />
<circle cx="230.50" cy="680.00" r="2.0" fill="#1a4a88" stroke="#12386a" stroke-width="0.4"/>
<circle cx="269.30" cy="690.00" r="2.0" fill="#1a4a88" stroke="#12386a" stroke-width="0.4"/>
<circle cx="230.00" cy="634.50" r="1.8" fill="#fff" stroke="#5aa6dd" stroke-width="0.8"/>
<circle cx="269.30" cy="649.30" r="1.8" fill="#fff" stroke="#5aa6dd" stroke-width="0.8"/>
<circle cx="192.30" cy="622.60" r="1.7" fill="#fff" stroke="#5aa6dd" stroke-width="0.8"/>
<rect x="189.5" y="620.0" width="82.5" height="73.79999999999995" fill="none" stroke="#222" stroke-width="1.0"/>
<line x1="187.00" y1="622.00" x2="189.50" y2="622.00" stroke="#222" stroke-width="0.8" />
<text x="185.50" y="624.20" font-size="6.3" fill="#222" stroke="#222" text-anchor="end" >0.0</text>
<line x1="187.00" y1="631.83" x2="189.50" y2="631.83" stroke="#222" stroke-width="0.8" />
<text x="185.50" y="634.03" font-size="6.3" fill="#222" stroke="#222" text-anchor="end" >-0.5</text>
<line x1="187.00" y1="641.66" x2="189.50" y2="641.66" stroke="#222" stroke-width="0.8" />
<text x="185.50" y="643.86" font-size="6.3" fill="#222" stroke="#222" text-anchor="end" >-1.0</text>
<line x1="187.00" y1="651.49" x2="189.50" y2="651.49" stroke="#222" stroke-width="0.8" />
<text x="185.50" y="653.69" font-size="6.3" fill="#222" stroke="#222" text-anchor="end" >-1.5</text>
<line x1="187.00" y1="661.32" x2="189.50" y2="661.32" stroke="#222" stroke-width="0.8" />
<text x="185.50" y="663.52" font-size="6.3" fill="#222" stroke="#222" text-anchor="end" >-2.0</text>
<line x1="187.00" y1="671.15" x2="189.50" y2="671.15" stroke="#222" stroke-width="0.8" />
<text x="185.50" y="673.35" font-size="6.3" fill="#222" stroke="#222" text-anchor="end" >-2.5</text>
<line x1="187.00" y1="680.98" x2="189.50" y2="680.98" stroke="#222" stroke-width="0.8" />
<text x="185.50" y="683.18" font-size="6.3" fill="#222" stroke="#222" text-anchor="end" >-3.0</text>
<line x1="187.00" y1="690.81" x2="189.50" y2="690.81" stroke="#222" stroke-width="0.8" />
<text x="185.50" y="693.01" font-size="6.3" fill="#222" stroke="#222" text-anchor="end" >-3.5</text>
<line x1="192.00" y1="693.80" x2="192.00" y2="696.30" stroke="#222" stroke-width="0.8" />
<text x="192.00" y="705.00" font-size="6.3" fill="#222" stroke="#222" text-anchor="middle" >0</text>
<line x1="211.20" y1="693.80" x2="211.20" y2="696.30" stroke="#222" stroke-width="0.8" />
<text x="211.20" y="705.00" font-size="6.3" fill="#222" stroke="#222" text-anchor="middle" >0.5</text>
<line x1="230.40" y1="693.80" x2="230.40" y2="696.30" stroke="#222" stroke-width="0.8" />
<text x="230.40" y="705.00" font-size="6.3" fill="#222" stroke="#222" text-anchor="middle" >1</text>
<line x1="249.60" y1="693.80" x2="249.60" y2="696.30" stroke="#222" stroke-width="0.8" />
<text x="249.60" y="705.00" font-size="6.3" fill="#222" stroke="#222" text-anchor="middle" >1.5</text>
<line x1="268.80" y1="693.80" x2="268.80" y2="696.30" stroke="#222" stroke-width="0.8" />
<text x="268.80" y="705.00" font-size="6.3" fill="#222" stroke="#222" text-anchor="middle" >2</text>
<text x="0" y="0" font-size="8.0" fill="#222" text-anchor="middle" font-weight="bold" transform="translate(164.60,656.20) rotate(-90) scale(0.6859,1)">Log non-engrafted mice</text>
<text x="185.00" y="716.00" font-size="8.0" fill="#222" stroke="#222" font-weight="bold" textLength="91.00" lengthAdjust="spacingAndGlyphs" >Number of donor BM cells (×10<tspan font-size="5" dy="-2.8">6</tspan><tspan dy="2.8">)</tspan></text>
<text x="222.50" y="627.30" font-size="6.35" textLength="47.50" lengthAdjust="spacingAndGlyphs"><tspan fill="#3e5f98" font-style="italic">VF</tspan><tspan fill="#3e5f98">;</tspan><tspan fill="#d4466e" font-style="italic">IL-1β</tspan><tspan fill="#d4466e" font-style="italic"><tspan font-size="3.81" dy="-2.54">−/−</tspan></tspan><tspan fill="#5cb85c" dy="2.54">;GFP</tspan></text>
<text x="237.50" y="687.50" font-size="6.35" textLength="22.50" lengthAdjust="spacingAndGlyphs"><tspan fill="#3e5f98" font-style="italic">VF</tspan><tspan fill="#3e5f98">;</tspan><tspan fill="#5cb85c">GFP</tspan></text>
<rect x="289.5" y="620.7" width="181.8" height="45.39999999999998" fill="none" stroke="#444" stroke-width="0.8"/>
<line x1="289.50" y1="640.40" x2="471.30" y2="640.40" stroke="#444" stroke-width="0.8" />
<line x1="289.50" y1="653.10" x2="471.30" y2="653.10" stroke="#444" stroke-width="0.8" />
<line x1="361.50" y1="620.70" x2="361.50" y2="666.10" stroke="#444" stroke-width="0.8" />
<text x="302.20" y="629.20" font-size="6.3" fill="#222" stroke="#222" textLength="46.80" lengthAdjust="spacingAndGlyphs" >Donor Genotype</text>
<text x="371.50" y="629.30" font-size="6.3" fill="#222" stroke="#222" textLength="90.50" lengthAdjust="spacingAndGlyphs" >Estimate of functional stem cells</text>
<text x="385.40" y="637.00" font-size="6.3" fill="#222" stroke="#222" textLength="62.30" lengthAdjust="spacingAndGlyphs" >in donor bone marrow</text>
<text x="314.60" y="649.60" font-size="6.3" textLength="23.10" lengthAdjust="spacingAndGlyphs"><tspan fill="#3e5f98" font-style="italic">VF</tspan><tspan fill="#3e5f98">;</tspan><tspan fill="#5cb85c">GFP</tspan></text>
<text x="303.00" y="662.80" font-size="6.3" textLength="46.20" lengthAdjust="spacingAndGlyphs"><tspan fill="#3e5f98" font-style="italic">VF</tspan><tspan fill="#3e5f98">;</tspan><tspan fill="#d4466e" font-style="italic">IL-1β</tspan><tspan fill="#d4466e" font-style="italic"><tspan font-size="3.78" dy="-2.52">−/−</tspan></tspan><tspan fill="#5cb85c" dy="2.52">;GFP</tspan></text>
<text x="402.70" y="649.60" font-size="6.3" fill="#222" stroke="#222" textLength="27.70" lengthAdjust="spacingAndGlyphs" >1/335806</text>
<text x="401.00" y="662.80" font-size="6.3" fill="#222" stroke="#222" textLength="32.40" lengthAdjust="spacingAndGlyphs" >1/1627486</text>
<text x="421.0" y="676.8" font-size="6.3" fill="#222" textLength="46.3" lengthAdjust="spacingAndGlyphs"><tspan font-style="italic">P</tspan> = 1.06 × 10<tspan font-size="3.8" dy="-2.6">−5</tspan></text>
<rect x="0.5" y="0.5" width="519" height="723" fill="none" stroke="#3c3c3c" stroke-width="1.2"/>
</svg>
</body></html>
